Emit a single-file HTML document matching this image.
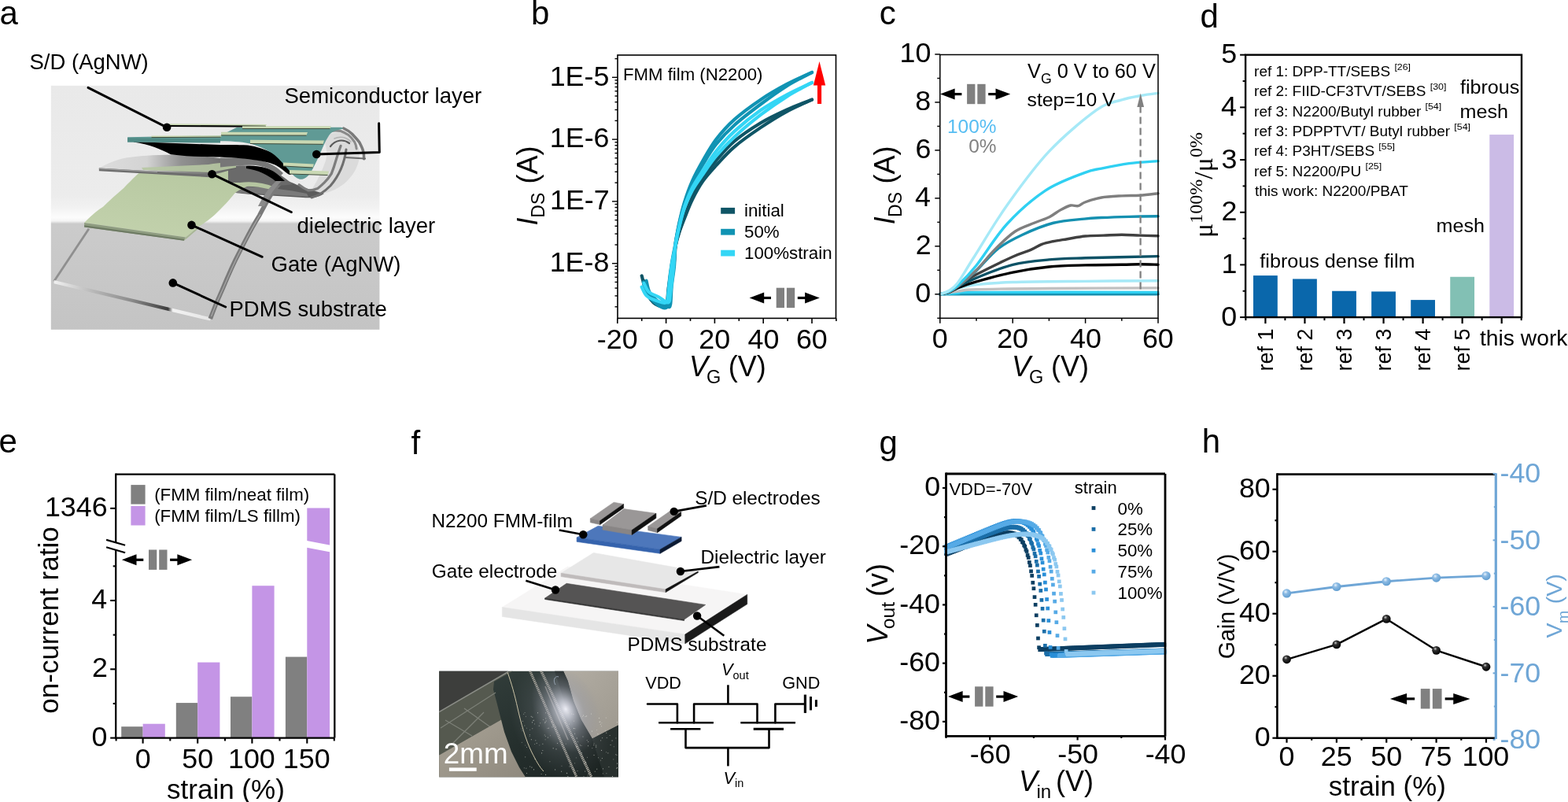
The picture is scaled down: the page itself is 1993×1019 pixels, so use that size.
<!DOCTYPE html>
<html><head><meta charset="utf-8"><title>Figure</title>
<style>html,body{margin:0;padding:0;background:#fff;}body{width:1993px;height:1019px;overflow:hidden;}svg{display:block;}</style>
</head><body>
<svg width="1993" height="1019" viewBox="0 0 1993 1019" font-family="'Liberation Sans', Arial, sans-serif">
<defs>
<linearGradient id="abg" x1="0" y1="0" x2="0" y2="1">
<stop offset="0" stop-color="#e9e9e9"/><stop offset="0.45" stop-color="#ececec"/><stop offset="0.5" stop-color="#f2f2f2"/>
<stop offset="0.54" stop-color="#fcfcfc"/><stop offset="0.555" stop-color="#f4f4f4"/><stop offset="0.566" stop-color="#cbcbcb"/><stop offset="1" stop-color="#c4c4c4"/></linearGradient>
<linearGradient id="agate" x1="0" y1="1" x2="0.3" y2="0"><stop offset="0" stop-color="#c3d2ad"/><stop offset="1" stop-color="#b8c9a2"/></linearGradient>
<linearGradient id="asubb" x1="0" y1="0" x2="1" y2="0">
<stop offset="0" stop-color="#f0f0f0"/><stop offset="0.25" stop-color="#b8b8b8"/><stop offset="0.5" stop-color="#8a8a8a"/><stop offset="0.73" stop-color="#3c3c3c"/><stop offset="0.76" stop-color="#f2f2f2"/><stop offset="1" stop-color="#e6e6e6"/></linearGradient>
<linearGradient id="adiel" x1="0" y1="0" x2="1" y2="0"><stop offset="0" stop-color="#dcdcdc"/><stop offset="0.35" stop-color="#d2d2d2"/><stop offset="0.6" stop-color="#8c8c8c"/><stop offset="1" stop-color="#5e5e5e"/></linearGradient>
<linearGradient id="agray" x1="0" y1="0" x2="1" y2="0"><stop offset="0" stop-color="#9a9a9a"/><stop offset="0.5" stop-color="#5a5a5a"/><stop offset="1" stop-color="#8a8a8a"/></linearGradient>
</defs>
<rect x="64.8" y="108.8" width="417.6" height="310" fill="url(#abg)"/>
<path d="M410,175 C420,168 432,166 444,171 C452,176 457,186 457,198 C456,212 448,224 438,233 C428,241 415,246 404,247 C398,246 396,243 398,238 C404,228 410,216 414,204 C417,194 414,182 410,175 Z" fill="#d6d6d6" opacity="0.75"/>
<path d="M293,224 C315,221 340,222 360,228 C372,232 384,238 395,241 C402,243 408,245 412,246 C405,251 395,252 385,251 C365,250 340,248 320,247 C308,246 300,245 293,244 Z" fill="#5c5c5c"/>
<path d="M300,238 C330,236 360,240 390,246 L392,250 C360,248 330,246 300,245 Z" fill="#7a7a7a"/>
<g fill="none" stroke-linecap="round">
<path d="M436.7,163 C441,165 444,167 447.3,170 C451,174 454,177 456.7,180.6 C459,185 460.5,188 461.4,191.2 C462.5,195 462.8,199 462.6,201.8" stroke="#7a7a7a" stroke-width="3.5"/>
<path d="M415.5,170 C417,168 419,167 421.3,166.5 C425,165.5 429,165.8 433.1,166.5 C437,168 440,169.5 442.5,171.2 C446,174 448.5,177 450.8,180.6 C452,183 452.8,186 453.1,188.9" stroke="#8a8a8a" stroke-width="3"/>
<path d="M433.1,185.3 C431,191 429,197 427.2,203 C425.5,209 423.5,215 421.3,220.7 C418,226 415,229.5 411.9,232.4 C409,235 406.5,237.5 403.7,239.5 C400,241 396,242 391.9,241.9 C387,240 383.5,237.5 380.1,234.8" stroke="#7d7d7d" stroke-width="3.2"/>
<path d="M440,190 C438,205 432,222 420,236 C412,244 404,249 396,251" stroke="#6e6e6e" stroke-width="3"/>
<path d="M420,186 C426,178 436,176 444,182" stroke="#5a5a5a" stroke-width="2.2"/>
<path d="M438,200 L464,201.5" stroke="#6a6a6a" stroke-width="2.2"/>
<path d="M425,176 C432,173 440,174 446,180" stroke="#b4b4b4" stroke-width="1.6"/>
</g>
<path d="M68.6,357.6 L112.9,290.7" stroke="#8f8f8f" stroke-width="2.8" fill="none"/>
<polygon points="68.6,356 267.3,403.3 267.3,407.6 68.6,360.2" fill="url(#asubb)"/>
<path d="M267.3,405 C272,392 277,380 282.4,368.4 C290,350 296,336 304,320.9 C313,303 320,289 329.9,273.4 C336,262 341,252 347.2,243.2 C352,236 357,231 362.3,228.1" stroke="#7a7a7a" stroke-width="5.6" fill="none"/>
<path d="M268.5,402 C273,390 278,378 283.5,366.6 C291,349 297,335 305,319.5 C314,302 321,288 331,272.4" stroke="#a8a8a8" stroke-width="1.2" fill="none"/>
<path d="M107.1,283.1 C118,272 126,266 131.3,262.6 C142,252 150,245 157.2,238.9 C163,233 168,228 172.3,223.8 C176,220 179,218 182,216 L300,214 C320,214 335,220 345,226 L330,232 C315,236 305,240 298,246 C290,256 284,262 275.9,270 C266,280 258,284 250,290 L236,301.5 Z" fill="url(#agate)"/>
<polygon points="107.1,283.1 236,301.5 233.8,305.8 107.1,288.5" fill="#8e9c80"/>
<polygon points="107.1,286.2 234.8,304 233.8,305.8 107.1,288.5" fill="#6d7a63"/>
<polygon points="236,301.5 250,290 252,290.5 238,302.5 233.8,305.8" fill="#a7b694"/>
<path d="M290,212 C305,209 325,210 340,214 C352,218 362,226 372,234 C360,236 345,236 330,234 C315,232 300,232 290,232 Z" fill="#6a6a6a"/>
<path d="M305,232 C320,230 335,232 350,238 L345,241 C330,237 318,236 305,237 Z" fill="#b5c5a0"/>
<path d="M328,262 C335,248 342,238 352,229 L358,230 C348,240 342,250 336,262 Z" fill="#8a8a8a"/>
<path d="M125.9,213.8 C135,208 148,203 160,200.5 C180,197 210,196 240,197 C262,198 280,201 300,204 L300,214 C280,220 270,222 267.3,222.7 C220,221 170,217 125.9,214.5 Z" fill="url(#adiel)" opacity="0.95"/>
<polygon points="125.9,213.6 267.3,221.8 267.3,225.2 125.9,217.2" fill="#6e6e6e"/>
<polygon points="125.9,213.6 200,217.8 200,219.2 125.9,215" fill="#9a9a9a"/>
<path d="M180,213 L265,209 C275,207 290,206 300,207 L300,213 L267,219 L182,216 Z" fill="#b6c6a2" opacity="0.9"/>
<path d="M280,200.6 C300,200 320,201 335,205 C345,208 352,212 360,220 L356,224 C346,216 338,212 325,210 C310,209 295,211 280,212.4 Z" fill="#777"/>
<path d="M313,211 C325,210 338,212 348,218 C354,222 358,226 362,230 L350,230 C340,222 328,216 313,214 Z" fill="#000"/>
<path d="M169.9,180.5 C190,183 205,190 217,196.2 C240,199 262,199.5 280,199.5 C300,200.6 315,201.8 325,203.5 C338.9,205.4 345,207.5 350.7,210 C357,213.5 362.4,218.3 366,221 C369.5,223 371,222 372,216 C365,208 357,200 348,195 C338,190 326,186 315,184.5 C300,184 290,184 280,184 L170,180 Z" fill="#000"/>
<path d="M162.1,174.2 L280,172.2 L301.2,161.8 L433.1,161.8 C437,162.5 437,163.5 433,164.5 C425,166 420,168 417,174 C413,180 410,188 406,197 C402,206 399,212 395,219 C391,225 386,228.5 381,227.7 C376,226.5 372,222 367,216 C361,209 356,203 349,197 C341,191 332,187 320,183 C310,180.5 300,179.5 280,179.2 L162.1,180.4 Z" fill="#609a95"/>
<polygon points="162.1,175.2 280,176.5 280,181.6 162.1,180.6" fill="#4f8a85"/>
<polygon points="212,157.2 339,158 337.5,160.2 212,159.4" fill="#c9d8b3"/>
<line x1="212" y1="159.4" x2="337.5" y2="160.2" stroke="#3f4a3a" stroke-width="1"/>
<line x1="212" y1="160" x2="338" y2="160.8" stroke="#000" stroke-width="1.8"/>
<polygon points="192.5,172.6 282,172.2 280.5,174.2 192.5,174.6" fill="#c9d8b3"/>
<line x1="192.5" y1="174.6" x2="280.5" y2="174.2" stroke="#3f4a3a" stroke-width="1"/>
<polygon points="308,160.3 421,160.3 419.5,163.5 308,163.5" fill="#c9d8b3"/>
<line x1="308" y1="163.5" x2="419.5" y2="163.5" stroke="#3f4a3a" stroke-width="1"/>
<polygon points="281,167.7 391,167.9 389.5,172.1 281,171.9" fill="#c9d8b3"/>
<line x1="281" y1="171.9" x2="389.5" y2="172.1" stroke="#3f4a3a" stroke-width="1"/>
<polygon points="318,177.7 412,178.5 410.5,183.3 318,182.5" fill="#c9d8b3"/>
<line x1="318" y1="182.5" x2="410.5" y2="183.3" stroke="#3f4a3a" stroke-width="1"/>
<polygon points="360,206.5 399,208.5 397.5,213 360,211" fill="#c9d8b3"/>
<line x1="360" y1="211" x2="397.5" y2="213" stroke="#3f4a3a" stroke-width="1"/>
<polygon points="368,216 418,217.5 416.5,222.5 368,221" fill="#c9d8b3"/>
<line x1="368" y1="221" x2="416.5" y2="222.5" stroke="#3f4a3a" stroke-width="1"/>
<polyline points="112,111.4 212.1,161.8" fill="none" stroke="#000" stroke-width="3" stroke-linejoin="round" stroke-linecap="round" stroke-linecap="butt" stroke-linejoin="miter"/>
<circle cx="212.1" cy="161.8" r="5.3" fill="#000"/>
<polyline points="402.3,196 482.3,193.6 481.6,156.7" fill="none" stroke="#000" stroke-width="3" stroke-linejoin="round" stroke-linecap="round" stroke-linecap="butt" stroke-linejoin="miter"/>
<circle cx="402.3" cy="196" r="5.3" fill="#000"/>
<polyline points="269.5,221.2 370.3,269.5" fill="none" stroke="#000" stroke-width="3" stroke-linejoin="round" stroke-linecap="round" stroke-linecap="butt" stroke-linejoin="miter"/>
<circle cx="269.5" cy="221.2" r="5.3" fill="#000"/>
<polyline points="243.5,285.9 333.2,326.3" fill="none" stroke="#000" stroke-width="3" stroke-linejoin="round" stroke-linecap="round" stroke-linecap="butt" stroke-linejoin="miter"/>
<circle cx="243.5" cy="285.9" r="5.3" fill="#000"/>
<polyline points="219.8,359.4 286.7,390" fill="none" stroke="#000" stroke-width="3" stroke-linejoin="round" stroke-linecap="round" stroke-linecap="butt" stroke-linejoin="miter"/>
<circle cx="219.8" cy="359.4" r="5.3" fill="#000"/>
<text x="37.5" y="88" font-size="27.5" text-anchor="start" fill="#000">S/D (AgNW)</text>
<text x="361.5" y="131" font-size="27.5" text-anchor="start" fill="#000">Semiconductor layer</text>
<text x="377.5" y="296" font-size="27.5" text-anchor="start" fill="#000">dielectric layer</text>
<text x="344.5" y="345.3" font-size="27.5" text-anchor="start" fill="#000">Gate (AgNW)</text>
<text x="291.5" y="402.3" font-size="27.5" text-anchor="start" fill="#000">PDMS substrate</text>
<text x="-0.59" y="30.8" font-size="42" text-anchor="start" fill="#000">a</text>
<text x="674.97" y="30.8" font-size="42" text-anchor="start" fill="#000">b</text>
<text x="1117.71" y="31" font-size="42" text-anchor="start" fill="#000">c</text>
<text x="1525.62" y="34.5" font-size="42" text-anchor="start" fill="#000">d</text>
<text x="-1.49" y="575" font-size="42" text-anchor="start" fill="#000">e</text>
<text x="522.57" y="576.8" font-size="42" text-anchor="start" fill="#000">f</text>
<text x="1117.42" y="576.5" font-size="42" text-anchor="start" fill="#000">g</text>
<text x="1527.66" y="574.8" font-size="42" text-anchor="start" fill="#000">h</text>
<path d="M818.17,356.76 C819.2,360.05 821.26,371.21 824.35,376.46 C827.44,381.72 832.59,386.84 836.71,388.28 C840.83,389.73 846.5,388.81 849.07,385.13 C851.65,381.45 850.87,374.65 852.16,366.22 C853.45,357.79 855.66,343.84 856.8,334.57 C857.93,325.31 857.88,317.35 858.96,310.63 C860.04,303.92 861.43,300.18 863.29,294.28 C865.14,288.38 867.3,282.56 870.08,275.23 C872.87,267.9 876.06,258.67 879.97,250.32 C883.89,241.97 888.52,232.85 893.57,225.13 C898.62,217.41 903.61,211.61 910.25,204 C916.9,196.39 924,187.43 933.43,179.47 C942.85,171.52 955.68,162.94 966.8,156.27 C977.93,149.59 989.31,144.34 1000.17,139.41 C1011.04,134.47 1026.7,128.79 1032,126.67" fill="none" stroke="#0f5566" stroke-width="4.2" stroke-linejoin="round" stroke-linecap="round"/>
<path d="M815.7,350.46 C816.73,353.74 818.79,364.91 821.88,370.16 C824.97,375.41 830.12,379.48 834.24,381.98 C838.36,384.48 844.02,387.76 846.6,385.13 C849.18,382.51 848.4,374.63 849.69,366.22 C850.98,357.81 852.78,343.89 854.33,334.7 C855.87,325.51 857.47,317.63 858.96,311.06 C860.45,304.49 861.43,300.95 863.29,295.3 C865.14,289.65 867.3,284.14 870.08,277.18 C872.87,270.22 876.06,261.42 879.97,253.54 C883.89,245.66 888.52,237.12 893.57,229.9 C898.62,222.67 903.61,217.42 910.25,210.2 C916.9,202.97 924,194.57 933.43,186.56 C942.85,178.54 955.68,169.61 966.8,162.13 C977.93,154.64 989.31,147.55 1000.17,141.64 C1011.04,135.73 1026.7,129.16 1032,126.67" fill="none" stroke="#0f5566" stroke-width="4.2" stroke-linejoin="round" stroke-linecap="round"/>
<path d="M821.57,356.76 C822.34,359.39 823.27,367.8 826.21,372.52 C829.14,377.25 835.42,382.24 839.18,385.13 C842.94,388.02 846.6,389.6 848.76,389.86 C850.93,390.12 851.34,391.04 852.16,386.71 C852.99,382.37 852.88,372.1 853.71,363.86 C854.53,355.61 856.33,346.11 857.11,337.24 C857.88,328.36 857.31,319.4 858.34,310.61 C859.37,301.83 861.33,293.17 863.29,284.5 C865.24,275.84 867.3,267.2 870.08,258.63 C872.87,250.07 876.06,241.44 879.97,233.12 C883.89,224.79 888.52,216.96 893.57,208.66 C898.62,200.36 903.61,191.58 910.25,183.3 C916.9,175.02 924,167.43 933.43,158.97 C942.85,150.5 955.68,140.82 966.8,132.53 C977.93,124.23 989.31,115.96 1000.17,109.2 C1011.04,102.44 1026.7,94.86 1032,92" fill="none" stroke="#1093b3" stroke-width="4.2" stroke-linejoin="round" stroke-linecap="round"/>
<path d="M817.86,358.34 C818.64,360.97 819.56,369.37 822.5,374.1 C825.43,378.83 831.72,383.82 835.48,386.71 C839.24,389.6 842.89,391.44 845.06,391.44 C847.22,391.44 847.63,391.3 848.45,386.71 C849.28,382.11 849.18,372.13 850,363.86 C850.82,355.58 852.01,345.99 853.4,337.06 C854.79,328.13 856.69,319.2 858.34,310.27 C859.99,301.34 861.33,292.41 863.29,283.48 C865.24,274.55 867.3,265.62 870.08,256.69 C872.87,247.76 876.06,238.7 879.97,229.9 C883.89,221.1 888.52,212.69 893.57,203.89 C898.62,195.09 903.61,185.77 910.25,177.1 C916.9,168.43 924,160.29 933.43,151.88 C942.85,143.48 955.68,134.15 966.8,126.67 C977.93,119.18 989.31,112.75 1000.17,106.97 C1011.04,101.19 1026.7,94.49 1032,92" fill="none" stroke="#1093b3" stroke-width="4.2" stroke-linejoin="round" stroke-linecap="round"/>
<path d="M818.48,359.92 C819.51,361.75 821.57,368.06 824.66,370.95 C827.75,373.84 832.9,375.02 837.02,377.25 C841.14,379.48 846.81,385.53 849.38,384.34 C851.96,383.16 851.34,377.77 852.47,370.16 C853.6,362.55 855.2,348.21 856.18,338.68 C857.16,329.15 857.16,321.35 858.34,312.98 C859.53,304.61 861.33,296.58 863.29,288.44 C865.24,280.31 867.3,271.93 870.08,264.15 C872.87,256.37 876.06,248.93 879.97,241.78 C883.89,234.64 888.52,228.52 893.57,221.27 C898.62,214.01 903.61,206.16 910.25,198.27 C916.9,190.38 924,182.66 933.43,173.94 C942.85,165.21 955.68,154.48 966.8,145.92 C977.93,137.37 989.31,129.42 1000.17,122.6 C1011.04,115.78 1026.7,107.93 1032,105" fill="none" stroke="#33d6f5" stroke-width="4.2" stroke-linejoin="round" stroke-linecap="round"/>
<path d="M815.7,364.64 C816.73,366.48 818.79,372.79 821.88,375.68 C824.97,378.57 830.12,380.54 834.24,381.98 C838.36,383.42 844.02,386.31 846.6,384.34 C849.18,382.37 848.56,377.78 849.69,370.16 C850.82,362.54 851.96,348.23 853.4,338.64 C854.84,329.05 856.69,321.17 858.34,312.64 C859.99,304.1 861.33,295.83 863.29,287.42 C865.24,279.01 867.3,270.35 870.08,262.2 C872.87,254.06 876.06,246.18 879.97,238.56 C883.89,230.95 888.52,224.25 893.57,216.5 C898.62,208.75 903.61,200.35 910.25,192.07 C916.9,183.8 924,175.52 933.43,166.86 C942.85,158.19 955.68,147.81 966.8,140.06 C977.93,132.32 989.31,126.21 1000.17,120.36 C1011.04,114.52 1026.7,107.56 1032,105" fill="none" stroke="#33d6f5" stroke-width="4.2" stroke-linejoin="round" stroke-linecap="round"/>
<rect x="785" y="70" width="277.5" height="334.4" fill="none" stroke="#000" stroke-width="1.6"/>
<line x1="785" y1="389.78" x2="781.5" y2="389.78" stroke="#000" stroke-width="1.4"/>
<line x1="785" y1="375.9" x2="781.5" y2="375.9" stroke="#000" stroke-width="1.4"/>
<line x1="785" y1="366.06" x2="781.5" y2="366.06" stroke="#000" stroke-width="1.4"/>
<line x1="785" y1="358.42" x2="781.5" y2="358.42" stroke="#000" stroke-width="1.4"/>
<line x1="785" y1="352.18" x2="781.5" y2="352.18" stroke="#000" stroke-width="1.4"/>
<line x1="785" y1="346.91" x2="781.5" y2="346.91" stroke="#000" stroke-width="1.4"/>
<line x1="785" y1="342.34" x2="781.5" y2="342.34" stroke="#000" stroke-width="1.4"/>
<line x1="785" y1="338.31" x2="781.5" y2="338.31" stroke="#000" stroke-width="1.4"/>
<line x1="785" y1="334.7" x2="778" y2="334.7" stroke="#000" stroke-width="1.4"/>
<line x1="785" y1="310.98" x2="781.5" y2="310.98" stroke="#000" stroke-width="1.4"/>
<line x1="785" y1="297.1" x2="781.5" y2="297.1" stroke="#000" stroke-width="1.4"/>
<line x1="785" y1="287.26" x2="781.5" y2="287.26" stroke="#000" stroke-width="1.4"/>
<line x1="785" y1="279.62" x2="781.5" y2="279.62" stroke="#000" stroke-width="1.4"/>
<line x1="785" y1="273.38" x2="781.5" y2="273.38" stroke="#000" stroke-width="1.4"/>
<line x1="785" y1="268.11" x2="781.5" y2="268.11" stroke="#000" stroke-width="1.4"/>
<line x1="785" y1="263.54" x2="781.5" y2="263.54" stroke="#000" stroke-width="1.4"/>
<line x1="785" y1="259.51" x2="781.5" y2="259.51" stroke="#000" stroke-width="1.4"/>
<line x1="785" y1="255.9" x2="778" y2="255.9" stroke="#000" stroke-width="1.4"/>
<line x1="785" y1="232.18" x2="781.5" y2="232.18" stroke="#000" stroke-width="1.4"/>
<line x1="785" y1="218.3" x2="781.5" y2="218.3" stroke="#000" stroke-width="1.4"/>
<line x1="785" y1="208.46" x2="781.5" y2="208.46" stroke="#000" stroke-width="1.4"/>
<line x1="785" y1="200.82" x2="781.5" y2="200.82" stroke="#000" stroke-width="1.4"/>
<line x1="785" y1="194.58" x2="781.5" y2="194.58" stroke="#000" stroke-width="1.4"/>
<line x1="785" y1="189.31" x2="781.5" y2="189.31" stroke="#000" stroke-width="1.4"/>
<line x1="785" y1="184.74" x2="781.5" y2="184.74" stroke="#000" stroke-width="1.4"/>
<line x1="785" y1="180.71" x2="781.5" y2="180.71" stroke="#000" stroke-width="1.4"/>
<line x1="785" y1="177.1" x2="778" y2="177.1" stroke="#000" stroke-width="1.4"/>
<line x1="785" y1="153.38" x2="781.5" y2="153.38" stroke="#000" stroke-width="1.4"/>
<line x1="785" y1="139.5" x2="781.5" y2="139.5" stroke="#000" stroke-width="1.4"/>
<line x1="785" y1="129.66" x2="781.5" y2="129.66" stroke="#000" stroke-width="1.4"/>
<line x1="785" y1="122.02" x2="781.5" y2="122.02" stroke="#000" stroke-width="1.4"/>
<line x1="785" y1="115.78" x2="781.5" y2="115.78" stroke="#000" stroke-width="1.4"/>
<line x1="785" y1="110.51" x2="781.5" y2="110.51" stroke="#000" stroke-width="1.4"/>
<line x1="785" y1="105.94" x2="781.5" y2="105.94" stroke="#000" stroke-width="1.4"/>
<line x1="785" y1="101.91" x2="781.5" y2="101.91" stroke="#000" stroke-width="1.4"/>
<line x1="785" y1="98.3" x2="778" y2="98.3" stroke="#000" stroke-width="1.4"/>
<line x1="785" y1="74.58" x2="781.5" y2="74.58" stroke="#000" stroke-width="1.4"/>
<line x1="784.8" y1="404.4" x2="784.8" y2="410.9" stroke="#000" stroke-width="1.6"/>
<line x1="815.7" y1="404.4" x2="815.7" y2="407.9" stroke="#000" stroke-width="1.6"/>
<line x1="846.6" y1="404.4" x2="846.6" y2="410.9" stroke="#000" stroke-width="1.6"/>
<line x1="877.5" y1="404.4" x2="877.5" y2="407.9" stroke="#000" stroke-width="1.6"/>
<line x1="908.4" y1="404.4" x2="908.4" y2="410.9" stroke="#000" stroke-width="1.6"/>
<line x1="939.3" y1="404.4" x2="939.3" y2="407.9" stroke="#000" stroke-width="1.6"/>
<line x1="970.2" y1="404.4" x2="970.2" y2="410.9" stroke="#000" stroke-width="1.6"/>
<line x1="1001.1" y1="404.4" x2="1001.1" y2="407.9" stroke="#000" stroke-width="1.6"/>
<line x1="1032" y1="404.4" x2="1032" y2="410.9" stroke="#000" stroke-width="1.6"/>
<line x1="1062.9" y1="404.4" x2="1062.9" y2="407.9" stroke="#000" stroke-width="1.6"/>
<text x="774.31" y="108.5" font-size="35.8" text-anchor="end" fill="#000">1E-5</text>
<text x="774.49" y="187.3" font-size="35.8" text-anchor="end" fill="#000">1E-6</text>
<text x="774.67" y="266.1" font-size="35.8" text-anchor="end" fill="#000">1E-7</text>
<text x="774.31" y="344.9" font-size="35.8" text-anchor="end" fill="#000">1E-8</text>
<text x="758.85" y="443.2" font-size="35.8" text-anchor="start" fill="#000">-20</text>
<text x="836.67" y="443.2" font-size="35.8" text-anchor="start" fill="#000">0</text>
<text x="888.35" y="443.2" font-size="35.8" text-anchor="start" fill="#000">20</text>
<text x="950.6" y="443.2" font-size="35.8" text-anchor="start" fill="#000">40</text>
<text x="1011.95" y="443.2" font-size="35.8" text-anchor="start" fill="#000">60</text>
<g transform="translate(879.1 477.8)">
<text x="-3.06" y="0" font-size="36" text-anchor="start" fill="#000" font-style="italic">V</text>
<text x="19.03" y="9.6" font-size="23.5" text-anchor="start" fill="#000">G</text>
<text x="46.74" y="0" font-size="36" text-anchor="start" fill="#000">(V)</text>
</g>
<g transform="translate(682.9 285.1) rotate(-90)">
<text x="-1.44" y="0" font-size="36" text-anchor="start" fill="#000" font-style="italic">I</text>
<text x="8.46" y="8.9" font-size="23" text-anchor="start" fill="#000">DS</text>
<text x="51.54" y="0" font-size="36" text-anchor="start" fill="#000">(A)</text>
</g>
<text x="792" y="102.1" font-size="22.2" text-anchor="start" fill="#000">FMM film (N2200)</text>
<rect x="916.2" y="263.9" width="17.9" height="7.8" fill="#0f5566"/>
<text x="946" y="274.5" font-size="22.3" text-anchor="start" fill="#000">initial</text>
<rect x="916.2" y="290.8" width="17.9" height="7.8" fill="#1093b3"/>
<text x="946" y="301.6" font-size="22.3" text-anchor="start" fill="#000">50%</text>
<rect x="916.2" y="317.7" width="17.9" height="7.8" fill="#33d6f5"/>
<text x="946" y="328.7" font-size="22.3" text-anchor="start" fill="#000">100%strain</text>
<polygon points="952.6,378.5 971.2,371.5 971.2,385.5" fill="#000"/>
<rect x="969.6" y="376.9" width="10.4" height="3.2" fill="#000"/>
<rect x="986.7" y="365.7" width="10.3" height="25.4" fill="#808080"/>
<rect x="999.9" y="365.7" width="10.3" height="25.4" fill="#808080"/>
<rect x="1013.8" y="376.9" width="10.4" height="3.2" fill="#000"/>
<polygon points="1041.8,378.5 1023.1,371.5 1023.1,385.5" fill="#000"/>
<polygon points="1041.5,78.1 1033.9,108.4 1049.2,108.4" fill="#ff0000"/>
<rect x="1039" y="107" width="5.1" height="25" fill="#ff0000"/>
<polyline points="1194.8,373.8 1472,373.8" fill="none" stroke="#1590b0" stroke-width="3.6" stroke-linejoin="round" stroke-linecap="round"/>
<path d="M1194.8,373.8 C1198.65,373.55 1210.2,372.68 1217.9,372.28 C1225.6,371.87 1198.65,371.51 1241,371.36 C1283.35,371.21 1433.5,371.36 1472,371.36" fill="none" stroke="#2fd0f2" stroke-width="3.4" stroke-linejoin="round" stroke-linecap="round"/>
<path d="M1194.8,373.8 C1198.65,373.19 1210.2,371.16 1217.9,370.14 C1225.6,369.13 1221.75,368.31 1241,367.7 C1260.25,367.09 1294.9,366.79 1333.4,366.48 C1371.9,366.18 1448.9,365.98 1472,365.88" fill="none" stroke="#c0c0c0" stroke-width="3.4" stroke-linejoin="round" stroke-linecap="round"/>
<path d="M1194.8,373.8 C1196.72,373.19 1202.5,371.41 1206.35,370.14 C1210.2,368.87 1212.12,367.6 1217.9,366.18 C1223.67,364.76 1229.45,362.88 1241,361.61 C1252.55,360.34 1264.1,359.27 1287.2,358.56 C1310.3,357.85 1348.8,357.65 1379.6,357.34 C1410.4,357.04 1456.6,356.83 1472,356.73" fill="none" stroke="#a6e9f7" stroke-width="3.4" stroke-linejoin="round" stroke-linecap="round"/>
<path d="M1194.8,373.8 C1196.72,373.39 1202.5,372.73 1206.35,371.36 C1210.2,369.99 1212.12,367.81 1217.9,365.57 C1223.67,363.34 1229.45,361.2 1241,357.95 C1252.55,354.7 1271.8,349.21 1287.2,346.06 C1302.6,342.91 1318,340.58 1333.4,339.05 C1348.8,337.53 1364.2,337.38 1379.6,336.92 C1395,336.46 1414.25,336.51 1425.8,336.31 C1437.35,336.11 1441.2,335.7 1448.9,335.7 C1456.6,335.7 1468.15,336.21 1472,336.31" fill="none" stroke="#000000" stroke-width="3.4" stroke-linejoin="round" stroke-linecap="round"/>
<path d="M1194.8,373.8 C1196.72,373.29 1202.5,372.43 1206.35,370.75 C1210.2,369.08 1212.12,366.69 1217.9,363.74 C1223.67,360.8 1229.45,357.65 1241,353.07 C1252.55,348.5 1271.8,340.17 1287.2,336.31 C1302.6,332.45 1318,331.33 1333.4,329.91 C1348.8,328.49 1356.5,328.49 1379.6,327.78 C1402.7,327.06 1456.6,326 1472,325.64" fill="none" stroke="#0d5266" stroke-width="3.4" stroke-linejoin="round" stroke-linecap="round"/>
<path d="M1194.8,373.8 C1196.72,373.34 1202.5,372.89 1206.35,371.06 C1210.2,369.23 1212.12,366.54 1217.9,362.83 C1223.67,359.12 1229.45,354.9 1241,348.81 C1252.55,342.71 1275.65,331.48 1287.2,326.25 C1298.75,321.02 1304.14,320.05 1310.3,317.41 C1316.46,314.77 1319.54,312.18 1324.16,310.4 C1328.78,308.62 1332.63,307.86 1338.02,306.74 C1343.41,305.63 1349.57,304.81 1356.5,303.7 C1363.43,302.58 1371.9,300.8 1379.6,300.04 C1387.3,299.28 1395,299.43 1402.7,299.12 C1410.4,298.82 1418.1,298.21 1425.8,298.21 C1433.5,298.21 1441.2,298.87 1448.9,299.12 C1456.6,299.38 1468.15,299.63 1472,299.73" fill="none" stroke="#404040" stroke-width="3.4" stroke-linejoin="round" stroke-linecap="round"/>
<path d="M1194.8,373.8 C1196.72,373.29 1202.5,372.43 1206.35,370.75 C1210.2,369.08 1212.12,368.21 1217.9,363.74 C1223.67,359.27 1232.53,351.91 1241,343.93 C1249.47,335.95 1258.94,323.51 1268.72,315.89 C1278.5,308.27 1287.97,303.65 1299.67,298.21 C1311.38,292.77 1325.85,286.63 1338.94,283.27 C1352.03,279.92 1368.05,279.21 1378.21,278.09 C1388.38,276.98 1390.46,277.03 1399.93,276.57 C1409.4,276.11 1423.03,275.65 1435.04,275.35 C1447.05,275.04 1465.84,274.84 1472,274.74" fill="none" stroke="#1590b0" stroke-width="3.4" stroke-linejoin="round" stroke-linecap="round"/>
<path d="M1194.8,373.8 C1196.72,373.29 1202.5,372.43 1206.35,370.75 C1210.2,369.08 1212.12,368.31 1217.9,363.74 C1223.67,359.17 1233.3,351.04 1241,343.32 C1248.7,335.6 1255.94,325.59 1264.1,317.41 C1272.26,309.23 1281.58,299.94 1289.97,294.25 C1298.37,288.56 1307.14,286.37 1314.46,283.27 C1321.77,280.18 1328.39,278.35 1333.86,275.65 C1339.33,272.96 1342.79,269.56 1347.26,267.12 C1351.73,264.68 1356.81,261.94 1360.66,261.02 C1364.51,260.11 1367.2,262.34 1370.36,261.63 C1373.52,260.92 1374.67,258.53 1379.6,256.76 C1384.53,254.98 1392.23,252.29 1399.93,250.97 C1407.63,249.64 1417.64,249.29 1425.8,248.83 C1433.96,248.37 1441.2,248.73 1448.9,248.22 C1456.6,247.71 1468.15,246.19 1472,245.78" fill="none" stroke="#7f7f7f" stroke-width="3.4" stroke-linejoin="round" stroke-linecap="round"/>
<path d="M1194.8,373.8 C1196.72,373.19 1202.5,372.07 1206.35,370.14 C1210.2,368.21 1212.12,367.7 1217.9,362.22 C1223.67,356.73 1230.64,350.18 1241,337.22 C1251.36,324.27 1265.41,300.34 1280.04,284.49 C1294.67,268.64 1312.42,252.95 1328.78,242.13 C1345.14,231.31 1366.36,224.24 1378.21,219.57 C1390.07,214.9 1390.46,216.07 1399.93,214.08 C1409.4,212.1 1423.03,209.26 1435.04,207.68 C1447.05,206.11 1465.84,205.14 1472,204.64" fill="none" stroke="#2fd0f2" stroke-width="3.4" stroke-linejoin="round" stroke-linecap="round"/>
<path d="M1194.8,373.8 C1196.72,373.04 1202.58,371.67 1206.35,369.23 C1210.12,366.79 1212.28,366.08 1217.44,359.17 C1222.6,352.26 1226.87,344.18 1237.3,327.78 C1247.74,311.37 1264.02,283.27 1280.04,260.72 C1296.06,238.16 1314.42,212.61 1333.4,192.44 C1352.38,172.28 1378.52,150.64 1393.92,139.71 C1409.32,128.79 1416.33,129.96 1425.8,126.91 C1435.27,123.86 1443.05,122.85 1450.75,121.43 C1458.45,120 1468.46,118.89 1472,118.38" fill="none" stroke="#a6e9f7" stroke-width="3.4" stroke-linejoin="round" stroke-linecap="round"/>
<line x1="1449.6" y1="367.5" x2="1449.6" y2="134" stroke="#808080" stroke-width="2.3" stroke-dasharray="9,5"/>
<polygon points="1449.7,118.6 1445.3,136 1454.1,136" fill="#808080"/>
<rect x="1194.8" y="69.5" width="277.2" height="334.8" fill="none" stroke="#000" stroke-width="1.5"/>
<line x1="1194.8" y1="404.28" x2="1191.3" y2="404.28" stroke="#000" stroke-width="1.5"/>
<line x1="1194.8" y1="373.8" x2="1188.3" y2="373.8" stroke="#000" stroke-width="1.5"/>
<line x1="1194.8" y1="343.32" x2="1191.3" y2="343.32" stroke="#000" stroke-width="1.5"/>
<line x1="1194.8" y1="312.84" x2="1188.3" y2="312.84" stroke="#000" stroke-width="1.5"/>
<line x1="1194.8" y1="282.36" x2="1191.3" y2="282.36" stroke="#000" stroke-width="1.5"/>
<line x1="1194.8" y1="251.88" x2="1188.3" y2="251.88" stroke="#000" stroke-width="1.5"/>
<line x1="1194.8" y1="221.4" x2="1191.3" y2="221.4" stroke="#000" stroke-width="1.5"/>
<line x1="1194.8" y1="190.92" x2="1188.3" y2="190.92" stroke="#000" stroke-width="1.5"/>
<line x1="1194.8" y1="160.44" x2="1191.3" y2="160.44" stroke="#000" stroke-width="1.5"/>
<line x1="1194.8" y1="129.96" x2="1188.3" y2="129.96" stroke="#000" stroke-width="1.5"/>
<line x1="1194.8" y1="99.48" x2="1191.3" y2="99.48" stroke="#000" stroke-width="1.5"/>
<line x1="1194.8" y1="69" x2="1188.3" y2="69" stroke="#000" stroke-width="1.5"/>
<line x1="1194.8" y1="404.3" x2="1194.8" y2="410.8" stroke="#000" stroke-width="1.5"/>
<line x1="1241" y1="404.3" x2="1241" y2="407.8" stroke="#000" stroke-width="1.5"/>
<line x1="1287.2" y1="404.3" x2="1287.2" y2="410.8" stroke="#000" stroke-width="1.5"/>
<line x1="1333.4" y1="404.3" x2="1333.4" y2="407.8" stroke="#000" stroke-width="1.5"/>
<line x1="1379.6" y1="404.3" x2="1379.6" y2="410.8" stroke="#000" stroke-width="1.5"/>
<line x1="1425.8" y1="404.3" x2="1425.8" y2="407.8" stroke="#000" stroke-width="1.5"/>
<line x1="1472" y1="404.3" x2="1472" y2="410.8" stroke="#000" stroke-width="1.5"/>
<text x="1183.27" y="384.1" font-size="35.8" text-anchor="end" fill="#000">0</text>
<text x="1183.63" y="323.14" font-size="35.8" text-anchor="end" fill="#000">2</text>
<text x="1182.92" y="262.18" font-size="35.8" text-anchor="end" fill="#000">4</text>
<text x="1183.45" y="201.22" font-size="35.8" text-anchor="end" fill="#000">6</text>
<text x="1183.27" y="140.26" font-size="35.8" text-anchor="end" fill="#000">8</text>
<text x="1183.31" y="79.3" font-size="35.8" text-anchor="end" fill="#000">10</text>
<text x="1184.87" y="442.2" font-size="35.8" text-anchor="start" fill="#000">0</text>
<text x="1267.15" y="442.2" font-size="35.8" text-anchor="start" fill="#000">20</text>
<text x="1359.99" y="442.2" font-size="35.8" text-anchor="start" fill="#000">40</text>
<text x="1451.95" y="442.2" font-size="35.8" text-anchor="start" fill="#000">60</text>
<g transform="translate(1289 477.8)">
<text x="-3.06" y="0" font-size="36" text-anchor="start" fill="#000" font-style="italic">V</text>
<text x="19.03" y="8.8" font-size="23.5" text-anchor="start" fill="#000">G</text>
<text x="46.94" y="0" font-size="36" text-anchor="start" fill="#000">(V)</text>
</g>
<g transform="translate(1136.8 283.7) rotate(-90)">
<text x="-1.44" y="0" font-size="36" text-anchor="start" fill="#000" font-style="italic">I</text>
<text x="7.76" y="9.2" font-size="23" text-anchor="start" fill="#000">DS</text>
<text x="50.14" y="0" font-size="36" text-anchor="start" fill="#000">(A)</text>
</g>
<text x="1306" y="98.6" font-size="25.3" text-anchor="start" fill="#000">V<tspan font-size="17.7" dy="7.2">G</tspan><tspan dy="-7.2"> 0 V to 60 V</tspan></text>
<text x="1305.6" y="134.8" font-size="24.7" text-anchor="start" fill="#000">step=10 V</text>
<text x="1204" y="169.2" font-size="24.4" text-anchor="start" fill="#56bdf2">100%</text>
<text x="1231.3" y="193.9" font-size="24.4" text-anchor="start" fill="#808080">0%</text>
<polygon points="1195,119.6 1213.6,112.6 1213.6,126.6" fill="#000"/>
<rect x="1212" y="118" width="10.4" height="3.2" fill="#000"/>
<rect x="1229.1" y="106.8" width="10.3" height="25.4" fill="#808080"/>
<rect x="1242.3" y="106.8" width="10.3" height="25.4" fill="#808080"/>
<rect x="1256.2" y="118" width="10.4" height="3.2" fill="#000"/>
<polygon points="1284.2,119.6 1265.5,112.6 1265.5,126.6" fill="#000"/>
<rect x="1593" y="350.09" width="30.8" height="53.01" fill="#0a67ab"/>
<rect x="1643.05" y="354.42" width="30.8" height="48.68" fill="#0a67ab"/>
<rect x="1693.1" y="369.76" width="30.8" height="33.34" fill="#0a67ab"/>
<rect x="1743.15" y="370.43" width="30.8" height="32.67" fill="#0a67ab"/>
<rect x="1793.2" y="381.1" width="30.8" height="22" fill="#0a67ab"/>
<rect x="1843.25" y="351.76" width="30.8" height="51.34" fill="#82c0b4"/>
<rect x="1893.3" y="171.05" width="30.8" height="232.05" fill="#cbbbe6"/>
<rect x="1583.1" y="69.7" width="350.9" height="333.4" fill="none" stroke="#000" stroke-width="2.4"/>
<line x1="1583.1" y1="403.1" x2="1576.1" y2="403.1" stroke="#000" stroke-width="2"/>
<line x1="1583.1" y1="369.76" x2="1579.6" y2="369.76" stroke="#000" stroke-width="2"/>
<line x1="1583.1" y1="336.42" x2="1576.1" y2="336.42" stroke="#000" stroke-width="2"/>
<line x1="1583.1" y1="303.08" x2="1579.6" y2="303.08" stroke="#000" stroke-width="2"/>
<line x1="1583.1" y1="269.74" x2="1576.1" y2="269.74" stroke="#000" stroke-width="2"/>
<line x1="1583.1" y1="236.4" x2="1579.6" y2="236.4" stroke="#000" stroke-width="2"/>
<line x1="1583.1" y1="203.06" x2="1576.1" y2="203.06" stroke="#000" stroke-width="2"/>
<line x1="1583.1" y1="169.72" x2="1579.6" y2="169.72" stroke="#000" stroke-width="2"/>
<line x1="1583.1" y1="136.38" x2="1576.1" y2="136.38" stroke="#000" stroke-width="2"/>
<line x1="1583.1" y1="103.04" x2="1579.6" y2="103.04" stroke="#000" stroke-width="2"/>
<line x1="1583.1" y1="69.7" x2="1576.1" y2="69.7" stroke="#000" stroke-width="2"/>
<line x1="1608.4" y1="403.1" x2="1608.4" y2="411.1" stroke="#000" stroke-width="2.2"/>
<line x1="1633.4" y1="403.1" x2="1633.4" y2="407.1" stroke="#000" stroke-width="2"/>
<line x1="1658.45" y1="403.1" x2="1658.45" y2="411.1" stroke="#000" stroke-width="2.2"/>
<line x1="1683.45" y1="403.1" x2="1683.45" y2="407.1" stroke="#000" stroke-width="2"/>
<line x1="1708.5" y1="403.1" x2="1708.5" y2="411.1" stroke="#000" stroke-width="2.2"/>
<line x1="1733.5" y1="403.1" x2="1733.5" y2="407.1" stroke="#000" stroke-width="2"/>
<line x1="1758.55" y1="403.1" x2="1758.55" y2="411.1" stroke="#000" stroke-width="2.2"/>
<line x1="1783.55" y1="403.1" x2="1783.55" y2="407.1" stroke="#000" stroke-width="2"/>
<line x1="1808.6" y1="403.1" x2="1808.6" y2="411.1" stroke="#000" stroke-width="2.2"/>
<line x1="1833.6" y1="403.1" x2="1833.6" y2="407.1" stroke="#000" stroke-width="2"/>
<line x1="1858.65" y1="403.1" x2="1858.65" y2="411.1" stroke="#000" stroke-width="2.2"/>
<line x1="1883.65" y1="403.1" x2="1883.65" y2="407.1" stroke="#000" stroke-width="2"/>
<line x1="1908.7" y1="403.1" x2="1908.7" y2="411.1" stroke="#000" stroke-width="2.2"/>
<line x1="1933.7" y1="403.1" x2="1933.7" y2="407.1" stroke="#000" stroke-width="2"/>
<line x1="1583.4" y1="403.1" x2="1583.4" y2="407.1" stroke="#000" stroke-width="2"/>
<text x="1572.17" y="413.7" font-size="35.8" text-anchor="end" fill="#000">0</text>
<text x="1572.53" y="347.02" font-size="35.8" text-anchor="end" fill="#000">1</text>
<text x="1572.53" y="280.34" font-size="35.8" text-anchor="end" fill="#000">2</text>
<text x="1572.35" y="213.66" font-size="35.8" text-anchor="end" fill="#000">3</text>
<text x="1571.82" y="146.98" font-size="35.8" text-anchor="end" fill="#000">4</text>
<text x="1572.17" y="80.3" font-size="35.8" text-anchor="end" fill="#000">5</text>
<text x="0" y="0" font-size="27" text-anchor="start" fill="#000" transform="translate(1618.1 471.56) scale(1.04 1) rotate(-90)">ref 1</text>
<text x="0" y="0" font-size="27" text-anchor="start" fill="#000" transform="translate(1668.15 471.56) scale(1.04 1) rotate(-90)">ref 2</text>
<text x="0" y="0" font-size="27" text-anchor="start" fill="#000" transform="translate(1718.2 471.56) scale(1.04 1) rotate(-90)">ref 3</text>
<text x="0" y="0" font-size="27" text-anchor="start" fill="#000" transform="translate(1768.25 471.56) scale(1.04 1) rotate(-90)">ref 3</text>
<text x="0" y="0" font-size="27" text-anchor="start" fill="#000" transform="translate(1818.3 471.56) scale(1.04 1) rotate(-90)">ref 4</text>
<text x="0" y="0" font-size="27" text-anchor="start" fill="#000" transform="translate(1868.35 471.56) scale(1.04 1) rotate(-90)">ref 5</text>
<text x="0" y="0" font-size="26.9" text-anchor="start" fill="#000" transform="translate(1880.98 438.6) scale(1.05 1)">this work</text>
<text x="0" y="0" font-size="17.6" text-anchor="start" fill="#000" transform="translate(1594.07 97) scale(1.08 1)">ref 1: DPP-TT/SEBS <tspan font-size="11.5" dy="-8.4">[26]</tspan></text>
<text x="0" y="0" font-size="17.6" text-anchor="start" fill="#000" transform="translate(1594.07 122.33) scale(1.08 1)">ref 2: FIID-CF3TVT/SEBS <tspan font-size="11.5" dy="-8.4">[30]</tspan></text>
<text x="0" y="0" font-size="17.6" text-anchor="start" fill="#000" transform="translate(1594.07 147.66) scale(1.08 1)">ref 3: N2200/Butyl rubber <tspan font-size="11.5" dy="-8.4">[54]</tspan></text>
<text x="0" y="0" font-size="17.6" text-anchor="start" fill="#000" transform="translate(1594.07 172.99) scale(1.08 1)">ref 3: PDPPTVT/ Butyl rubber <tspan font-size="11.5" dy="-8.4">[54]</tspan></text>
<text x="0" y="0" font-size="17.6" text-anchor="start" fill="#000" transform="translate(1594.07 198.32) scale(1.08 1)">ref 4: P3HT/SEBS <tspan font-size="11.5" dy="-8.4">[55]</tspan></text>
<text x="0" y="0" font-size="17.6" text-anchor="start" fill="#000" transform="translate(1594.07 223.65) scale(1.08 1)">ref 5: N2200/PU <tspan font-size="11.5" dy="-8.4">[25]</tspan></text>
<text x="0" y="0" font-size="17.6" text-anchor="start" fill="#000" transform="translate(1595.02 248.98) scale(1.08 1)">this work: N2200/PBAT</text>
<text x="0" y="0" font-size="24.2" text-anchor="start" fill="#000" transform="translate(1601.32 340) scale(1.04 1)">fibrous dense film</text>
<text x="0" y="0" font-size="24.2" text-anchor="start" fill="#000" transform="translate(1825.56 294.9) scale(1.04 1)">mesh</text>
<text x="0" y="0" font-size="24.2" text-anchor="start" fill="#000" transform="translate(1855.92 119.4) scale(1.04 1)">fibrous</text>
<text x="0" y="0" font-size="24.2" text-anchor="start" fill="#000" transform="translate(1855.56 150.2) scale(1.04 1)">mesh</text>
<text x="1540.9" y="235" font-size="34" text-anchor="middle" fill="#000" transform="rotate(-90 1540.9 235)" font-family="'Liberation Serif', serif">&#956;<tspan font-size="24" dy="-12.6">100%</tspan><tspan dy="12.6">/&#956;</tspan><tspan font-size="24" dy="-12.6">0%</tspan></text>
<rect x="154.2" y="923.2" width="27.4" height="14.4" fill="#808080"/>
<rect x="181.6" y="919.7" width="28.2" height="17.9" fill="#c495e6"/>
<rect x="223.8" y="893.08" width="27.4" height="44.52" fill="#808080"/>
<rect x="251.2" y="841.57" width="28.2" height="96.03" fill="#c495e6"/>
<rect x="293" y="885.22" width="27.4" height="52.38" fill="#808080"/>
<rect x="320.4" y="744.23" width="28.2" height="193.37" fill="#c495e6"/>
<rect x="362.9" y="834.59" width="27.4" height="103.01" fill="#808080"/>
<rect x="390.3" y="645.5" width="28.8" height="292.1" fill="#c495e6"/>
<polygon points="386,686.2 424,693.6 424,702.3 386,695" fill="#fff"/>
<line x1="147.2" y1="602.6" x2="425.3" y2="602.6" stroke="#000" stroke-width="2.3"/>
<line x1="425.3" y1="602.6" x2="425.3" y2="937.6" stroke="#000" stroke-width="2.3"/>
<line x1="147.2" y1="937.6" x2="425.3" y2="937.6" stroke="#000" stroke-width="2.3"/>
<line x1="147.2" y1="601.5" x2="147.2" y2="689.4" stroke="#000" stroke-width="2.3"/>
<line x1="147.2" y1="698.2" x2="147.2" y2="938.7" stroke="#000" stroke-width="2.3"/>
<line x1="135.1" y1="685.9" x2="159.1" y2="692.8" stroke="#000" stroke-width="2.2"/>
<line x1="135.1" y1="695.2" x2="159.1" y2="702.3" stroke="#000" stroke-width="2.2"/>
<line x1="147.2" y1="937.6" x2="140.2" y2="937.6" stroke="#000" stroke-width="2.1"/>
<line x1="147.2" y1="850.3" x2="140.2" y2="850.3" stroke="#000" stroke-width="2.1"/>
<line x1="147.2" y1="763" x2="140.2" y2="763" stroke="#000" stroke-width="2.1"/>
<line x1="147.2" y1="893.95" x2="143.7" y2="893.95" stroke="#000" stroke-width="2.1"/>
<line x1="147.2" y1="806.65" x2="143.7" y2="806.65" stroke="#000" stroke-width="2.1"/>
<line x1="147.2" y1="719.35" x2="143.7" y2="719.35" stroke="#000" stroke-width="2.1"/>
<line x1="147.2" y1="645.9" x2="140.2" y2="645.9" stroke="#000" stroke-width="2.1"/>
<line x1="181.6" y1="937.6" x2="181.6" y2="944.6" stroke="#000" stroke-width="2.1"/>
<line x1="251.2" y1="937.6" x2="251.2" y2="944.6" stroke="#000" stroke-width="2.1"/>
<line x1="320.4" y1="937.6" x2="320.4" y2="944.6" stroke="#000" stroke-width="2.1"/>
<line x1="390.3" y1="937.6" x2="390.3" y2="944.6" stroke="#000" stroke-width="2.1"/>
<line x1="147.6" y1="937.6" x2="147.6" y2="941.4" stroke="#000" stroke-width="2.1"/>
<line x1="216.3" y1="937.6" x2="216.3" y2="941.4" stroke="#000" stroke-width="2.1"/>
<line x1="286" y1="937.6" x2="286" y2="941.4" stroke="#000" stroke-width="2.1"/>
<line x1="355.5" y1="937.6" x2="355.5" y2="941.4" stroke="#000" stroke-width="2.1"/>
<line x1="424.8" y1="937.6" x2="424.8" y2="941.4" stroke="#000" stroke-width="2.1"/>
<text x="136.47" y="947.5" font-size="35.8" text-anchor="end" fill="#000">0</text>
<text x="136.83" y="860.2" font-size="35.8" text-anchor="end" fill="#000">2</text>
<text x="136.12" y="772.9" font-size="35.8" text-anchor="end" fill="#000">4</text>
<text x="136.6" y="656" font-size="35.8" text-anchor="end" fill="#000">1346</text>
<text x="171.66" y="975.6" font-size="35.8" text-anchor="start" fill="#000">0</text>
<text x="231.33" y="975.6" font-size="35.8" text-anchor="start" fill="#000">50</text>
<text x="289.97" y="975.6" font-size="35.8" text-anchor="start" fill="#000">100</text>
<text x="359.87" y="975.6" font-size="35.8" text-anchor="start" fill="#000">150</text>
<text x="212.05" y="1014.7" font-size="35" text-anchor="start" fill="#000">strain (%)</text>
<g transform="translate(73.6 905.3) rotate(-90)">
<text x="-1.4" y="0" font-size="35" text-anchor="start" fill="#000">on-current ratio</text>
</g>
<rect x="166.4" y="616.1" width="18.2" height="24.5" fill="#808080"/>
<rect x="166.4" y="643" width="18.2" height="24.5" fill="#c495e6"/>
<text x="196.2" y="636.3" font-size="22.3" text-anchor="start" fill="#000">(FMM film/neat film)</text>
<text x="196.2" y="663" font-size="22.3" text-anchor="start" fill="#000">(FMM film/LS fillm)</text>
<polygon points="154.9,711.3 173.5,704.3 173.5,718.3" fill="#000"/>
<rect x="171.9" y="709.7" width="10.4" height="3.2" fill="#000"/>
<rect x="189" y="698.5" width="10.3" height="25.4" fill="#808080"/>
<rect x="202.2" y="698.5" width="10.3" height="25.4" fill="#808080"/>
<rect x="216.1" y="709.7" width="10.4" height="3.2" fill="#000"/>
<polygon points="244.1,711.3 225.4,704.3 225.4,718.3" fill="#000"/>
<polygon points="638.4,771.6 721.3,720.1 949.7,755.4 870.8,806" fill="#f6f5f5" stroke="#f6f5f5" stroke-width="0.6" stroke-linejoin="round"/>
<polygon points="638.4,771.6 870.8,806 870.8,817.8 638.4,783.4" fill="#e5e5e5" stroke="#e5e5e5" stroke-width="0.6" stroke-linejoin="round"/>
<polygon points="870.8,806 949.7,755.4 949.7,767.6 870.8,817.8" fill="#1a1a1a" stroke="#1a1a1a" stroke-width="0.6" stroke-linejoin="round"/>
<polygon points="692.6,760.1 720.1,741.3 896.7,768.4 869.6,787.2" fill="#555454" stroke="#555454" stroke-width="0.6" stroke-linejoin="round"/>
<polygon points="692.6,760.1 869.6,787.2 869.6,788.6 692.6,761.5" fill="#333" stroke="#333" stroke-width="0.6" stroke-linejoin="round"/>
<polygon points="713.1,728.3 754.3,702.4 887.3,726 846.1,748.8" fill="#e7e7e7" stroke="#e7e7e7" stroke-width="0.6" stroke-linejoin="round"/>
<polygon points="713.1,728.3 846.1,748.8 846.1,752.6 713.1,732.6" fill="#bfbbbb" stroke="#bfbbbb" stroke-width="0.6" stroke-linejoin="round"/>
<polygon points="846.1,748.8 887.3,726 887.3,727.6 846.1,752.6" fill="#111" stroke="#111" stroke-width="0.6" stroke-linejoin="round"/>
<polygon points="733.1,683 760.2,668.3 866.1,682.4 839,698.2" fill="#4d77bb" stroke="#4d77bb" stroke-width="0.6" stroke-linejoin="round"/>
<polygon points="733.1,683 839,698.2 839,703.3 733.1,688.3" fill="#3563ad" stroke="#3563ad" stroke-width="0.6" stroke-linejoin="round"/>
<polygon points="839,698.2 866.1,682.4 866.1,687.5 839,703.3" fill="#0b1a33" stroke="#0b1a33" stroke-width="0.6" stroke-linejoin="round"/>
<polygon points="750.3,658.9 780.2,638.2 792.6,640.5 762.6,661.7" fill="#9a9797" stroke="#9a9797" stroke-width="0.6"/>
<polygon points="750.3,658.9 762.6,661.7 762.6,666.6 750.3,663.8" fill="#888585" stroke="#888585" stroke-width="0.6"/>
<polygon points="762.6,661.7 792.6,640.5 792.6,645.4 762.6,666.6" fill="#111" stroke="#111" stroke-width="0.6"/>
<polygon points="766,667.1 793.1,646.6 833.9,652.3 803.2,673.5" fill="#9a9797" stroke="#9a9797" stroke-width="0.6"/>
<polygon points="766,667.1 803.2,673.5 803.2,679.5 766,673.1" fill="#888585" stroke="#888585" stroke-width="0.6"/>
<polygon points="803.2,673.5 833.9,652.3 833.9,658.3 803.2,679.5" fill="#111" stroke="#111" stroke-width="0.6"/>
<polygon points="823.7,668.8 853.2,648.3 865.7,650.6 835.5,671.8" fill="#9a9797" stroke="#9a9797" stroke-width="0.6"/>
<polygon points="823.7,668.8 835.5,671.8 835.5,676.7 823.7,673.7" fill="#888585" stroke="#888585" stroke-width="0.6"/>
<polygon points="835.5,671.8 865.7,650.6 865.7,655.5 835.5,676.7" fill="#111" stroke="#111" stroke-width="0.6"/>
<text x="548.5" y="669.5" font-size="24.3" text-anchor="start" fill="#000">N2200 FMM-film</text>
<line x1="710.7" y1="673.5" x2="741.3" y2="679.3" stroke="#000" stroke-width="2.6"/>
<circle cx="741.3" cy="679.3" r="5.2" fill="#000"/>
<text x="883.2" y="640.5" font-size="24.3" text-anchor="start" fill="#000">S/D electrodes</text>
<line x1="897.9" y1="642.4" x2="856.7" y2="649.9" stroke="#000" stroke-width="2.6"/>
<circle cx="856.7" cy="649.9" r="5.2" fill="#000"/>
<text x="890.5" y="715.8" font-size="24.3" text-anchor="start" fill="#000">Dielectric layer</text>
<line x1="914.4" y1="720.1" x2="864.9" y2="726" stroke="#000" stroke-width="2.6"/>
<circle cx="864.9" cy="726" r="5.2" fill="#000"/>
<text x="548.8" y="734.2" font-size="24.3" text-anchor="start" fill="#000">Gate electrode</text>
<line x1="668.3" y1="737.7" x2="706" y2="749.5" stroke="#000" stroke-width="2.6"/>
<circle cx="706" cy="749.5" r="5.2" fill="#000"/>
<text x="797.5" y="827.2" font-size="24.3" text-anchor="start" fill="#000">PDMS substrate</text>
<line x1="920.3" y1="807.7" x2="886.1" y2="782.5" stroke="#000" stroke-width="2.6"/>
<circle cx="886.1" cy="782.5" r="5.2" fill="#000"/>
<defs>
<radialGradient id="phglow" cx="0.5" cy="0.5" r="0.5"><stop offset="0" stop-color="#f4f4fc" stop-opacity="0.95"/><stop offset="0.2" stop-color="#d8dae6" stop-opacity="0.75"/><stop offset="0.55" stop-color="#9a9eaa" stop-opacity="0.35"/><stop offset="1" stop-color="#8a8c98" stop-opacity="0"/></radialGradient>
<linearGradient id="phbeige" x1="0" y1="0" x2="1" y2="1"><stop offset="0" stop-color="#a9a396"/><stop offset="1" stop-color="#8f897e"/></linearGradient>
<linearGradient id="phright" x1="0" y1="0" x2="1" y2="1"><stop offset="0" stop-color="#b2ada3"/><stop offset="1" stop-color="#9e998f"/></linearGradient>
<linearGradient id="phgreen" x1="0" y1="0" x2="1" y2="1"><stop offset="0" stop-color="#36423f"/><stop offset="0.6" stop-color="#242e2c"/><stop offset="1" stop-color="#1b2322"/></linearGradient>
<clipPath id="phclip"><rect x="558.1" y="852.5" width="227.9" height="135.1"/></clipPath>
</defs>
<g clip-path="url(#phclip)">
<rect x="558.1" y="852.5" width="227.9" height="135.1" fill="url(#phgreen)"/>
<polygon points="558.1,852.5 646,852.5 558.1,904.5" fill="#3d3e3c"/>
<polygon points="558.1,904.5 646,853.5 652,852.5 628,866 627,876 631,891 637,914.4 558.1,959.6" fill="#55594f"/>
<line x1="560" y1="925" x2="630" y2="880" stroke="#7d8078" stroke-width="1.2"/>
<line x1="575" y1="945" x2="615" y2="905" stroke="#7d8078" stroke-width="1.2"/>
<line x1="566" y1="915" x2="600" y2="935" stroke="#7d8078" stroke-width="1.2"/>
<line x1="590" y1="900" x2="625" y2="925" stroke="#7d8078" stroke-width="1.2"/>
<line x1="558.1" y1="904.5" x2="646" y2="853.5" stroke="#8a8c86" stroke-width="1.5"/>
<polygon points="558.1,959.6 637,914.4 641,930 650,955 660,975 668,987.6 558.1,987.6" fill="url(#phbeige)"/>
<polygon points="716,852.5 786,852.5 786,921.5 752.8,938.4 738.7,914.4 728.8,890.4 721.7,865" fill="url(#phright)"/>
<polygon points="705,852.5 716,852.5 721.7,865 728.8,890.4 738.7,914.4 752.8,938.4 768,987.6 752,987.6 735,940 722,905 712,875" fill="#1c2422"/>
<polygon points="752.8,938.4 786,921.5 786,987.6 768,987.6" fill="#28302e"/>
<g stroke-linecap="butt" fill="none">
<path d="M673.7,852.5 L733,987.6" stroke="#bcb6aa" stroke-width="3.2" stroke-dasharray="1.5,0.8" opacity="0.85"/>
<path d="M687.8,852.5 L752,987.6" stroke="#c0baae" stroke-width="3.4" stroke-dasharray="1.5,0.8" opacity="0.85"/>
<path d="M693,872 L722,940" stroke="#a8a298" stroke-width="1.6" opacity="0.7"/>
<path d="M645.4,855 C650,868 654,882 658,900 C662,918 668,940 676,956 C681,966 686,975 691,980" stroke="#cfc6a8" stroke-width="1"/>
<path d="M706,870 C702,864 706,858 710,860" stroke="#9ab" stroke-width="1"/>
</g>
<ellipse cx="712" cy="915" rx="60" ry="80" transform="rotate(-25 712 915)" fill="url(#phglow)" opacity="0.45"/><ellipse cx="719" cy="901" rx="40" ry="58" transform="rotate(-25 719 901)" fill="url(#phglow)"/>
<rect x="700.8" y="917.37" width="0.9" height="0.9" fill="#e8e8e0" opacity="0.73"/>
<rect x="669.13" y="948.94" width="0.9" height="0.9" fill="#e8e8e0" opacity="0.58"/>
<rect x="667.31" y="946.61" width="0.9" height="0.9" fill="#e8e8e0" opacity="0.42"/>
<rect x="714.64" y="910.73" width="0.9" height="0.9" fill="#e8e8e0" opacity="0.45"/>
<rect x="713.49" y="972.8" width="0.9" height="0.9" fill="#e8e8e0" opacity="0.46"/>
<rect x="688.13" y="956.45" width="0.9" height="0.9" fill="#e8e8e0" opacity="0.87"/>
<rect x="732.71" y="937.53" width="0.9" height="0.9" fill="#e8e8e0" opacity="0.89"/>
<rect x="665.87" y="975.39" width="0.9" height="0.9" fill="#e8e8e0" opacity="0.54"/>
<rect x="678.18" y="914.66" width="0.9" height="0.9" fill="#e8e8e0" opacity="0.55"/>
<rect x="762.83" y="919.82" width="0.9" height="0.9" fill="#e8e8e0" opacity="0.69"/>
<rect x="740.5" y="935.54" width="0.9" height="0.9" fill="#e8e8e0" opacity="0.67"/>
<rect x="667.91" y="909.89" width="0.9" height="0.9" fill="#e8e8e0" opacity="0.5"/>
<rect x="745.73" y="940.06" width="0.9" height="0.9" fill="#e8e8e0" opacity="0.56"/>
<rect x="733.78" y="942.16" width="0.9" height="0.9" fill="#e8e8e0" opacity="0.55"/>
<rect x="760.09" y="962.32" width="0.9" height="0.9" fill="#e8e8e0" opacity="0.52"/>
<rect x="732.38" y="948.07" width="0.9" height="0.9" fill="#e8e8e0" opacity="0.84"/>
<rect x="751.91" y="928.61" width="0.9" height="0.9" fill="#e8e8e0" opacity="0.89"/>
<rect x="674.88" y="939.29" width="0.9" height="0.9" fill="#e8e8e0" opacity="0.78"/>
<rect x="679.15" y="945.09" width="0.9" height="0.9" fill="#e8e8e0" opacity="0.42"/>
<rect x="744.2" y="967.69" width="0.9" height="0.9" fill="#e8e8e0" opacity="0.69"/>
<rect x="770.31" y="930.73" width="0.9" height="0.9" fill="#e8e8e0" opacity="0.75"/>
<rect x="734.89" y="952.55" width="0.9" height="0.9" fill="#e8e8e0" opacity="0.63"/>
<rect x="765.84" y="982.46" width="0.9" height="0.9" fill="#e8e8e0" opacity="0.64"/>
<rect x="743.68" y="909.97" width="0.9" height="0.9" fill="#e8e8e0" opacity="0.75"/>
<rect x="741.54" y="986.43" width="0.9" height="0.9" fill="#e8e8e0" opacity="0.81"/>
<rect x="695.86" y="936.63" width="0.9" height="0.9" fill="#e8e8e0" opacity="0.73"/>
<rect x="662.84" y="942.86" width="0.9" height="0.9" fill="#e8e8e0" opacity="0.48"/>
<rect x="674.75" y="909.83" width="0.9" height="0.9" fill="#e8e8e0" opacity="0.78"/>
<rect x="676.3" y="925.3" width="0.9" height="0.9" fill="#e8e8e0" opacity="0.6"/>
<rect x="769.8" y="911.61" width="0.9" height="0.9" fill="#e8e8e0" opacity="0.62"/>
<rect x="729.23" y="977.44" width="0.9" height="0.9" fill="#e8e8e0" opacity="0.81"/>
<rect x="768.86" y="927.83" width="0.9" height="0.9" fill="#e8e8e0" opacity="0.61"/>
<rect x="705.21" y="977.5" width="0.9" height="0.9" fill="#e8e8e0" opacity="0.88"/>
<rect x="679.02" y="919.45" width="0.9" height="0.9" fill="#e8e8e0" opacity="0.52"/>
<rect x="689.4" y="944.77" width="0.9" height="0.9" fill="#e8e8e0" opacity="0.69"/>
<rect x="693.11" y="905.34" width="0.9" height="0.9" fill="#e8e8e0" opacity="0.61"/>
<rect x="706.53" y="951.44" width="0.9" height="0.9" fill="#e8e8e0" opacity="0.88"/>
<rect x="747" y="947.27" width="0.9" height="0.9" fill="#e8e8e0" opacity="0.71"/>
<rect x="745.2" y="909.43" width="0.9" height="0.9" fill="#e8e8e0" opacity="0.85"/>
<rect x="758.28" y="976.71" width="0.9" height="0.9" fill="#e8e8e0" opacity="0.8"/>
<rect x="709.44" y="937.72" width="0.9" height="0.9" fill="#e8e8e0" opacity="0.45"/>
<rect x="739.92" y="910.1" width="0.9" height="0.9" fill="#e8e8e0" opacity="0.43"/>
<rect x="686.3" y="918.31" width="0.9" height="0.9" fill="#e8e8e0" opacity="0.57"/>
<rect x="666.62" y="905.02" width="0.9" height="0.9" fill="#e8e8e0" opacity="0.48"/>
<rect x="672.78" y="934.82" width="0.9" height="0.9" fill="#e8e8e0" opacity="0.41"/>
<rect x="770.17" y="955.35" width="0.9" height="0.9" fill="#e8e8e0" opacity="0.47"/>
<rect x="691.78" y="933.49" width="0.9" height="0.9" fill="#e8e8e0" opacity="0.58"/>
<rect x="675.48" y="974.61" width="0.9" height="0.9" fill="#e8e8e0" opacity="0.9"/>
<rect x="718.71" y="944.67" width="0.9" height="0.9" fill="#e8e8e0" opacity="0.44"/>
<rect x="672.88" y="933.1" width="0.9" height="0.9" fill="#e8e8e0" opacity="0.53"/>
<rect x="764.44" y="918.24" width="0.9" height="0.9" fill="#e8e8e0" opacity="0.41"/>
<rect x="779.82" y="948.32" width="0.9" height="0.9" fill="#e8e8e0" opacity="0.47"/>
<rect x="728.44" y="907.22" width="0.9" height="0.9" fill="#e8e8e0" opacity="0.66"/>
<rect x="783.29" y="975.79" width="0.9" height="0.9" fill="#e8e8e0" opacity="0.75"/>
<rect x="692.9" y="935.07" width="0.9" height="0.9" fill="#e8e8e0" opacity="0.48"/>
<rect x="757.26" y="948.67" width="0.9" height="0.9" fill="#e8e8e0" opacity="0.79"/>
<rect x="701.54" y="923.29" width="0.9" height="0.9" fill="#e8e8e0" opacity="0.81"/>
<rect x="784.1" y="974.92" width="0.9" height="0.9" fill="#e8e8e0" opacity="0.8"/>
<rect x="763.11" y="965.67" width="0.9" height="0.9" fill="#e8e8e0" opacity="0.51"/>
<rect x="725.22" y="934.16" width="0.9" height="0.9" fill="#e8e8e0" opacity="0.41"/>
<rect x="663.52" y="927.91" width="0.9" height="0.9" fill="#e8e8e0" opacity="0.53"/>
<rect x="747.26" y="983.43" width="0.9" height="0.9" fill="#e8e8e0" opacity="0.62"/>
<rect x="778.06" y="986.02" width="0.9" height="0.9" fill="#e8e8e0" opacity="0.88"/>
<rect x="705.94" y="923.08" width="0.9" height="0.9" fill="#e8e8e0" opacity="0.51"/>
<rect x="684.78" y="921.76" width="0.9" height="0.9" fill="#e8e8e0" opacity="0.71"/>
<rect x="773.44" y="973.92" width="0.9" height="0.9" fill="#e8e8e0" opacity="0.64"/>
<rect x="742.28" y="970.57" width="0.9" height="0.9" fill="#e8e8e0" opacity="0.44"/>
<rect x="743.23" y="979.6" width="0.9" height="0.9" fill="#e8e8e0" opacity="0.79"/>
<rect x="754.52" y="944.2" width="0.9" height="0.9" fill="#e8e8e0" opacity="0.49"/>
<rect x="759.43" y="932.27" width="0.9" height="0.9" fill="#e8e8e0" opacity="0.8"/>
<rect x="782.43" y="937.46" width="0.9" height="0.9" fill="#e8e8e0" opacity="0.6"/>
<rect x="779.3" y="964.43" width="0.9" height="0.9" fill="#e8e8e0" opacity="0.49"/>
<rect x="676.01" y="917.39" width="0.9" height="0.9" fill="#e8e8e0" opacity="0.85"/>
<rect x="761.62" y="916.99" width="0.9" height="0.9" fill="#e8e8e0" opacity="0.81"/>
<rect x="783.52" y="958.9" width="0.9" height="0.9" fill="#e8e8e0" opacity="0.58"/>
<rect x="729.13" y="915.74" width="0.9" height="0.9" fill="#e8e8e0" opacity="0.41"/>
<rect x="782.33" y="958.27" width="0.9" height="0.9" fill="#e8e8e0" opacity="0.66"/>
<rect x="777.64" y="940.57" width="0.9" height="0.9" fill="#e8e8e0" opacity="0.84"/>
<rect x="764.1" y="922.31" width="0.9" height="0.9" fill="#e8e8e0" opacity="0.53"/>
<rect x="696.91" y="924.72" width="0.9" height="0.9" fill="#e8e8e0" opacity="0.69"/>
<rect x="692.68" y="939.36" width="0.9" height="0.9" fill="#e8e8e0" opacity="0.47"/>
<rect x="774.66" y="934.01" width="0.9" height="0.9" fill="#e8e8e0" opacity="0.63"/>
<rect x="733.5" y="979.15" width="0.9" height="0.9" fill="#e8e8e0" opacity="0.61"/>
<rect x="775.63" y="946.14" width="0.9" height="0.9" fill="#e8e8e0" opacity="0.67"/>
<rect x="725.96" y="906.53" width="0.9" height="0.9" fill="#e8e8e0" opacity="0.62"/>
<rect x="683.07" y="905.32" width="0.9" height="0.9" fill="#e8e8e0" opacity="0.8"/>
<rect x="681.72" y="943.83" width="0.9" height="0.9" fill="#e8e8e0" opacity="0.76"/>
<rect x="730.12" y="931.73" width="0.9" height="0.9" fill="#e8e8e0" opacity="0.66"/>
<rect x="729.99" y="969.31" width="0.9" height="0.9" fill="#e8e8e0" opacity="0.45"/>
<rect x="730.6" y="925.38" width="0.9" height="0.9" fill="#e8e8e0" opacity="0.54"/>
<rect x="757.3" y="946.63" width="0.9" height="0.9" fill="#e8e8e0" opacity="0.68"/>
<rect x="755.76" y="979.82" width="0.9" height="0.9" fill="#e8e8e0" opacity="0.62"/>
<rect x="737.18" y="946.46" width="0.9" height="0.9" fill="#e8e8e0" opacity="0.66"/>
<rect x="747.28" y="942.09" width="0.9" height="0.9" fill="#e8e8e0" opacity="0.67"/>
<rect x="720.23" y="982.2" width="0.9" height="0.9" fill="#e8e8e0" opacity="0.75"/>
<rect x="770.44" y="982.26" width="0.9" height="0.9" fill="#e8e8e0" opacity="0.53"/>
<rect x="730.5" y="982.35" width="0.9" height="0.9" fill="#e8e8e0" opacity="0.82"/>
<rect x="677.28" y="914.97" width="0.9" height="0.9" fill="#e8e8e0" opacity="0.62"/>
<rect x="669.14" y="924.73" width="0.9" height="0.9" fill="#e8e8e0" opacity="0.44"/>
<rect x="744.35" y="969.28" width="0.9" height="0.9" fill="#e8e8e0" opacity="0.85"/>
<rect x="679.46" y="963.72" width="0.9" height="0.9" fill="#e8e8e0" opacity="0.73"/>
<rect x="678.02" y="977.39" width="0.9" height="0.9" fill="#e8e8e0" opacity="0.88"/>
<rect x="687.67" y="983.11" width="0.9" height="0.9" fill="#e8e8e0" opacity="0.6"/>
<rect x="721.39" y="986.17" width="0.9" height="0.9" fill="#e8e8e0" opacity="0.82"/>
<rect x="680.34" y="940.38" width="0.9" height="0.9" fill="#e8e8e0" opacity="0.66"/>
<rect x="702.73" y="921.05" width="0.9" height="0.9" fill="#e8e8e0" opacity="0.56"/>
<rect x="750.99" y="906.6" width="0.9" height="0.9" fill="#e8e8e0" opacity="0.68"/>
<rect x="715.5" y="906.48" width="0.9" height="0.9" fill="#e8e8e0" opacity="0.57"/>
<rect x="738.61" y="947.01" width="0.9" height="0.9" fill="#e8e8e0" opacity="0.43"/>
<rect x="784.12" y="969.65" width="0.9" height="0.9" fill="#e8e8e0" opacity="0.89"/>
<rect x="673.2" y="926.78" width="0.9" height="0.9" fill="#e8e8e0" opacity="0.42"/>
<rect x="758.15" y="927.18" width="0.9" height="0.9" fill="#e8e8e0" opacity="0.46"/>
<rect x="713.2" y="979.74" width="0.9" height="0.9" fill="#e8e8e0" opacity="0.81"/>
<rect x="692.58" y="917.25" width="0.9" height="0.9" fill="#e8e8e0" opacity="0.86"/>
<rect x="731.89" y="962.43" width="0.9" height="0.9" fill="#e8e8e0" opacity="0.44"/>
<rect x="667.25" y="961.43" width="0.9" height="0.9" fill="#e8e8e0" opacity="0.61"/>
<rect x="669.12" y="981.94" width="0.9" height="0.9" fill="#e8e8e0" opacity="0.72"/>
<rect x="761.01" y="911.87" width="0.9" height="0.9" fill="#e8e8e0" opacity="0.83"/>
<rect x="668.39" y="975.75" width="0.9" height="0.9" fill="#e8e8e0" opacity="0.63"/>
<rect x="702.73" y="950.35" width="0.9" height="0.9" fill="#e8e8e0" opacity="0.86"/>
<rect x="693.75" y="915.6" width="0.9" height="0.9" fill="#e8e8e0" opacity="0.66"/>
<rect x="690.04" y="913.98" width="0.9" height="0.9" fill="#e8e8e0" opacity="0.48"/>
<rect x="666.35" y="921.54" width="0.9" height="0.9" fill="#e8e8e0" opacity="0.56"/>
<rect x="698.43" y="967.28" width="0.9" height="0.9" fill="#e8e8e0" opacity="0.54"/>
<rect x="723.01" y="919.59" width="0.9" height="0.9" fill="#e8e8e0" opacity="0.57"/>
<rect x="662.29" y="925.54" width="0.9" height="0.9" fill="#e8e8e0" opacity="0.41"/>
<rect x="752.37" y="950.19" width="0.9" height="0.9" fill="#e8e8e0" opacity="0.49"/>
<rect x="719.82" y="981.64" width="0.9" height="0.9" fill="#e8e8e0" opacity="0.45"/>
<rect x="763.18" y="940.44" width="0.9" height="0.9" fill="#e8e8e0" opacity="0.65"/>
<rect x="765.16" y="937.23" width="0.9" height="0.9" fill="#e8e8e0" opacity="0.65"/>
<rect x="746.66" y="985.56" width="0.9" height="0.9" fill="#e8e8e0" opacity="0.57"/>
<rect x="764.87" y="962.95" width="0.9" height="0.9" fill="#e8e8e0" opacity="0.72"/>
<rect x="710.99" y="933.5" width="0.9" height="0.9" fill="#e8e8e0" opacity="0.43"/>
<rect x="676.36" y="910.8" width="0.9" height="0.9" fill="#e8e8e0" opacity="0.77"/>
<rect x="692.2" y="918.39" width="0.9" height="0.9" fill="#e8e8e0" opacity="0.44"/>
<rect x="766" y="976.38" width="0.9" height="0.9" fill="#e8e8e0" opacity="0.74"/>
<rect x="695.52" y="924.86" width="0.9" height="0.9" fill="#e8e8e0" opacity="0.55"/>
<rect x="717.89" y="917.92" width="0.9" height="0.9" fill="#e8e8e0" opacity="0.62"/>
<rect x="693.17" y="983.87" width="0.9" height="0.9" fill="#e8e8e0" opacity="0.89"/>
<rect x="728.93" y="925.04" width="0.9" height="0.9" fill="#e8e8e0" opacity="0.88"/>
<rect x="699" y="934.24" width="0.9" height="0.9" fill="#e8e8e0" opacity="0.4"/>
<rect x="708.08" y="943.92" width="0.9" height="0.9" fill="#e8e8e0" opacity="0.65"/>
<rect x="685.32" y="946.39" width="0.9" height="0.9" fill="#e8e8e0" opacity="0.4"/>
<rect x="693.29" y="912.36" width="0.9" height="0.9" fill="#e8e8e0" opacity="0.6"/>
<rect x="665.25" y="906.84" width="0.9" height="0.9" fill="#e8e8e0" opacity="0.55"/>
<rect x="689.33" y="953.02" width="0.9" height="0.9" fill="#e8e8e0" opacity="0.66"/>
<rect x="754.57" y="958.92" width="0.9" height="0.9" fill="#e8e8e0" opacity="0.76"/>
<rect x="770.77" y="936.94" width="0.9" height="0.9" fill="#e8e8e0" opacity="0.56"/>
<rect x="784.08" y="917.26" width="0.9" height="0.9" fill="#e8e8e0" opacity="0.76"/>
<rect x="741.05" y="908.59" width="0.9" height="0.9" fill="#e8e8e0" opacity="0.82"/>
<rect x="772.38" y="956.44" width="0.9" height="0.9" fill="#e8e8e0" opacity="0.77"/>
<rect x="762.34" y="916.42" width="0.9" height="0.9" fill="#e8e8e0" opacity="0.66"/>
<rect x="723.55" y="973.46" width="0.9" height="0.9" fill="#e8e8e0" opacity="0.8"/>
<rect x="764.13" y="952.89" width="0.9" height="0.9" fill="#e8e8e0" opacity="0.85"/>
<rect x="746.04" y="961.85" width="0.9" height="0.9" fill="#e8e8e0" opacity="0.51"/>
<rect x="663.93" y="915.91" width="0.9" height="0.9" fill="#e8e8e0" opacity="0.58"/>
<rect x="673.22" y="973.54" width="0.9" height="0.9" fill="#e8e8e0" opacity="0.68"/>
<rect x="739.1" y="956.35" width="0.9" height="0.9" fill="#e8e8e0" opacity="0.74"/>
<rect x="721.65" y="905.27" width="0.9" height="0.9" fill="#e8e8e0" opacity="0.8"/>
<rect x="754.28" y="946.24" width="0.9" height="0.9" fill="#e8e8e0" opacity="0.67"/>
</g>
<text x="563.8" y="969.6" font-size="36.8" text-anchor="start" fill="#fff">2mm</text>
<rect x="570.9" y="975.4" width="34.8" height="4.4" fill="#fff"/>
<polyline points="823,894.5 860.9,894.5 860.9,918.3" fill="none" stroke="#000" stroke-width="2.6" stroke-linejoin="round" stroke-linecap="round" stroke-linecap="butt" stroke-linejoin="miter"/>
<line x1="837.1" y1="918.3" x2="906.9" y2="918.3" stroke="#000" stroke-width="2.6"/>
<line x1="852.1" y1="926.3" x2="890.4" y2="926.3" stroke="#000" stroke-width="2.6"/>
<polyline points="882.1,918.3 882.1,894.5 962.5,894.5 962.5,918.3" fill="none" stroke="#000" stroke-width="2.6" stroke-linejoin="round" stroke-linecap="round" stroke-linecap="butt" stroke-linejoin="miter"/>
<line x1="925.4" y1="870.3" x2="925.4" y2="894.5" stroke="#000" stroke-width="2.6"/>
<line x1="941.3" y1="918.3" x2="1011" y2="918.3" stroke="#000" stroke-width="2.6"/>
<line x1="957.7" y1="926.3" x2="996" y2="926.3" stroke="#000" stroke-width="3"/>
<polyline points="985.4,918.3 985.4,894.5 1023.4,894.5" fill="none" stroke="#000" stroke-width="2.6" stroke-linejoin="round" stroke-linecap="round" stroke-linecap="butt" stroke-linejoin="miter"/>
<line x1="1023.4" y1="882.6" x2="1023.4" y2="905.9" stroke="#000" stroke-width="3.2"/>
<line x1="1030.5" y1="885.1" x2="1030.5" y2="902.4" stroke="#000" stroke-width="3"/>
<line x1="1037.4" y1="889.2" x2="1037.4" y2="898" stroke="#000" stroke-width="3"/>
<polyline points="871.5,926.3 871.5,950.1 977.5,950.1 977.5,926.3" fill="none" stroke="#000" stroke-width="2.6" stroke-linejoin="round" stroke-linecap="round" stroke-linecap="butt" stroke-linejoin="miter"/>
<line x1="925.4" y1="950.1" x2="925.4" y2="973.4" stroke="#000" stroke-width="2.6"/>
<text x="820.2" y="875" font-size="21.7" text-anchor="start" fill="#000">VDD</text>
<text x="994.2" y="875" font-size="21.7" text-anchor="start" fill="#000">GND</text>
<text x="917" y="858.3" font-size="21.8" text-anchor="start" fill="#000"><tspan font-style="italic">V</tspan><tspan font-size="14.5" dy="5">out</tspan></text>
<text x="919.5" y="996" font-size="21.8" text-anchor="start" fill="#000"><tspan font-style="italic">V</tspan><tspan font-size="14.5" dy="3.5">in</tspan></text>
<rect x="1200.15" y="701.15" width="4.7" height="4.7" fill="#0d3f62"/>
<rect x="1202.38" y="700.29" width="4.7" height="4.7" fill="#0d3f62"/>
<rect x="1204.61" y="699.44" width="4.7" height="4.7" fill="#0d3f62"/>
<rect x="1206.83" y="698.59" width="4.7" height="4.7" fill="#0d3f62"/>
<rect x="1209.06" y="697.74" width="4.7" height="4.7" fill="#0d3f62"/>
<rect x="1211.29" y="696.88" width="4.7" height="4.7" fill="#0d3f62"/>
<rect x="1213.52" y="696.03" width="4.7" height="4.7" fill="#0d3f62"/>
<rect x="1215.75" y="695.18" width="4.7" height="4.7" fill="#0d3f62"/>
<rect x="1217.97" y="694.32" width="4.7" height="4.7" fill="#0d3f62"/>
<rect x="1220.2" y="693.47" width="4.7" height="4.7" fill="#0d3f62"/>
<rect x="1222.43" y="692.62" width="4.7" height="4.7" fill="#0d3f62"/>
<rect x="1224.66" y="691.77" width="4.7" height="4.7" fill="#0d3f62"/>
<rect x="1226.89" y="690.92" width="4.7" height="4.7" fill="#0d3f62"/>
<rect x="1229.11" y="690.07" width="4.7" height="4.7" fill="#0d3f62"/>
<rect x="1231.34" y="689.22" width="4.7" height="4.7" fill="#0d3f62"/>
<rect x="1233.57" y="688.37" width="4.7" height="4.7" fill="#0d3f62"/>
<rect x="1235.8" y="687.52" width="4.7" height="4.7" fill="#0d3f62"/>
<rect x="1238.03" y="686.68" width="4.7" height="4.7" fill="#0d3f62"/>
<rect x="1240.25" y="685.83" width="4.7" height="4.7" fill="#0d3f62"/>
<rect x="1242.48" y="684.99" width="4.7" height="4.7" fill="#0d3f62"/>
<rect x="1244.71" y="684.15" width="4.7" height="4.7" fill="#0d3f62"/>
<rect x="1246.94" y="683.32" width="4.7" height="4.7" fill="#0d3f62"/>
<rect x="1249.17" y="682.5" width="4.7" height="4.7" fill="#0d3f62"/>
<rect x="1251.39" y="681.68" width="4.7" height="4.7" fill="#0d3f62"/>
<rect x="1253.62" y="680.87" width="4.7" height="4.7" fill="#0d3f62"/>
<rect x="1255.85" y="680.07" width="4.7" height="4.7" fill="#0d3f62"/>
<rect x="1258.08" y="679.29" width="4.7" height="4.7" fill="#0d3f62"/>
<rect x="1260.31" y="678.53" width="4.7" height="4.7" fill="#0d3f62"/>
<rect x="1262.53" y="677.79" width="4.7" height="4.7" fill="#0d3f62"/>
<rect x="1264.76" y="677.09" width="4.7" height="4.7" fill="#0d3f62"/>
<rect x="1266.99" y="676.43" width="4.7" height="4.7" fill="#0d3f62"/>
<rect x="1269.22" y="675.82" width="4.7" height="4.7" fill="#0d3f62"/>
<rect x="1271.45" y="675.28" width="4.7" height="4.7" fill="#0d3f62"/>
<rect x="1273.67" y="674.83" width="4.7" height="4.7" fill="#0d3f62"/>
<rect x="1275.9" y="674.48" width="4.7" height="4.7" fill="#0d3f62"/>
<rect x="1278.13" y="674.26" width="4.7" height="4.7" fill="#0d3f62"/>
<rect x="1280.36" y="674.22" width="4.7" height="4.7" fill="#0d3f62"/>
<rect x="1282.59" y="674.38" width="4.7" height="4.7" fill="#0d3f62"/>
<rect x="1284.81" y="674.8" width="4.7" height="4.7" fill="#0d3f62"/>
<rect x="1287.04" y="675.54" width="4.7" height="4.7" fill="#0d3f62"/>
<rect x="1289.27" y="676.66" width="4.7" height="4.7" fill="#0d3f62"/>
<rect x="1291.5" y="678.25" width="4.7" height="4.7" fill="#0d3f62"/>
<rect x="1293.73" y="680.42" width="4.7" height="4.7" fill="#0d3f62"/>
<rect x="1295.95" y="683.31" width="4.7" height="4.7" fill="#0d3f62"/>
<rect x="1298.18" y="687.08" width="4.7" height="4.7" fill="#0d3f62"/>
<rect x="1300.41" y="691.94" width="4.7" height="4.7" fill="#0d3f62"/>
<rect x="1302.64" y="698.18" width="4.7" height="4.7" fill="#0d3f62"/>
<rect x="1304.87" y="706.13" width="4.7" height="4.7" fill="#0d3f62"/>
<rect x="1307.09" y="716.25" width="4.7" height="4.7" fill="#0d3f62"/>
<rect x="1309.32" y="729.08" width="4.7" height="4.7" fill="#0d3f62"/>
<rect x="1311.55" y="745.36" width="4.7" height="4.7" fill="#0d3f62"/>
<rect x="1313.78" y="765.97" width="4.7" height="4.7" fill="#0d3f62"/>
<rect x="1316.01" y="792.06" width="4.7" height="4.7" fill="#0d3f62"/>
<rect x="1318.23" y="820.35" width="4.7" height="4.7" fill="#0d3f62"/>
<rect x="1320.46" y="822.14" width="4.7" height="4.7" fill="#0d3f62"/>
<rect x="1322.69" y="822.05" width="4.7" height="4.7" fill="#0d3f62"/>
<rect x="1324.92" y="821.96" width="4.7" height="4.7" fill="#0d3f62"/>
<rect x="1327.15" y="821.87" width="4.7" height="4.7" fill="#0d3f62"/>
<rect x="1329.37" y="821.78" width="4.7" height="4.7" fill="#0d3f62"/>
<rect x="1331.6" y="821.7" width="4.7" height="4.7" fill="#0d3f62"/>
<rect x="1333.83" y="821.61" width="4.7" height="4.7" fill="#0d3f62"/>
<rect x="1336.06" y="821.52" width="4.7" height="4.7" fill="#0d3f62"/>
<rect x="1338.29" y="821.43" width="4.7" height="4.7" fill="#0d3f62"/>
<rect x="1340.51" y="821.34" width="4.7" height="4.7" fill="#0d3f62"/>
<rect x="1342.74" y="821.25" width="4.7" height="4.7" fill="#0d3f62"/>
<rect x="1344.97" y="821.16" width="4.7" height="4.7" fill="#0d3f62"/>
<rect x="1347.2" y="821.07" width="4.7" height="4.7" fill="#0d3f62"/>
<rect x="1349.43" y="820.98" width="4.7" height="4.7" fill="#0d3f62"/>
<rect x="1351.65" y="820.89" width="4.7" height="4.7" fill="#0d3f62"/>
<rect x="1353.88" y="820.8" width="4.7" height="4.7" fill="#0d3f62"/>
<rect x="1356.11" y="820.72" width="4.7" height="4.7" fill="#0d3f62"/>
<rect x="1358.34" y="820.63" width="4.7" height="4.7" fill="#0d3f62"/>
<rect x="1360.57" y="820.54" width="4.7" height="4.7" fill="#0d3f62"/>
<rect x="1362.79" y="820.45" width="4.7" height="4.7" fill="#0d3f62"/>
<rect x="1365.02" y="820.36" width="4.7" height="4.7" fill="#0d3f62"/>
<rect x="1367.25" y="820.27" width="4.7" height="4.7" fill="#0d3f62"/>
<rect x="1369.48" y="820.18" width="4.7" height="4.7" fill="#0d3f62"/>
<rect x="1371.71" y="820.09" width="4.7" height="4.7" fill="#0d3f62"/>
<rect x="1373.93" y="820" width="4.7" height="4.7" fill="#0d3f62"/>
<rect x="1376.16" y="819.91" width="4.7" height="4.7" fill="#0d3f62"/>
<rect x="1378.39" y="819.83" width="4.7" height="4.7" fill="#0d3f62"/>
<rect x="1380.62" y="819.74" width="4.7" height="4.7" fill="#0d3f62"/>
<rect x="1382.85" y="819.65" width="4.7" height="4.7" fill="#0d3f62"/>
<rect x="1385.07" y="819.56" width="4.7" height="4.7" fill="#0d3f62"/>
<rect x="1387.3" y="819.47" width="4.7" height="4.7" fill="#0d3f62"/>
<rect x="1389.53" y="819.38" width="4.7" height="4.7" fill="#0d3f62"/>
<rect x="1391.76" y="819.29" width="4.7" height="4.7" fill="#0d3f62"/>
<rect x="1393.99" y="819.2" width="4.7" height="4.7" fill="#0d3f62"/>
<rect x="1396.21" y="819.11" width="4.7" height="4.7" fill="#0d3f62"/>
<rect x="1398.44" y="819.02" width="4.7" height="4.7" fill="#0d3f62"/>
<rect x="1400.67" y="818.93" width="4.7" height="4.7" fill="#0d3f62"/>
<rect x="1402.9" y="818.85" width="4.7" height="4.7" fill="#0d3f62"/>
<rect x="1405.13" y="818.76" width="4.7" height="4.7" fill="#0d3f62"/>
<rect x="1407.35" y="818.67" width="4.7" height="4.7" fill="#0d3f62"/>
<rect x="1409.58" y="818.58" width="4.7" height="4.7" fill="#0d3f62"/>
<rect x="1411.81" y="818.49" width="4.7" height="4.7" fill="#0d3f62"/>
<rect x="1414.04" y="818.4" width="4.7" height="4.7" fill="#0d3f62"/>
<rect x="1416.27" y="818.31" width="4.7" height="4.7" fill="#0d3f62"/>
<rect x="1418.49" y="818.22" width="4.7" height="4.7" fill="#0d3f62"/>
<rect x="1420.72" y="818.13" width="4.7" height="4.7" fill="#0d3f62"/>
<rect x="1422.95" y="818.04" width="4.7" height="4.7" fill="#0d3f62"/>
<rect x="1425.18" y="817.95" width="4.7" height="4.7" fill="#0d3f62"/>
<rect x="1427.41" y="817.87" width="4.7" height="4.7" fill="#0d3f62"/>
<rect x="1429.63" y="817.78" width="4.7" height="4.7" fill="#0d3f62"/>
<rect x="1431.86" y="817.69" width="4.7" height="4.7" fill="#0d3f62"/>
<rect x="1434.09" y="817.6" width="4.7" height="4.7" fill="#0d3f62"/>
<rect x="1436.32" y="817.51" width="4.7" height="4.7" fill="#0d3f62"/>
<rect x="1438.55" y="817.42" width="4.7" height="4.7" fill="#0d3f62"/>
<rect x="1440.77" y="817.33" width="4.7" height="4.7" fill="#0d3f62"/>
<rect x="1443" y="817.24" width="4.7" height="4.7" fill="#0d3f62"/>
<rect x="1445.23" y="817.15" width="4.7" height="4.7" fill="#0d3f62"/>
<rect x="1447.46" y="817.06" width="4.7" height="4.7" fill="#0d3f62"/>
<rect x="1449.69" y="816.98" width="4.7" height="4.7" fill="#0d3f62"/>
<rect x="1451.91" y="816.89" width="4.7" height="4.7" fill="#0d3f62"/>
<rect x="1454.14" y="816.8" width="4.7" height="4.7" fill="#0d3f62"/>
<rect x="1456.37" y="816.71" width="4.7" height="4.7" fill="#0d3f62"/>
<rect x="1458.6" y="816.62" width="4.7" height="4.7" fill="#0d3f62"/>
<rect x="1460.83" y="816.53" width="4.7" height="4.7" fill="#0d3f62"/>
<rect x="1463.05" y="816.44" width="4.7" height="4.7" fill="#0d3f62"/>
<rect x="1465.28" y="816.35" width="4.7" height="4.7" fill="#0d3f62"/>
<rect x="1467.51" y="816.26" width="4.7" height="4.7" fill="#0d3f62"/>
<rect x="1469.74" y="816.17" width="4.7" height="4.7" fill="#0d3f62"/>
<rect x="1471.97" y="816.08" width="4.7" height="4.7" fill="#0d3f62"/>
<rect x="1474.19" y="816" width="4.7" height="4.7" fill="#0d3f62"/>
<rect x="1476.42" y="815.91" width="4.7" height="4.7" fill="#0d3f62"/>
<rect x="1201.26" y="701.92" width="4.7" height="4.7" fill="#0d3f62"/>
<rect x="1203.49" y="701.07" width="4.7" height="4.7" fill="#0d3f62"/>
<rect x="1205.72" y="700.21" width="4.7" height="4.7" fill="#0d3f62"/>
<rect x="1207.95" y="699.36" width="4.7" height="4.7" fill="#0d3f62"/>
<rect x="1210.18" y="698.51" width="4.7" height="4.7" fill="#0d3f62"/>
<rect x="1212.4" y="697.66" width="4.7" height="4.7" fill="#0d3f62"/>
<rect x="1214.63" y="696.8" width="4.7" height="4.7" fill="#0d3f62"/>
<rect x="1216.86" y="695.95" width="4.7" height="4.7" fill="#0d3f62"/>
<rect x="1219.09" y="695.1" width="4.7" height="4.7" fill="#0d3f62"/>
<rect x="1221.32" y="694.25" width="4.7" height="4.7" fill="#0d3f62"/>
<rect x="1223.54" y="693.39" width="4.7" height="4.7" fill="#0d3f62"/>
<rect x="1225.77" y="692.54" width="4.7" height="4.7" fill="#0d3f62"/>
<rect x="1228" y="691.69" width="4.7" height="4.7" fill="#0d3f62"/>
<rect x="1230.23" y="690.84" width="4.7" height="4.7" fill="#0d3f62"/>
<rect x="1232.46" y="689.99" width="4.7" height="4.7" fill="#0d3f62"/>
<rect x="1234.68" y="689.14" width="4.7" height="4.7" fill="#0d3f62"/>
<rect x="1236.91" y="688.3" width="4.7" height="4.7" fill="#0d3f62"/>
<rect x="1239.14" y="687.45" width="4.7" height="4.7" fill="#0d3f62"/>
<rect x="1241.37" y="686.61" width="4.7" height="4.7" fill="#0d3f62"/>
<rect x="1243.6" y="685.77" width="4.7" height="4.7" fill="#0d3f62"/>
<rect x="1245.82" y="684.94" width="4.7" height="4.7" fill="#0d3f62"/>
<rect x="1248.05" y="684.11" width="4.7" height="4.7" fill="#0d3f62"/>
<rect x="1250.28" y="683.29" width="4.7" height="4.7" fill="#0d3f62"/>
<rect x="1252.51" y="682.47" width="4.7" height="4.7" fill="#0d3f62"/>
<rect x="1254.74" y="681.67" width="4.7" height="4.7" fill="#0d3f62"/>
<rect x="1256.96" y="680.88" width="4.7" height="4.7" fill="#0d3f62"/>
<rect x="1259.19" y="680.11" width="4.7" height="4.7" fill="#0d3f62"/>
<rect x="1261.42" y="679.36" width="4.7" height="4.7" fill="#0d3f62"/>
<rect x="1263.65" y="678.64" width="4.7" height="4.7" fill="#0d3f62"/>
<rect x="1265.88" y="677.95" width="4.7" height="4.7" fill="#0d3f62"/>
<rect x="1268.1" y="677.32" width="4.7" height="4.7" fill="#0d3f62"/>
<rect x="1270.33" y="676.74" width="4.7" height="4.7" fill="#0d3f62"/>
<rect x="1272.56" y="676.24" width="4.7" height="4.7" fill="#0d3f62"/>
<rect x="1274.79" y="675.84" width="4.7" height="4.7" fill="#0d3f62"/>
<rect x="1277.02" y="675.55" width="4.7" height="4.7" fill="#0d3f62"/>
<rect x="1279.24" y="675.42" width="4.7" height="4.7" fill="#0d3f62"/>
<rect x="1281.47" y="675.47" width="4.7" height="4.7" fill="#0d3f62"/>
<rect x="1283.7" y="675.76" width="4.7" height="4.7" fill="#0d3f62"/>
<rect x="1285.93" y="676.32" width="4.7" height="4.7" fill="#0d3f62"/>
<rect x="1288.16" y="677.24" width="4.7" height="4.7" fill="#0d3f62"/>
<rect x="1290.38" y="678.59" width="4.7" height="4.7" fill="#0d3f62"/>
<rect x="1292.61" y="680.46" width="4.7" height="4.7" fill="#0d3f62"/>
<rect x="1294.84" y="682.97" width="4.7" height="4.7" fill="#0d3f62"/>
<rect x="1297.07" y="686.27" width="4.7" height="4.7" fill="#0d3f62"/>
<rect x="1299.3" y="690.56" width="4.7" height="4.7" fill="#0d3f62"/>
<rect x="1301.52" y="696.07" width="4.7" height="4.7" fill="#0d3f62"/>
<rect x="1303.75" y="703.12" width="4.7" height="4.7" fill="#0d3f62"/>
<rect x="1305.98" y="712.09" width="4.7" height="4.7" fill="#0d3f62"/>
<rect x="1308.21" y="723.48" width="4.7" height="4.7" fill="#0d3f62"/>
<rect x="1310.44" y="737.94" width="4.7" height="4.7" fill="#0d3f62"/>
<rect x="1312.66" y="756.25" width="4.7" height="4.7" fill="#0d3f62"/>
<rect x="1314.89" y="779.45" width="4.7" height="4.7" fill="#0d3f62"/>
<rect x="1317.12" y="808.65" width="4.7" height="4.7" fill="#0d3f62"/>
<rect x="1319.35" y="823.36" width="4.7" height="4.7" fill="#0d3f62"/>
<rect x="1321.58" y="823.3" width="4.7" height="4.7" fill="#0d3f62"/>
<rect x="1323.8" y="823.21" width="4.7" height="4.7" fill="#0d3f62"/>
<rect x="1326.03" y="823.12" width="4.7" height="4.7" fill="#0d3f62"/>
<rect x="1328.26" y="823.03" width="4.7" height="4.7" fill="#0d3f62"/>
<rect x="1330.49" y="822.94" width="4.7" height="4.7" fill="#0d3f62"/>
<rect x="1332.72" y="822.85" width="4.7" height="4.7" fill="#0d3f62"/>
<rect x="1334.94" y="822.76" width="4.7" height="4.7" fill="#0d3f62"/>
<rect x="1337.17" y="822.67" width="4.7" height="4.7" fill="#0d3f62"/>
<rect x="1339.4" y="822.58" width="4.7" height="4.7" fill="#0d3f62"/>
<rect x="1341.63" y="822.49" width="4.7" height="4.7" fill="#0d3f62"/>
<rect x="1343.86" y="822.41" width="4.7" height="4.7" fill="#0d3f62"/>
<rect x="1346.08" y="822.32" width="4.7" height="4.7" fill="#0d3f62"/>
<rect x="1348.31" y="822.23" width="4.7" height="4.7" fill="#0d3f62"/>
<rect x="1350.54" y="822.14" width="4.7" height="4.7" fill="#0d3f62"/>
<rect x="1352.77" y="822.05" width="4.7" height="4.7" fill="#0d3f62"/>
<rect x="1355" y="821.96" width="4.7" height="4.7" fill="#0d3f62"/>
<rect x="1357.22" y="821.87" width="4.7" height="4.7" fill="#0d3f62"/>
<rect x="1359.45" y="821.78" width="4.7" height="4.7" fill="#0d3f62"/>
<rect x="1361.68" y="821.69" width="4.7" height="4.7" fill="#0d3f62"/>
<rect x="1363.91" y="821.6" width="4.7" height="4.7" fill="#0d3f62"/>
<rect x="1366.14" y="821.52" width="4.7" height="4.7" fill="#0d3f62"/>
<rect x="1368.36" y="821.43" width="4.7" height="4.7" fill="#0d3f62"/>
<rect x="1370.59" y="821.34" width="4.7" height="4.7" fill="#0d3f62"/>
<rect x="1372.82" y="821.25" width="4.7" height="4.7" fill="#0d3f62"/>
<rect x="1375.05" y="821.16" width="4.7" height="4.7" fill="#0d3f62"/>
<rect x="1377.28" y="821.07" width="4.7" height="4.7" fill="#0d3f62"/>
<rect x="1379.5" y="820.98" width="4.7" height="4.7" fill="#0d3f62"/>
<rect x="1381.73" y="820.89" width="4.7" height="4.7" fill="#0d3f62"/>
<rect x="1383.96" y="820.8" width="4.7" height="4.7" fill="#0d3f62"/>
<rect x="1386.19" y="820.71" width="4.7" height="4.7" fill="#0d3f62"/>
<rect x="1388.42" y="820.62" width="4.7" height="4.7" fill="#0d3f62"/>
<rect x="1390.64" y="820.54" width="4.7" height="4.7" fill="#0d3f62"/>
<rect x="1392.87" y="820.45" width="4.7" height="4.7" fill="#0d3f62"/>
<rect x="1395.1" y="820.36" width="4.7" height="4.7" fill="#0d3f62"/>
<rect x="1397.33" y="820.27" width="4.7" height="4.7" fill="#0d3f62"/>
<rect x="1399.56" y="820.18" width="4.7" height="4.7" fill="#0d3f62"/>
<rect x="1401.78" y="820.09" width="4.7" height="4.7" fill="#0d3f62"/>
<rect x="1404.01" y="820" width="4.7" height="4.7" fill="#0d3f62"/>
<rect x="1406.24" y="819.91" width="4.7" height="4.7" fill="#0d3f62"/>
<rect x="1408.47" y="819.82" width="4.7" height="4.7" fill="#0d3f62"/>
<rect x="1410.7" y="819.73" width="4.7" height="4.7" fill="#0d3f62"/>
<rect x="1412.92" y="819.64" width="4.7" height="4.7" fill="#0d3f62"/>
<rect x="1415.15" y="819.56" width="4.7" height="4.7" fill="#0d3f62"/>
<rect x="1417.38" y="819.47" width="4.7" height="4.7" fill="#0d3f62"/>
<rect x="1419.61" y="819.38" width="4.7" height="4.7" fill="#0d3f62"/>
<rect x="1421.84" y="819.29" width="4.7" height="4.7" fill="#0d3f62"/>
<rect x="1424.06" y="819.2" width="4.7" height="4.7" fill="#0d3f62"/>
<rect x="1426.29" y="819.11" width="4.7" height="4.7" fill="#0d3f62"/>
<rect x="1428.52" y="819.02" width="4.7" height="4.7" fill="#0d3f62"/>
<rect x="1430.75" y="818.93" width="4.7" height="4.7" fill="#0d3f62"/>
<rect x="1432.98" y="818.84" width="4.7" height="4.7" fill="#0d3f62"/>
<rect x="1435.2" y="818.75" width="4.7" height="4.7" fill="#0d3f62"/>
<rect x="1437.43" y="818.67" width="4.7" height="4.7" fill="#0d3f62"/>
<rect x="1439.66" y="818.58" width="4.7" height="4.7" fill="#0d3f62"/>
<rect x="1441.89" y="818.49" width="4.7" height="4.7" fill="#0d3f62"/>
<rect x="1444.12" y="818.4" width="4.7" height="4.7" fill="#0d3f62"/>
<rect x="1446.34" y="818.31" width="4.7" height="4.7" fill="#0d3f62"/>
<rect x="1448.57" y="818.22" width="4.7" height="4.7" fill="#0d3f62"/>
<rect x="1450.8" y="818.13" width="4.7" height="4.7" fill="#0d3f62"/>
<rect x="1453.03" y="818.04" width="4.7" height="4.7" fill="#0d3f62"/>
<rect x="1455.26" y="817.95" width="4.7" height="4.7" fill="#0d3f62"/>
<rect x="1457.48" y="817.86" width="4.7" height="4.7" fill="#0d3f62"/>
<rect x="1459.71" y="817.77" width="4.7" height="4.7" fill="#0d3f62"/>
<rect x="1461.94" y="817.69" width="4.7" height="4.7" fill="#0d3f62"/>
<rect x="1464.17" y="817.6" width="4.7" height="4.7" fill="#0d3f62"/>
<rect x="1466.4" y="817.51" width="4.7" height="4.7" fill="#0d3f62"/>
<rect x="1468.62" y="817.42" width="4.7" height="4.7" fill="#0d3f62"/>
<rect x="1470.85" y="817.33" width="4.7" height="4.7" fill="#0d3f62"/>
<rect x="1473.08" y="817.24" width="4.7" height="4.7" fill="#0d3f62"/>
<rect x="1475.31" y="817.15" width="4.7" height="4.7" fill="#0d3f62"/>
<rect x="1477.54" y="817.06" width="4.7" height="4.7" fill="#0d3f62"/>
<rect x="1200.15" y="696.69" width="4.7" height="4.7" fill="#1b6ea8"/>
<rect x="1202.38" y="695.82" width="4.7" height="4.7" fill="#1b6ea8"/>
<rect x="1204.61" y="694.94" width="4.7" height="4.7" fill="#1b6ea8"/>
<rect x="1206.83" y="694.07" width="4.7" height="4.7" fill="#1b6ea8"/>
<rect x="1209.06" y="693.19" width="4.7" height="4.7" fill="#1b6ea8"/>
<rect x="1211.29" y="692.32" width="4.7" height="4.7" fill="#1b6ea8"/>
<rect x="1213.52" y="691.44" width="4.7" height="4.7" fill="#1b6ea8"/>
<rect x="1215.75" y="690.57" width="4.7" height="4.7" fill="#1b6ea8"/>
<rect x="1217.97" y="689.69" width="4.7" height="4.7" fill="#1b6ea8"/>
<rect x="1220.2" y="688.81" width="4.7" height="4.7" fill="#1b6ea8"/>
<rect x="1222.43" y="687.94" width="4.7" height="4.7" fill="#1b6ea8"/>
<rect x="1224.66" y="687.06" width="4.7" height="4.7" fill="#1b6ea8"/>
<rect x="1226.89" y="686.19" width="4.7" height="4.7" fill="#1b6ea8"/>
<rect x="1229.11" y="685.32" width="4.7" height="4.7" fill="#1b6ea8"/>
<rect x="1231.34" y="684.44" width="4.7" height="4.7" fill="#1b6ea8"/>
<rect x="1233.57" y="683.57" width="4.7" height="4.7" fill="#1b6ea8"/>
<rect x="1235.8" y="682.7" width="4.7" height="4.7" fill="#1b6ea8"/>
<rect x="1238.03" y="681.82" width="4.7" height="4.7" fill="#1b6ea8"/>
<rect x="1240.25" y="680.95" width="4.7" height="4.7" fill="#1b6ea8"/>
<rect x="1242.48" y="680.08" width="4.7" height="4.7" fill="#1b6ea8"/>
<rect x="1244.71" y="679.22" width="4.7" height="4.7" fill="#1b6ea8"/>
<rect x="1246.94" y="678.35" width="4.7" height="4.7" fill="#1b6ea8"/>
<rect x="1249.17" y="677.49" width="4.7" height="4.7" fill="#1b6ea8"/>
<rect x="1251.39" y="676.63" width="4.7" height="4.7" fill="#1b6ea8"/>
<rect x="1253.62" y="675.78" width="4.7" height="4.7" fill="#1b6ea8"/>
<rect x="1255.85" y="674.93" width="4.7" height="4.7" fill="#1b6ea8"/>
<rect x="1258.08" y="674.09" width="4.7" height="4.7" fill="#1b6ea8"/>
<rect x="1260.31" y="673.26" width="4.7" height="4.7" fill="#1b6ea8"/>
<rect x="1262.53" y="672.45" width="4.7" height="4.7" fill="#1b6ea8"/>
<rect x="1264.76" y="671.66" width="4.7" height="4.7" fill="#1b6ea8"/>
<rect x="1266.99" y="670.88" width="4.7" height="4.7" fill="#1b6ea8"/>
<rect x="1269.22" y="670.14" width="4.7" height="4.7" fill="#1b6ea8"/>
<rect x="1271.45" y="669.44" width="4.7" height="4.7" fill="#1b6ea8"/>
<rect x="1273.67" y="668.78" width="4.7" height="4.7" fill="#1b6ea8"/>
<rect x="1275.9" y="668.19" width="4.7" height="4.7" fill="#1b6ea8"/>
<rect x="1278.13" y="667.67" width="4.7" height="4.7" fill="#1b6ea8"/>
<rect x="1280.36" y="667.25" width="4.7" height="4.7" fill="#1b6ea8"/>
<rect x="1282.59" y="666.94" width="4.7" height="4.7" fill="#1b6ea8"/>
<rect x="1284.81" y="666.78" width="4.7" height="4.7" fill="#1b6ea8"/>
<rect x="1287.04" y="666.78" width="4.7" height="4.7" fill="#1b6ea8"/>
<rect x="1289.27" y="666.99" width="4.7" height="4.7" fill="#1b6ea8"/>
<rect x="1291.5" y="667.45" width="4.7" height="4.7" fill="#1b6ea8"/>
<rect x="1293.73" y="668.19" width="4.7" height="4.7" fill="#1b6ea8"/>
<rect x="1295.95" y="669.27" width="4.7" height="4.7" fill="#1b6ea8"/>
<rect x="1298.18" y="670.77" width="4.7" height="4.7" fill="#1b6ea8"/>
<rect x="1300.41" y="672.77" width="4.7" height="4.7" fill="#1b6ea8"/>
<rect x="1302.64" y="675.38" width="4.7" height="4.7" fill="#1b6ea8"/>
<rect x="1304.87" y="678.76" width="4.7" height="4.7" fill="#1b6ea8"/>
<rect x="1307.09" y="683.08" width="4.7" height="4.7" fill="#1b6ea8"/>
<rect x="1309.32" y="688.6" width="4.7" height="4.7" fill="#1b6ea8"/>
<rect x="1311.55" y="695.6" width="4.7" height="4.7" fill="#1b6ea8"/>
<rect x="1313.78" y="704.49" width="4.7" height="4.7" fill="#1b6ea8"/>
<rect x="1316.01" y="715.76" width="4.7" height="4.7" fill="#1b6ea8"/>
<rect x="1318.23" y="730.03" width="4.7" height="4.7" fill="#1b6ea8"/>
<rect x="1320.46" y="748.09" width="4.7" height="4.7" fill="#1b6ea8"/>
<rect x="1322.69" y="770.96" width="4.7" height="4.7" fill="#1b6ea8"/>
<rect x="1324.92" y="799.89" width="4.7" height="4.7" fill="#1b6ea8"/>
<rect x="1327.15" y="827.52" width="4.7" height="4.7" fill="#1b6ea8"/>
<rect x="1329.37" y="828.09" width="4.7" height="4.7" fill="#1b6ea8"/>
<rect x="1331.6" y="828.02" width="4.7" height="4.7" fill="#1b6ea8"/>
<rect x="1333.83" y="827.95" width="4.7" height="4.7" fill="#1b6ea8"/>
<rect x="1336.06" y="827.89" width="4.7" height="4.7" fill="#1b6ea8"/>
<rect x="1338.29" y="827.82" width="4.7" height="4.7" fill="#1b6ea8"/>
<rect x="1340.51" y="827.75" width="4.7" height="4.7" fill="#1b6ea8"/>
<rect x="1342.74" y="827.69" width="4.7" height="4.7" fill="#1b6ea8"/>
<rect x="1344.97" y="827.62" width="4.7" height="4.7" fill="#1b6ea8"/>
<rect x="1347.2" y="827.55" width="4.7" height="4.7" fill="#1b6ea8"/>
<rect x="1349.43" y="827.48" width="4.7" height="4.7" fill="#1b6ea8"/>
<rect x="1351.65" y="827.42" width="4.7" height="4.7" fill="#1b6ea8"/>
<rect x="1353.88" y="827.35" width="4.7" height="4.7" fill="#1b6ea8"/>
<rect x="1356.11" y="827.28" width="4.7" height="4.7" fill="#1b6ea8"/>
<rect x="1358.34" y="827.22" width="4.7" height="4.7" fill="#1b6ea8"/>
<rect x="1360.57" y="827.15" width="4.7" height="4.7" fill="#1b6ea8"/>
<rect x="1362.79" y="827.08" width="4.7" height="4.7" fill="#1b6ea8"/>
<rect x="1365.02" y="827.02" width="4.7" height="4.7" fill="#1b6ea8"/>
<rect x="1367.25" y="826.95" width="4.7" height="4.7" fill="#1b6ea8"/>
<rect x="1369.48" y="826.88" width="4.7" height="4.7" fill="#1b6ea8"/>
<rect x="1371.71" y="826.82" width="4.7" height="4.7" fill="#1b6ea8"/>
<rect x="1373.93" y="826.75" width="4.7" height="4.7" fill="#1b6ea8"/>
<rect x="1376.16" y="826.68" width="4.7" height="4.7" fill="#1b6ea8"/>
<rect x="1378.39" y="826.62" width="4.7" height="4.7" fill="#1b6ea8"/>
<rect x="1380.62" y="826.55" width="4.7" height="4.7" fill="#1b6ea8"/>
<rect x="1382.85" y="826.48" width="4.7" height="4.7" fill="#1b6ea8"/>
<rect x="1385.07" y="826.42" width="4.7" height="4.7" fill="#1b6ea8"/>
<rect x="1387.3" y="826.35" width="4.7" height="4.7" fill="#1b6ea8"/>
<rect x="1389.53" y="826.28" width="4.7" height="4.7" fill="#1b6ea8"/>
<rect x="1391.76" y="826.22" width="4.7" height="4.7" fill="#1b6ea8"/>
<rect x="1393.99" y="826.15" width="4.7" height="4.7" fill="#1b6ea8"/>
<rect x="1396.21" y="826.08" width="4.7" height="4.7" fill="#1b6ea8"/>
<rect x="1398.44" y="826.02" width="4.7" height="4.7" fill="#1b6ea8"/>
<rect x="1400.67" y="825.95" width="4.7" height="4.7" fill="#1b6ea8"/>
<rect x="1402.9" y="825.88" width="4.7" height="4.7" fill="#1b6ea8"/>
<rect x="1405.13" y="825.81" width="4.7" height="4.7" fill="#1b6ea8"/>
<rect x="1407.35" y="825.75" width="4.7" height="4.7" fill="#1b6ea8"/>
<rect x="1409.58" y="825.68" width="4.7" height="4.7" fill="#1b6ea8"/>
<rect x="1411.81" y="825.61" width="4.7" height="4.7" fill="#1b6ea8"/>
<rect x="1414.04" y="825.55" width="4.7" height="4.7" fill="#1b6ea8"/>
<rect x="1416.27" y="825.48" width="4.7" height="4.7" fill="#1b6ea8"/>
<rect x="1418.49" y="825.41" width="4.7" height="4.7" fill="#1b6ea8"/>
<rect x="1420.72" y="825.35" width="4.7" height="4.7" fill="#1b6ea8"/>
<rect x="1422.95" y="825.28" width="4.7" height="4.7" fill="#1b6ea8"/>
<rect x="1425.18" y="825.21" width="4.7" height="4.7" fill="#1b6ea8"/>
<rect x="1427.41" y="825.15" width="4.7" height="4.7" fill="#1b6ea8"/>
<rect x="1429.63" y="825.08" width="4.7" height="4.7" fill="#1b6ea8"/>
<rect x="1431.86" y="825.01" width="4.7" height="4.7" fill="#1b6ea8"/>
<rect x="1434.09" y="824.95" width="4.7" height="4.7" fill="#1b6ea8"/>
<rect x="1436.32" y="824.88" width="4.7" height="4.7" fill="#1b6ea8"/>
<rect x="1438.55" y="824.81" width="4.7" height="4.7" fill="#1b6ea8"/>
<rect x="1440.77" y="824.75" width="4.7" height="4.7" fill="#1b6ea8"/>
<rect x="1443" y="824.68" width="4.7" height="4.7" fill="#1b6ea8"/>
<rect x="1445.23" y="824.61" width="4.7" height="4.7" fill="#1b6ea8"/>
<rect x="1447.46" y="824.55" width="4.7" height="4.7" fill="#1b6ea8"/>
<rect x="1449.69" y="824.48" width="4.7" height="4.7" fill="#1b6ea8"/>
<rect x="1451.91" y="824.41" width="4.7" height="4.7" fill="#1b6ea8"/>
<rect x="1454.14" y="824.35" width="4.7" height="4.7" fill="#1b6ea8"/>
<rect x="1456.37" y="824.28" width="4.7" height="4.7" fill="#1b6ea8"/>
<rect x="1458.6" y="824.21" width="4.7" height="4.7" fill="#1b6ea8"/>
<rect x="1460.83" y="824.14" width="4.7" height="4.7" fill="#1b6ea8"/>
<rect x="1463.05" y="824.08" width="4.7" height="4.7" fill="#1b6ea8"/>
<rect x="1465.28" y="824.01" width="4.7" height="4.7" fill="#1b6ea8"/>
<rect x="1467.51" y="823.94" width="4.7" height="4.7" fill="#1b6ea8"/>
<rect x="1469.74" y="823.88" width="4.7" height="4.7" fill="#1b6ea8"/>
<rect x="1471.97" y="823.81" width="4.7" height="4.7" fill="#1b6ea8"/>
<rect x="1474.19" y="823.74" width="4.7" height="4.7" fill="#1b6ea8"/>
<rect x="1476.42" y="823.68" width="4.7" height="4.7" fill="#1b6ea8"/>
<rect x="1201.26" y="697.46" width="4.7" height="4.7" fill="#1b6ea8"/>
<rect x="1203.49" y="696.58" width="4.7" height="4.7" fill="#1b6ea8"/>
<rect x="1205.72" y="695.71" width="4.7" height="4.7" fill="#1b6ea8"/>
<rect x="1207.95" y="694.83" width="4.7" height="4.7" fill="#1b6ea8"/>
<rect x="1210.18" y="693.95" width="4.7" height="4.7" fill="#1b6ea8"/>
<rect x="1212.4" y="693.08" width="4.7" height="4.7" fill="#1b6ea8"/>
<rect x="1214.63" y="692.2" width="4.7" height="4.7" fill="#1b6ea8"/>
<rect x="1216.86" y="691.33" width="4.7" height="4.7" fill="#1b6ea8"/>
<rect x="1219.09" y="690.45" width="4.7" height="4.7" fill="#1b6ea8"/>
<rect x="1221.32" y="689.58" width="4.7" height="4.7" fill="#1b6ea8"/>
<rect x="1223.54" y="688.7" width="4.7" height="4.7" fill="#1b6ea8"/>
<rect x="1225.77" y="687.83" width="4.7" height="4.7" fill="#1b6ea8"/>
<rect x="1228" y="686.95" width="4.7" height="4.7" fill="#1b6ea8"/>
<rect x="1230.23" y="686.08" width="4.7" height="4.7" fill="#1b6ea8"/>
<rect x="1232.46" y="685.2" width="4.7" height="4.7" fill="#1b6ea8"/>
<rect x="1234.68" y="684.33" width="4.7" height="4.7" fill="#1b6ea8"/>
<rect x="1236.91" y="683.46" width="4.7" height="4.7" fill="#1b6ea8"/>
<rect x="1239.14" y="682.59" width="4.7" height="4.7" fill="#1b6ea8"/>
<rect x="1241.37" y="681.72" width="4.7" height="4.7" fill="#1b6ea8"/>
<rect x="1243.6" y="680.85" width="4.7" height="4.7" fill="#1b6ea8"/>
<rect x="1245.82" y="679.98" width="4.7" height="4.7" fill="#1b6ea8"/>
<rect x="1248.05" y="679.12" width="4.7" height="4.7" fill="#1b6ea8"/>
<rect x="1250.28" y="678.26" width="4.7" height="4.7" fill="#1b6ea8"/>
<rect x="1252.51" y="677.4" width="4.7" height="4.7" fill="#1b6ea8"/>
<rect x="1254.74" y="676.55" width="4.7" height="4.7" fill="#1b6ea8"/>
<rect x="1256.96" y="675.71" width="4.7" height="4.7" fill="#1b6ea8"/>
<rect x="1259.19" y="674.88" width="4.7" height="4.7" fill="#1b6ea8"/>
<rect x="1261.42" y="674.06" width="4.7" height="4.7" fill="#1b6ea8"/>
<rect x="1263.65" y="673.25" width="4.7" height="4.7" fill="#1b6ea8"/>
<rect x="1265.88" y="672.47" width="4.7" height="4.7" fill="#1b6ea8"/>
<rect x="1268.1" y="671.71" width="4.7" height="4.7" fill="#1b6ea8"/>
<rect x="1270.33" y="670.98" width="4.7" height="4.7" fill="#1b6ea8"/>
<rect x="1272.56" y="670.3" width="4.7" height="4.7" fill="#1b6ea8"/>
<rect x="1274.79" y="669.67" width="4.7" height="4.7" fill="#1b6ea8"/>
<rect x="1277.02" y="669.12" width="4.7" height="4.7" fill="#1b6ea8"/>
<rect x="1279.24" y="668.64" width="4.7" height="4.7" fill="#1b6ea8"/>
<rect x="1281.47" y="668.28" width="4.7" height="4.7" fill="#1b6ea8"/>
<rect x="1283.7" y="668.04" width="4.7" height="4.7" fill="#1b6ea8"/>
<rect x="1285.93" y="667.96" width="4.7" height="4.7" fill="#1b6ea8"/>
<rect x="1288.16" y="668.06" width="4.7" height="4.7" fill="#1b6ea8"/>
<rect x="1290.38" y="668.39" width="4.7" height="4.7" fill="#1b6ea8"/>
<rect x="1292.61" y="668.98" width="4.7" height="4.7" fill="#1b6ea8"/>
<rect x="1294.84" y="669.89" width="4.7" height="4.7" fill="#1b6ea8"/>
<rect x="1297.07" y="671.17" width="4.7" height="4.7" fill="#1b6ea8"/>
<rect x="1299.3" y="672.9" width="4.7" height="4.7" fill="#1b6ea8"/>
<rect x="1301.52" y="675.19" width="4.7" height="4.7" fill="#1b6ea8"/>
<rect x="1303.75" y="678.17" width="4.7" height="4.7" fill="#1b6ea8"/>
<rect x="1305.98" y="681.99" width="4.7" height="4.7" fill="#1b6ea8"/>
<rect x="1308.21" y="686.87" width="4.7" height="4.7" fill="#1b6ea8"/>
<rect x="1310.44" y="693.09" width="4.7" height="4.7" fill="#1b6ea8"/>
<rect x="1312.66" y="700.98" width="4.7" height="4.7" fill="#1b6ea8"/>
<rect x="1314.89" y="710.99" width="4.7" height="4.7" fill="#1b6ea8"/>
<rect x="1317.12" y="723.67" width="4.7" height="4.7" fill="#1b6ea8"/>
<rect x="1319.35" y="739.73" width="4.7" height="4.7" fill="#1b6ea8"/>
<rect x="1321.58" y="760.05" width="4.7" height="4.7" fill="#1b6ea8"/>
<rect x="1323.8" y="785.78" width="4.7" height="4.7" fill="#1b6ea8"/>
<rect x="1326.03" y="817.97" width="4.7" height="4.7" fill="#1b6ea8"/>
<rect x="1328.26" y="829.31" width="4.7" height="4.7" fill="#1b6ea8"/>
<rect x="1330.49" y="829.25" width="4.7" height="4.7" fill="#1b6ea8"/>
<rect x="1332.72" y="829.19" width="4.7" height="4.7" fill="#1b6ea8"/>
<rect x="1334.94" y="829.12" width="4.7" height="4.7" fill="#1b6ea8"/>
<rect x="1337.17" y="829.05" width="4.7" height="4.7" fill="#1b6ea8"/>
<rect x="1339.4" y="828.99" width="4.7" height="4.7" fill="#1b6ea8"/>
<rect x="1341.63" y="828.92" width="4.7" height="4.7" fill="#1b6ea8"/>
<rect x="1343.86" y="828.85" width="4.7" height="4.7" fill="#1b6ea8"/>
<rect x="1346.08" y="828.78" width="4.7" height="4.7" fill="#1b6ea8"/>
<rect x="1348.31" y="828.72" width="4.7" height="4.7" fill="#1b6ea8"/>
<rect x="1350.54" y="828.65" width="4.7" height="4.7" fill="#1b6ea8"/>
<rect x="1352.77" y="828.58" width="4.7" height="4.7" fill="#1b6ea8"/>
<rect x="1355" y="828.52" width="4.7" height="4.7" fill="#1b6ea8"/>
<rect x="1357.22" y="828.45" width="4.7" height="4.7" fill="#1b6ea8"/>
<rect x="1359.45" y="828.38" width="4.7" height="4.7" fill="#1b6ea8"/>
<rect x="1361.68" y="828.32" width="4.7" height="4.7" fill="#1b6ea8"/>
<rect x="1363.91" y="828.25" width="4.7" height="4.7" fill="#1b6ea8"/>
<rect x="1366.14" y="828.18" width="4.7" height="4.7" fill="#1b6ea8"/>
<rect x="1368.36" y="828.12" width="4.7" height="4.7" fill="#1b6ea8"/>
<rect x="1370.59" y="828.05" width="4.7" height="4.7" fill="#1b6ea8"/>
<rect x="1372.82" y="827.98" width="4.7" height="4.7" fill="#1b6ea8"/>
<rect x="1375.05" y="827.92" width="4.7" height="4.7" fill="#1b6ea8"/>
<rect x="1377.28" y="827.85" width="4.7" height="4.7" fill="#1b6ea8"/>
<rect x="1379.5" y="827.78" width="4.7" height="4.7" fill="#1b6ea8"/>
<rect x="1381.73" y="827.72" width="4.7" height="4.7" fill="#1b6ea8"/>
<rect x="1383.96" y="827.65" width="4.7" height="4.7" fill="#1b6ea8"/>
<rect x="1386.19" y="827.58" width="4.7" height="4.7" fill="#1b6ea8"/>
<rect x="1388.42" y="827.52" width="4.7" height="4.7" fill="#1b6ea8"/>
<rect x="1390.64" y="827.45" width="4.7" height="4.7" fill="#1b6ea8"/>
<rect x="1392.87" y="827.38" width="4.7" height="4.7" fill="#1b6ea8"/>
<rect x="1395.1" y="827.32" width="4.7" height="4.7" fill="#1b6ea8"/>
<rect x="1397.33" y="827.25" width="4.7" height="4.7" fill="#1b6ea8"/>
<rect x="1399.56" y="827.18" width="4.7" height="4.7" fill="#1b6ea8"/>
<rect x="1401.78" y="827.12" width="4.7" height="4.7" fill="#1b6ea8"/>
<rect x="1404.01" y="827.05" width="4.7" height="4.7" fill="#1b6ea8"/>
<rect x="1406.24" y="826.98" width="4.7" height="4.7" fill="#1b6ea8"/>
<rect x="1408.47" y="826.91" width="4.7" height="4.7" fill="#1b6ea8"/>
<rect x="1410.7" y="826.85" width="4.7" height="4.7" fill="#1b6ea8"/>
<rect x="1412.92" y="826.78" width="4.7" height="4.7" fill="#1b6ea8"/>
<rect x="1415.15" y="826.71" width="4.7" height="4.7" fill="#1b6ea8"/>
<rect x="1417.38" y="826.65" width="4.7" height="4.7" fill="#1b6ea8"/>
<rect x="1419.61" y="826.58" width="4.7" height="4.7" fill="#1b6ea8"/>
<rect x="1421.84" y="826.51" width="4.7" height="4.7" fill="#1b6ea8"/>
<rect x="1424.06" y="826.45" width="4.7" height="4.7" fill="#1b6ea8"/>
<rect x="1426.29" y="826.38" width="4.7" height="4.7" fill="#1b6ea8"/>
<rect x="1428.52" y="826.31" width="4.7" height="4.7" fill="#1b6ea8"/>
<rect x="1430.75" y="826.25" width="4.7" height="4.7" fill="#1b6ea8"/>
<rect x="1432.98" y="826.18" width="4.7" height="4.7" fill="#1b6ea8"/>
<rect x="1435.2" y="826.11" width="4.7" height="4.7" fill="#1b6ea8"/>
<rect x="1437.43" y="826.05" width="4.7" height="4.7" fill="#1b6ea8"/>
<rect x="1439.66" y="825.98" width="4.7" height="4.7" fill="#1b6ea8"/>
<rect x="1441.89" y="825.91" width="4.7" height="4.7" fill="#1b6ea8"/>
<rect x="1444.12" y="825.85" width="4.7" height="4.7" fill="#1b6ea8"/>
<rect x="1446.34" y="825.78" width="4.7" height="4.7" fill="#1b6ea8"/>
<rect x="1448.57" y="825.71" width="4.7" height="4.7" fill="#1b6ea8"/>
<rect x="1450.8" y="825.65" width="4.7" height="4.7" fill="#1b6ea8"/>
<rect x="1453.03" y="825.58" width="4.7" height="4.7" fill="#1b6ea8"/>
<rect x="1455.26" y="825.51" width="4.7" height="4.7" fill="#1b6ea8"/>
<rect x="1457.48" y="825.45" width="4.7" height="4.7" fill="#1b6ea8"/>
<rect x="1459.71" y="825.38" width="4.7" height="4.7" fill="#1b6ea8"/>
<rect x="1461.94" y="825.31" width="4.7" height="4.7" fill="#1b6ea8"/>
<rect x="1464.17" y="825.24" width="4.7" height="4.7" fill="#1b6ea8"/>
<rect x="1466.4" y="825.18" width="4.7" height="4.7" fill="#1b6ea8"/>
<rect x="1468.62" y="825.11" width="4.7" height="4.7" fill="#1b6ea8"/>
<rect x="1470.85" y="825.04" width="4.7" height="4.7" fill="#1b6ea8"/>
<rect x="1473.08" y="824.98" width="4.7" height="4.7" fill="#1b6ea8"/>
<rect x="1475.31" y="824.91" width="4.7" height="4.7" fill="#1b6ea8"/>
<rect x="1477.54" y="824.84" width="4.7" height="4.7" fill="#1b6ea8"/>
<rect x="1200.15" y="691.87" width="4.7" height="4.7" fill="#2a8fd8"/>
<rect x="1202.38" y="690.94" width="4.7" height="4.7" fill="#2a8fd8"/>
<rect x="1204.61" y="690.01" width="4.7" height="4.7" fill="#2a8fd8"/>
<rect x="1206.83" y="689.09" width="4.7" height="4.7" fill="#2a8fd8"/>
<rect x="1209.06" y="688.16" width="4.7" height="4.7" fill="#2a8fd8"/>
<rect x="1211.29" y="687.23" width="4.7" height="4.7" fill="#2a8fd8"/>
<rect x="1213.52" y="686.3" width="4.7" height="4.7" fill="#2a8fd8"/>
<rect x="1215.75" y="685.38" width="4.7" height="4.7" fill="#2a8fd8"/>
<rect x="1217.97" y="684.45" width="4.7" height="4.7" fill="#2a8fd8"/>
<rect x="1220.2" y="683.52" width="4.7" height="4.7" fill="#2a8fd8"/>
<rect x="1222.43" y="682.59" width="4.7" height="4.7" fill="#2a8fd8"/>
<rect x="1224.66" y="681.67" width="4.7" height="4.7" fill="#2a8fd8"/>
<rect x="1226.89" y="680.74" width="4.7" height="4.7" fill="#2a8fd8"/>
<rect x="1229.11" y="679.81" width="4.7" height="4.7" fill="#2a8fd8"/>
<rect x="1231.34" y="678.89" width="4.7" height="4.7" fill="#2a8fd8"/>
<rect x="1233.57" y="677.96" width="4.7" height="4.7" fill="#2a8fd8"/>
<rect x="1235.8" y="677.03" width="4.7" height="4.7" fill="#2a8fd8"/>
<rect x="1238.03" y="676.11" width="4.7" height="4.7" fill="#2a8fd8"/>
<rect x="1240.25" y="675.18" width="4.7" height="4.7" fill="#2a8fd8"/>
<rect x="1242.48" y="674.26" width="4.7" height="4.7" fill="#2a8fd8"/>
<rect x="1244.71" y="673.34" width="4.7" height="4.7" fill="#2a8fd8"/>
<rect x="1246.94" y="672.42" width="4.7" height="4.7" fill="#2a8fd8"/>
<rect x="1249.17" y="671.5" width="4.7" height="4.7" fill="#2a8fd8"/>
<rect x="1251.39" y="670.58" width="4.7" height="4.7" fill="#2a8fd8"/>
<rect x="1253.62" y="669.67" width="4.7" height="4.7" fill="#2a8fd8"/>
<rect x="1255.85" y="668.76" width="4.7" height="4.7" fill="#2a8fd8"/>
<rect x="1258.08" y="667.86" width="4.7" height="4.7" fill="#2a8fd8"/>
<rect x="1260.31" y="666.97" width="4.7" height="4.7" fill="#2a8fd8"/>
<rect x="1262.53" y="666.09" width="4.7" height="4.7" fill="#2a8fd8"/>
<rect x="1264.76" y="665.23" width="4.7" height="4.7" fill="#2a8fd8"/>
<rect x="1266.99" y="664.38" width="4.7" height="4.7" fill="#2a8fd8"/>
<rect x="1269.22" y="663.56" width="4.7" height="4.7" fill="#2a8fd8"/>
<rect x="1271.45" y="662.77" width="4.7" height="4.7" fill="#2a8fd8"/>
<rect x="1273.67" y="662.02" width="4.7" height="4.7" fill="#2a8fd8"/>
<rect x="1275.9" y="661.33" width="4.7" height="4.7" fill="#2a8fd8"/>
<rect x="1278.13" y="660.7" width="4.7" height="4.7" fill="#2a8fd8"/>
<rect x="1280.36" y="660.15" width="4.7" height="4.7" fill="#2a8fd8"/>
<rect x="1282.59" y="659.7" width="4.7" height="4.7" fill="#2a8fd8"/>
<rect x="1284.81" y="659.36" width="4.7" height="4.7" fill="#2a8fd8"/>
<rect x="1287.04" y="659.15" width="4.7" height="4.7" fill="#2a8fd8"/>
<rect x="1289.27" y="659.09" width="4.7" height="4.7" fill="#2a8fd8"/>
<rect x="1291.5" y="659.19" width="4.7" height="4.7" fill="#2a8fd8"/>
<rect x="1293.73" y="659.46" width="4.7" height="4.7" fill="#2a8fd8"/>
<rect x="1295.95" y="659.95" width="4.7" height="4.7" fill="#2a8fd8"/>
<rect x="1298.18" y="660.67" width="4.7" height="4.7" fill="#2a8fd8"/>
<rect x="1300.41" y="661.66" width="4.7" height="4.7" fill="#2a8fd8"/>
<rect x="1302.64" y="662.99" width="4.7" height="4.7" fill="#2a8fd8"/>
<rect x="1304.87" y="664.72" width="4.7" height="4.7" fill="#2a8fd8"/>
<rect x="1307.09" y="666.95" width="4.7" height="4.7" fill="#2a8fd8"/>
<rect x="1309.32" y="669.8" width="4.7" height="4.7" fill="#2a8fd8"/>
<rect x="1311.55" y="673.44" width="4.7" height="4.7" fill="#2a8fd8"/>
<rect x="1313.78" y="678.05" width="4.7" height="4.7" fill="#2a8fd8"/>
<rect x="1316.01" y="683.9" width="4.7" height="4.7" fill="#2a8fd8"/>
<rect x="1318.23" y="691.31" width="4.7" height="4.7" fill="#2a8fd8"/>
<rect x="1320.46" y="700.69" width="4.7" height="4.7" fill="#2a8fd8"/>
<rect x="1322.69" y="712.56" width="4.7" height="4.7" fill="#2a8fd8"/>
<rect x="1324.92" y="727.59" width="4.7" height="4.7" fill="#2a8fd8"/>
<rect x="1327.15" y="746.61" width="4.7" height="4.7" fill="#2a8fd8"/>
<rect x="1329.37" y="770.67" width="4.7" height="4.7" fill="#2a8fd8"/>
<rect x="1331.6" y="801.11" width="4.7" height="4.7" fill="#2a8fd8"/>
<rect x="1333.83" y="829.44" width="4.7" height="4.7" fill="#2a8fd8"/>
<rect x="1336.06" y="829.84" width="4.7" height="4.7" fill="#2a8fd8"/>
<rect x="1338.29" y="829.77" width="4.7" height="4.7" fill="#2a8fd8"/>
<rect x="1340.51" y="829.7" width="4.7" height="4.7" fill="#2a8fd8"/>
<rect x="1342.74" y="829.62" width="4.7" height="4.7" fill="#2a8fd8"/>
<rect x="1344.97" y="829.55" width="4.7" height="4.7" fill="#2a8fd8"/>
<rect x="1347.2" y="829.47" width="4.7" height="4.7" fill="#2a8fd8"/>
<rect x="1349.43" y="829.4" width="4.7" height="4.7" fill="#2a8fd8"/>
<rect x="1351.65" y="829.33" width="4.7" height="4.7" fill="#2a8fd8"/>
<rect x="1353.88" y="829.25" width="4.7" height="4.7" fill="#2a8fd8"/>
<rect x="1356.11" y="829.18" width="4.7" height="4.7" fill="#2a8fd8"/>
<rect x="1358.34" y="829.1" width="4.7" height="4.7" fill="#2a8fd8"/>
<rect x="1360.57" y="829.03" width="4.7" height="4.7" fill="#2a8fd8"/>
<rect x="1362.79" y="828.95" width="4.7" height="4.7" fill="#2a8fd8"/>
<rect x="1365.02" y="828.88" width="4.7" height="4.7" fill="#2a8fd8"/>
<rect x="1367.25" y="828.81" width="4.7" height="4.7" fill="#2a8fd8"/>
<rect x="1369.48" y="828.73" width="4.7" height="4.7" fill="#2a8fd8"/>
<rect x="1371.71" y="828.66" width="4.7" height="4.7" fill="#2a8fd8"/>
<rect x="1373.93" y="828.58" width="4.7" height="4.7" fill="#2a8fd8"/>
<rect x="1376.16" y="828.51" width="4.7" height="4.7" fill="#2a8fd8"/>
<rect x="1378.39" y="828.43" width="4.7" height="4.7" fill="#2a8fd8"/>
<rect x="1380.62" y="828.36" width="4.7" height="4.7" fill="#2a8fd8"/>
<rect x="1382.85" y="828.29" width="4.7" height="4.7" fill="#2a8fd8"/>
<rect x="1385.07" y="828.21" width="4.7" height="4.7" fill="#2a8fd8"/>
<rect x="1387.3" y="828.14" width="4.7" height="4.7" fill="#2a8fd8"/>
<rect x="1389.53" y="828.06" width="4.7" height="4.7" fill="#2a8fd8"/>
<rect x="1391.76" y="827.99" width="4.7" height="4.7" fill="#2a8fd8"/>
<rect x="1393.99" y="827.92" width="4.7" height="4.7" fill="#2a8fd8"/>
<rect x="1396.21" y="827.84" width="4.7" height="4.7" fill="#2a8fd8"/>
<rect x="1398.44" y="827.77" width="4.7" height="4.7" fill="#2a8fd8"/>
<rect x="1400.67" y="827.69" width="4.7" height="4.7" fill="#2a8fd8"/>
<rect x="1402.9" y="827.62" width="4.7" height="4.7" fill="#2a8fd8"/>
<rect x="1405.13" y="827.54" width="4.7" height="4.7" fill="#2a8fd8"/>
<rect x="1407.35" y="827.47" width="4.7" height="4.7" fill="#2a8fd8"/>
<rect x="1409.58" y="827.4" width="4.7" height="4.7" fill="#2a8fd8"/>
<rect x="1411.81" y="827.32" width="4.7" height="4.7" fill="#2a8fd8"/>
<rect x="1414.04" y="827.25" width="4.7" height="4.7" fill="#2a8fd8"/>
<rect x="1416.27" y="827.17" width="4.7" height="4.7" fill="#2a8fd8"/>
<rect x="1418.49" y="827.1" width="4.7" height="4.7" fill="#2a8fd8"/>
<rect x="1420.72" y="827.02" width="4.7" height="4.7" fill="#2a8fd8"/>
<rect x="1422.95" y="826.95" width="4.7" height="4.7" fill="#2a8fd8"/>
<rect x="1425.18" y="826.88" width="4.7" height="4.7" fill="#2a8fd8"/>
<rect x="1427.41" y="826.8" width="4.7" height="4.7" fill="#2a8fd8"/>
<rect x="1429.63" y="826.73" width="4.7" height="4.7" fill="#2a8fd8"/>
<rect x="1431.86" y="826.65" width="4.7" height="4.7" fill="#2a8fd8"/>
<rect x="1434.09" y="826.58" width="4.7" height="4.7" fill="#2a8fd8"/>
<rect x="1436.32" y="826.51" width="4.7" height="4.7" fill="#2a8fd8"/>
<rect x="1438.55" y="826.43" width="4.7" height="4.7" fill="#2a8fd8"/>
<rect x="1440.77" y="826.36" width="4.7" height="4.7" fill="#2a8fd8"/>
<rect x="1443" y="826.28" width="4.7" height="4.7" fill="#2a8fd8"/>
<rect x="1445.23" y="826.21" width="4.7" height="4.7" fill="#2a8fd8"/>
<rect x="1447.46" y="826.13" width="4.7" height="4.7" fill="#2a8fd8"/>
<rect x="1449.69" y="826.06" width="4.7" height="4.7" fill="#2a8fd8"/>
<rect x="1451.91" y="825.99" width="4.7" height="4.7" fill="#2a8fd8"/>
<rect x="1454.14" y="825.91" width="4.7" height="4.7" fill="#2a8fd8"/>
<rect x="1456.37" y="825.84" width="4.7" height="4.7" fill="#2a8fd8"/>
<rect x="1458.6" y="825.76" width="4.7" height="4.7" fill="#2a8fd8"/>
<rect x="1460.83" y="825.69" width="4.7" height="4.7" fill="#2a8fd8"/>
<rect x="1463.05" y="825.61" width="4.7" height="4.7" fill="#2a8fd8"/>
<rect x="1465.28" y="825.54" width="4.7" height="4.7" fill="#2a8fd8"/>
<rect x="1467.51" y="825.47" width="4.7" height="4.7" fill="#2a8fd8"/>
<rect x="1469.74" y="825.39" width="4.7" height="4.7" fill="#2a8fd8"/>
<rect x="1471.97" y="825.32" width="4.7" height="4.7" fill="#2a8fd8"/>
<rect x="1474.19" y="825.24" width="4.7" height="4.7" fill="#2a8fd8"/>
<rect x="1476.42" y="825.17" width="4.7" height="4.7" fill="#2a8fd8"/>
<rect x="1201.26" y="692.61" width="4.7" height="4.7" fill="#2a8fd8"/>
<rect x="1203.49" y="691.68" width="4.7" height="4.7" fill="#2a8fd8"/>
<rect x="1205.72" y="690.75" width="4.7" height="4.7" fill="#2a8fd8"/>
<rect x="1207.95" y="689.82" width="4.7" height="4.7" fill="#2a8fd8"/>
<rect x="1210.18" y="688.9" width="4.7" height="4.7" fill="#2a8fd8"/>
<rect x="1212.4" y="687.97" width="4.7" height="4.7" fill="#2a8fd8"/>
<rect x="1214.63" y="687.04" width="4.7" height="4.7" fill="#2a8fd8"/>
<rect x="1216.86" y="686.11" width="4.7" height="4.7" fill="#2a8fd8"/>
<rect x="1219.09" y="685.19" width="4.7" height="4.7" fill="#2a8fd8"/>
<rect x="1221.32" y="684.26" width="4.7" height="4.7" fill="#2a8fd8"/>
<rect x="1223.54" y="683.33" width="4.7" height="4.7" fill="#2a8fd8"/>
<rect x="1225.77" y="682.4" width="4.7" height="4.7" fill="#2a8fd8"/>
<rect x="1228" y="681.48" width="4.7" height="4.7" fill="#2a8fd8"/>
<rect x="1230.23" y="680.55" width="4.7" height="4.7" fill="#2a8fd8"/>
<rect x="1232.46" y="679.62" width="4.7" height="4.7" fill="#2a8fd8"/>
<rect x="1234.68" y="678.7" width="4.7" height="4.7" fill="#2a8fd8"/>
<rect x="1236.91" y="677.77" width="4.7" height="4.7" fill="#2a8fd8"/>
<rect x="1239.14" y="676.85" width="4.7" height="4.7" fill="#2a8fd8"/>
<rect x="1241.37" y="675.92" width="4.7" height="4.7" fill="#2a8fd8"/>
<rect x="1243.6" y="675" width="4.7" height="4.7" fill="#2a8fd8"/>
<rect x="1245.82" y="674.08" width="4.7" height="4.7" fill="#2a8fd8"/>
<rect x="1248.05" y="673.16" width="4.7" height="4.7" fill="#2a8fd8"/>
<rect x="1250.28" y="672.24" width="4.7" height="4.7" fill="#2a8fd8"/>
<rect x="1252.51" y="671.33" width="4.7" height="4.7" fill="#2a8fd8"/>
<rect x="1254.74" y="670.42" width="4.7" height="4.7" fill="#2a8fd8"/>
<rect x="1256.96" y="669.51" width="4.7" height="4.7" fill="#2a8fd8"/>
<rect x="1259.19" y="668.62" width="4.7" height="4.7" fill="#2a8fd8"/>
<rect x="1261.42" y="667.73" width="4.7" height="4.7" fill="#2a8fd8"/>
<rect x="1263.65" y="666.86" width="4.7" height="4.7" fill="#2a8fd8"/>
<rect x="1265.88" y="666" width="4.7" height="4.7" fill="#2a8fd8"/>
<rect x="1268.1" y="665.17" width="4.7" height="4.7" fill="#2a8fd8"/>
<rect x="1270.33" y="664.36" width="4.7" height="4.7" fill="#2a8fd8"/>
<rect x="1272.56" y="663.59" width="4.7" height="4.7" fill="#2a8fd8"/>
<rect x="1274.79" y="662.87" width="4.7" height="4.7" fill="#2a8fd8"/>
<rect x="1277.02" y="662.21" width="4.7" height="4.7" fill="#2a8fd8"/>
<rect x="1279.24" y="661.62" width="4.7" height="4.7" fill="#2a8fd8"/>
<rect x="1281.47" y="661.12" width="4.7" height="4.7" fill="#2a8fd8"/>
<rect x="1283.7" y="660.72" width="4.7" height="4.7" fill="#2a8fd8"/>
<rect x="1285.93" y="660.44" width="4.7" height="4.7" fill="#2a8fd8"/>
<rect x="1288.16" y="660.3" width="4.7" height="4.7" fill="#2a8fd8"/>
<rect x="1290.38" y="660.32" width="4.7" height="4.7" fill="#2a8fd8"/>
<rect x="1292.61" y="660.5" width="4.7" height="4.7" fill="#2a8fd8"/>
<rect x="1294.84" y="660.88" width="4.7" height="4.7" fill="#2a8fd8"/>
<rect x="1297.07" y="661.47" width="4.7" height="4.7" fill="#2a8fd8"/>
<rect x="1299.3" y="662.33" width="4.7" height="4.7" fill="#2a8fd8"/>
<rect x="1301.52" y="663.48" width="4.7" height="4.7" fill="#2a8fd8"/>
<rect x="1303.75" y="665" width="4.7" height="4.7" fill="#2a8fd8"/>
<rect x="1305.98" y="666.97" width="4.7" height="4.7" fill="#2a8fd8"/>
<rect x="1308.21" y="669.49" width="4.7" height="4.7" fill="#2a8fd8"/>
<rect x="1310.44" y="672.71" width="4.7" height="4.7" fill="#2a8fd8"/>
<rect x="1312.66" y="676.81" width="4.7" height="4.7" fill="#2a8fd8"/>
<rect x="1314.89" y="682" width="4.7" height="4.7" fill="#2a8fd8"/>
<rect x="1317.12" y="688.58" width="4.7" height="4.7" fill="#2a8fd8"/>
<rect x="1319.35" y="696.92" width="4.7" height="4.7" fill="#2a8fd8"/>
<rect x="1321.58" y="707.47" width="4.7" height="4.7" fill="#2a8fd8"/>
<rect x="1323.8" y="720.83" width="4.7" height="4.7" fill="#2a8fd8"/>
<rect x="1326.03" y="737.74" width="4.7" height="4.7" fill="#2a8fd8"/>
<rect x="1328.26" y="759.13" width="4.7" height="4.7" fill="#2a8fd8"/>
<rect x="1330.49" y="786.2" width="4.7" height="4.7" fill="#2a8fd8"/>
<rect x="1332.72" y="820.07" width="4.7" height="4.7" fill="#2a8fd8"/>
<rect x="1334.94" y="831.08" width="4.7" height="4.7" fill="#2a8fd8"/>
<rect x="1337.17" y="831.01" width="4.7" height="4.7" fill="#2a8fd8"/>
<rect x="1339.4" y="830.93" width="4.7" height="4.7" fill="#2a8fd8"/>
<rect x="1341.63" y="830.86" width="4.7" height="4.7" fill="#2a8fd8"/>
<rect x="1343.86" y="830.79" width="4.7" height="4.7" fill="#2a8fd8"/>
<rect x="1346.08" y="830.71" width="4.7" height="4.7" fill="#2a8fd8"/>
<rect x="1348.31" y="830.64" width="4.7" height="4.7" fill="#2a8fd8"/>
<rect x="1350.54" y="830.56" width="4.7" height="4.7" fill="#2a8fd8"/>
<rect x="1352.77" y="830.49" width="4.7" height="4.7" fill="#2a8fd8"/>
<rect x="1355" y="830.41" width="4.7" height="4.7" fill="#2a8fd8"/>
<rect x="1357.22" y="830.34" width="4.7" height="4.7" fill="#2a8fd8"/>
<rect x="1359.45" y="830.27" width="4.7" height="4.7" fill="#2a8fd8"/>
<rect x="1361.68" y="830.19" width="4.7" height="4.7" fill="#2a8fd8"/>
<rect x="1363.91" y="830.12" width="4.7" height="4.7" fill="#2a8fd8"/>
<rect x="1366.14" y="830.04" width="4.7" height="4.7" fill="#2a8fd8"/>
<rect x="1368.36" y="829.97" width="4.7" height="4.7" fill="#2a8fd8"/>
<rect x="1370.59" y="829.89" width="4.7" height="4.7" fill="#2a8fd8"/>
<rect x="1372.82" y="829.82" width="4.7" height="4.7" fill="#2a8fd8"/>
<rect x="1375.05" y="829.75" width="4.7" height="4.7" fill="#2a8fd8"/>
<rect x="1377.28" y="829.67" width="4.7" height="4.7" fill="#2a8fd8"/>
<rect x="1379.5" y="829.6" width="4.7" height="4.7" fill="#2a8fd8"/>
<rect x="1381.73" y="829.52" width="4.7" height="4.7" fill="#2a8fd8"/>
<rect x="1383.96" y="829.45" width="4.7" height="4.7" fill="#2a8fd8"/>
<rect x="1386.19" y="829.38" width="4.7" height="4.7" fill="#2a8fd8"/>
<rect x="1388.42" y="829.3" width="4.7" height="4.7" fill="#2a8fd8"/>
<rect x="1390.64" y="829.23" width="4.7" height="4.7" fill="#2a8fd8"/>
<rect x="1392.87" y="829.15" width="4.7" height="4.7" fill="#2a8fd8"/>
<rect x="1395.1" y="829.08" width="4.7" height="4.7" fill="#2a8fd8"/>
<rect x="1397.33" y="829" width="4.7" height="4.7" fill="#2a8fd8"/>
<rect x="1399.56" y="828.93" width="4.7" height="4.7" fill="#2a8fd8"/>
<rect x="1401.78" y="828.86" width="4.7" height="4.7" fill="#2a8fd8"/>
<rect x="1404.01" y="828.78" width="4.7" height="4.7" fill="#2a8fd8"/>
<rect x="1406.24" y="828.71" width="4.7" height="4.7" fill="#2a8fd8"/>
<rect x="1408.47" y="828.63" width="4.7" height="4.7" fill="#2a8fd8"/>
<rect x="1410.7" y="828.56" width="4.7" height="4.7" fill="#2a8fd8"/>
<rect x="1412.92" y="828.48" width="4.7" height="4.7" fill="#2a8fd8"/>
<rect x="1415.15" y="828.41" width="4.7" height="4.7" fill="#2a8fd8"/>
<rect x="1417.38" y="828.34" width="4.7" height="4.7" fill="#2a8fd8"/>
<rect x="1419.61" y="828.26" width="4.7" height="4.7" fill="#2a8fd8"/>
<rect x="1421.84" y="828.19" width="4.7" height="4.7" fill="#2a8fd8"/>
<rect x="1424.06" y="828.11" width="4.7" height="4.7" fill="#2a8fd8"/>
<rect x="1426.29" y="828.04" width="4.7" height="4.7" fill="#2a8fd8"/>
<rect x="1428.52" y="827.96" width="4.7" height="4.7" fill="#2a8fd8"/>
<rect x="1430.75" y="827.89" width="4.7" height="4.7" fill="#2a8fd8"/>
<rect x="1432.98" y="827.82" width="4.7" height="4.7" fill="#2a8fd8"/>
<rect x="1435.2" y="827.74" width="4.7" height="4.7" fill="#2a8fd8"/>
<rect x="1437.43" y="827.67" width="4.7" height="4.7" fill="#2a8fd8"/>
<rect x="1439.66" y="827.59" width="4.7" height="4.7" fill="#2a8fd8"/>
<rect x="1441.89" y="827.52" width="4.7" height="4.7" fill="#2a8fd8"/>
<rect x="1444.12" y="827.45" width="4.7" height="4.7" fill="#2a8fd8"/>
<rect x="1446.34" y="827.37" width="4.7" height="4.7" fill="#2a8fd8"/>
<rect x="1448.57" y="827.3" width="4.7" height="4.7" fill="#2a8fd8"/>
<rect x="1450.8" y="827.22" width="4.7" height="4.7" fill="#2a8fd8"/>
<rect x="1453.03" y="827.15" width="4.7" height="4.7" fill="#2a8fd8"/>
<rect x="1455.26" y="827.07" width="4.7" height="4.7" fill="#2a8fd8"/>
<rect x="1457.48" y="827" width="4.7" height="4.7" fill="#2a8fd8"/>
<rect x="1459.71" y="826.93" width="4.7" height="4.7" fill="#2a8fd8"/>
<rect x="1461.94" y="826.85" width="4.7" height="4.7" fill="#2a8fd8"/>
<rect x="1464.17" y="826.78" width="4.7" height="4.7" fill="#2a8fd8"/>
<rect x="1466.4" y="826.7" width="4.7" height="4.7" fill="#2a8fd8"/>
<rect x="1468.62" y="826.63" width="4.7" height="4.7" fill="#2a8fd8"/>
<rect x="1470.85" y="826.55" width="4.7" height="4.7" fill="#2a8fd8"/>
<rect x="1473.08" y="826.48" width="4.7" height="4.7" fill="#2a8fd8"/>
<rect x="1475.31" y="826.41" width="4.7" height="4.7" fill="#2a8fd8"/>
<rect x="1477.54" y="826.33" width="4.7" height="4.7" fill="#2a8fd8"/>
<rect x="1200.15" y="692.98" width="4.7" height="4.7" fill="#56aae6"/>
<rect x="1202.38" y="692.06" width="4.7" height="4.7" fill="#56aae6"/>
<rect x="1204.61" y="691.13" width="4.7" height="4.7" fill="#56aae6"/>
<rect x="1206.83" y="690.2" width="4.7" height="4.7" fill="#56aae6"/>
<rect x="1209.06" y="689.27" width="4.7" height="4.7" fill="#56aae6"/>
<rect x="1211.29" y="688.34" width="4.7" height="4.7" fill="#56aae6"/>
<rect x="1213.52" y="687.42" width="4.7" height="4.7" fill="#56aae6"/>
<rect x="1215.75" y="686.49" width="4.7" height="4.7" fill="#56aae6"/>
<rect x="1217.97" y="685.56" width="4.7" height="4.7" fill="#56aae6"/>
<rect x="1220.2" y="684.63" width="4.7" height="4.7" fill="#56aae6"/>
<rect x="1222.43" y="683.71" width="4.7" height="4.7" fill="#56aae6"/>
<rect x="1224.66" y="682.78" width="4.7" height="4.7" fill="#56aae6"/>
<rect x="1226.89" y="681.85" width="4.7" height="4.7" fill="#56aae6"/>
<rect x="1229.11" y="680.93" width="4.7" height="4.7" fill="#56aae6"/>
<rect x="1231.34" y="680" width="4.7" height="4.7" fill="#56aae6"/>
<rect x="1233.57" y="679.07" width="4.7" height="4.7" fill="#56aae6"/>
<rect x="1235.8" y="678.15" width="4.7" height="4.7" fill="#56aae6"/>
<rect x="1238.03" y="677.22" width="4.7" height="4.7" fill="#56aae6"/>
<rect x="1240.25" y="676.29" width="4.7" height="4.7" fill="#56aae6"/>
<rect x="1242.48" y="675.37" width="4.7" height="4.7" fill="#56aae6"/>
<rect x="1244.71" y="674.45" width="4.7" height="4.7" fill="#56aae6"/>
<rect x="1246.94" y="673.52" width="4.7" height="4.7" fill="#56aae6"/>
<rect x="1249.17" y="672.6" width="4.7" height="4.7" fill="#56aae6"/>
<rect x="1251.39" y="671.69" width="4.7" height="4.7" fill="#56aae6"/>
<rect x="1253.62" y="670.77" width="4.7" height="4.7" fill="#56aae6"/>
<rect x="1255.85" y="669.86" width="4.7" height="4.7" fill="#56aae6"/>
<rect x="1258.08" y="668.96" width="4.7" height="4.7" fill="#56aae6"/>
<rect x="1260.31" y="668.06" width="4.7" height="4.7" fill="#56aae6"/>
<rect x="1262.53" y="667.18" width="4.7" height="4.7" fill="#56aae6"/>
<rect x="1264.76" y="666.31" width="4.7" height="4.7" fill="#56aae6"/>
<rect x="1266.99" y="665.46" width="4.7" height="4.7" fill="#56aae6"/>
<rect x="1269.22" y="664.63" width="4.7" height="4.7" fill="#56aae6"/>
<rect x="1271.45" y="663.83" width="4.7" height="4.7" fill="#56aae6"/>
<rect x="1273.67" y="663.08" width="4.7" height="4.7" fill="#56aae6"/>
<rect x="1275.9" y="662.37" width="4.7" height="4.7" fill="#56aae6"/>
<rect x="1278.13" y="661.72" width="4.7" height="4.7" fill="#56aae6"/>
<rect x="1280.36" y="661.14" width="4.7" height="4.7" fill="#56aae6"/>
<rect x="1282.59" y="660.64" width="4.7" height="4.7" fill="#56aae6"/>
<rect x="1284.81" y="660.23" width="4.7" height="4.7" fill="#56aae6"/>
<rect x="1287.04" y="659.92" width="4.7" height="4.7" fill="#56aae6"/>
<rect x="1289.27" y="659.7" width="4.7" height="4.7" fill="#56aae6"/>
<rect x="1291.5" y="659.59" width="4.7" height="4.7" fill="#56aae6"/>
<rect x="1293.73" y="659.58" width="4.7" height="4.7" fill="#56aae6"/>
<rect x="1295.95" y="659.68" width="4.7" height="4.7" fill="#56aae6"/>
<rect x="1298.18" y="659.89" width="4.7" height="4.7" fill="#56aae6"/>
<rect x="1300.41" y="660.23" width="4.7" height="4.7" fill="#56aae6"/>
<rect x="1302.64" y="660.7" width="4.7" height="4.7" fill="#56aae6"/>
<rect x="1304.87" y="661.34" width="4.7" height="4.7" fill="#56aae6"/>
<rect x="1307.09" y="662.18" width="4.7" height="4.7" fill="#56aae6"/>
<rect x="1309.32" y="663.24" width="4.7" height="4.7" fill="#56aae6"/>
<rect x="1311.55" y="664.6" width="4.7" height="4.7" fill="#56aae6"/>
<rect x="1313.78" y="666.32" width="4.7" height="4.7" fill="#56aae6"/>
<rect x="1316.01" y="668.49" width="4.7" height="4.7" fill="#56aae6"/>
<rect x="1318.23" y="671.21" width="4.7" height="4.7" fill="#56aae6"/>
<rect x="1320.46" y="674.64" width="4.7" height="4.7" fill="#56aae6"/>
<rect x="1322.69" y="678.94" width="4.7" height="4.7" fill="#56aae6"/>
<rect x="1324.92" y="684.35" width="4.7" height="4.7" fill="#56aae6"/>
<rect x="1327.15" y="691.14" width="4.7" height="4.7" fill="#56aae6"/>
<rect x="1329.37" y="699.66" width="4.7" height="4.7" fill="#56aae6"/>
<rect x="1331.6" y="710.35" width="4.7" height="4.7" fill="#56aae6"/>
<rect x="1333.83" y="723.78" width="4.7" height="4.7" fill="#56aae6"/>
<rect x="1336.06" y="740.63" width="4.7" height="4.7" fill="#56aae6"/>
<rect x="1338.29" y="761.78" width="4.7" height="4.7" fill="#56aae6"/>
<rect x="1340.51" y="788.33" width="4.7" height="4.7" fill="#56aae6"/>
<rect x="1342.74" y="821.02" width="4.7" height="4.7" fill="#56aae6"/>
<rect x="1344.97" y="829.92" width="4.7" height="4.7" fill="#56aae6"/>
<rect x="1347.2" y="829.84" width="4.7" height="4.7" fill="#56aae6"/>
<rect x="1349.43" y="829.77" width="4.7" height="4.7" fill="#56aae6"/>
<rect x="1351.65" y="829.7" width="4.7" height="4.7" fill="#56aae6"/>
<rect x="1353.88" y="829.62" width="4.7" height="4.7" fill="#56aae6"/>
<rect x="1356.11" y="829.55" width="4.7" height="4.7" fill="#56aae6"/>
<rect x="1358.34" y="829.47" width="4.7" height="4.7" fill="#56aae6"/>
<rect x="1360.57" y="829.4" width="4.7" height="4.7" fill="#56aae6"/>
<rect x="1362.79" y="829.33" width="4.7" height="4.7" fill="#56aae6"/>
<rect x="1365.02" y="829.25" width="4.7" height="4.7" fill="#56aae6"/>
<rect x="1367.25" y="829.18" width="4.7" height="4.7" fill="#56aae6"/>
<rect x="1369.48" y="829.1" width="4.7" height="4.7" fill="#56aae6"/>
<rect x="1371.71" y="829.03" width="4.7" height="4.7" fill="#56aae6"/>
<rect x="1373.93" y="828.95" width="4.7" height="4.7" fill="#56aae6"/>
<rect x="1376.16" y="828.88" width="4.7" height="4.7" fill="#56aae6"/>
<rect x="1378.39" y="828.81" width="4.7" height="4.7" fill="#56aae6"/>
<rect x="1380.62" y="828.73" width="4.7" height="4.7" fill="#56aae6"/>
<rect x="1382.85" y="828.66" width="4.7" height="4.7" fill="#56aae6"/>
<rect x="1385.07" y="828.58" width="4.7" height="4.7" fill="#56aae6"/>
<rect x="1387.3" y="828.51" width="4.7" height="4.7" fill="#56aae6"/>
<rect x="1389.53" y="828.43" width="4.7" height="4.7" fill="#56aae6"/>
<rect x="1391.76" y="828.36" width="4.7" height="4.7" fill="#56aae6"/>
<rect x="1393.99" y="828.29" width="4.7" height="4.7" fill="#56aae6"/>
<rect x="1396.21" y="828.21" width="4.7" height="4.7" fill="#56aae6"/>
<rect x="1398.44" y="828.14" width="4.7" height="4.7" fill="#56aae6"/>
<rect x="1400.67" y="828.06" width="4.7" height="4.7" fill="#56aae6"/>
<rect x="1402.9" y="827.99" width="4.7" height="4.7" fill="#56aae6"/>
<rect x="1405.13" y="827.92" width="4.7" height="4.7" fill="#56aae6"/>
<rect x="1407.35" y="827.84" width="4.7" height="4.7" fill="#56aae6"/>
<rect x="1409.58" y="827.77" width="4.7" height="4.7" fill="#56aae6"/>
<rect x="1411.81" y="827.69" width="4.7" height="4.7" fill="#56aae6"/>
<rect x="1414.04" y="827.62" width="4.7" height="4.7" fill="#56aae6"/>
<rect x="1416.27" y="827.54" width="4.7" height="4.7" fill="#56aae6"/>
<rect x="1418.49" y="827.47" width="4.7" height="4.7" fill="#56aae6"/>
<rect x="1420.72" y="827.4" width="4.7" height="4.7" fill="#56aae6"/>
<rect x="1422.95" y="827.32" width="4.7" height="4.7" fill="#56aae6"/>
<rect x="1425.18" y="827.25" width="4.7" height="4.7" fill="#56aae6"/>
<rect x="1427.41" y="827.17" width="4.7" height="4.7" fill="#56aae6"/>
<rect x="1429.63" y="827.1" width="4.7" height="4.7" fill="#56aae6"/>
<rect x="1431.86" y="827.02" width="4.7" height="4.7" fill="#56aae6"/>
<rect x="1434.09" y="826.95" width="4.7" height="4.7" fill="#56aae6"/>
<rect x="1436.32" y="826.88" width="4.7" height="4.7" fill="#56aae6"/>
<rect x="1438.55" y="826.8" width="4.7" height="4.7" fill="#56aae6"/>
<rect x="1440.77" y="826.73" width="4.7" height="4.7" fill="#56aae6"/>
<rect x="1443" y="826.65" width="4.7" height="4.7" fill="#56aae6"/>
<rect x="1445.23" y="826.58" width="4.7" height="4.7" fill="#56aae6"/>
<rect x="1447.46" y="826.51" width="4.7" height="4.7" fill="#56aae6"/>
<rect x="1449.69" y="826.43" width="4.7" height="4.7" fill="#56aae6"/>
<rect x="1451.91" y="826.36" width="4.7" height="4.7" fill="#56aae6"/>
<rect x="1454.14" y="826.28" width="4.7" height="4.7" fill="#56aae6"/>
<rect x="1456.37" y="826.21" width="4.7" height="4.7" fill="#56aae6"/>
<rect x="1458.6" y="826.13" width="4.7" height="4.7" fill="#56aae6"/>
<rect x="1460.83" y="826.06" width="4.7" height="4.7" fill="#56aae6"/>
<rect x="1463.05" y="825.99" width="4.7" height="4.7" fill="#56aae6"/>
<rect x="1465.28" y="825.91" width="4.7" height="4.7" fill="#56aae6"/>
<rect x="1467.51" y="825.84" width="4.7" height="4.7" fill="#56aae6"/>
<rect x="1469.74" y="825.76" width="4.7" height="4.7" fill="#56aae6"/>
<rect x="1471.97" y="825.69" width="4.7" height="4.7" fill="#56aae6"/>
<rect x="1474.19" y="825.61" width="4.7" height="4.7" fill="#56aae6"/>
<rect x="1476.42" y="825.54" width="4.7" height="4.7" fill="#56aae6"/>
<rect x="1201.26" y="693.72" width="4.7" height="4.7" fill="#56aae6"/>
<rect x="1203.49" y="692.79" width="4.7" height="4.7" fill="#56aae6"/>
<rect x="1205.72" y="691.86" width="4.7" height="4.7" fill="#56aae6"/>
<rect x="1207.95" y="690.94" width="4.7" height="4.7" fill="#56aae6"/>
<rect x="1210.18" y="690.01" width="4.7" height="4.7" fill="#56aae6"/>
<rect x="1212.4" y="689.08" width="4.7" height="4.7" fill="#56aae6"/>
<rect x="1214.63" y="688.15" width="4.7" height="4.7" fill="#56aae6"/>
<rect x="1216.86" y="687.23" width="4.7" height="4.7" fill="#56aae6"/>
<rect x="1219.09" y="686.3" width="4.7" height="4.7" fill="#56aae6"/>
<rect x="1221.32" y="685.37" width="4.7" height="4.7" fill="#56aae6"/>
<rect x="1223.54" y="684.44" width="4.7" height="4.7" fill="#56aae6"/>
<rect x="1225.77" y="683.52" width="4.7" height="4.7" fill="#56aae6"/>
<rect x="1228" y="682.59" width="4.7" height="4.7" fill="#56aae6"/>
<rect x="1230.23" y="681.66" width="4.7" height="4.7" fill="#56aae6"/>
<rect x="1232.46" y="680.73" width="4.7" height="4.7" fill="#56aae6"/>
<rect x="1234.68" y="679.81" width="4.7" height="4.7" fill="#56aae6"/>
<rect x="1236.91" y="678.88" width="4.7" height="4.7" fill="#56aae6"/>
<rect x="1239.14" y="677.96" width="4.7" height="4.7" fill="#56aae6"/>
<rect x="1241.37" y="677.03" width="4.7" height="4.7" fill="#56aae6"/>
<rect x="1243.6" y="676.11" width="4.7" height="4.7" fill="#56aae6"/>
<rect x="1245.82" y="675.19" width="4.7" height="4.7" fill="#56aae6"/>
<rect x="1248.05" y="674.26" width="4.7" height="4.7" fill="#56aae6"/>
<rect x="1250.28" y="673.35" width="4.7" height="4.7" fill="#56aae6"/>
<rect x="1252.51" y="672.43" width="4.7" height="4.7" fill="#56aae6"/>
<rect x="1254.74" y="671.52" width="4.7" height="4.7" fill="#56aae6"/>
<rect x="1256.96" y="670.61" width="4.7" height="4.7" fill="#56aae6"/>
<rect x="1259.19" y="669.71" width="4.7" height="4.7" fill="#56aae6"/>
<rect x="1261.42" y="668.82" width="4.7" height="4.7" fill="#56aae6"/>
<rect x="1263.65" y="667.94" width="4.7" height="4.7" fill="#56aae6"/>
<rect x="1265.88" y="667.08" width="4.7" height="4.7" fill="#56aae6"/>
<rect x="1268.1" y="666.24" width="4.7" height="4.7" fill="#56aae6"/>
<rect x="1270.33" y="665.43" width="4.7" height="4.7" fill="#56aae6"/>
<rect x="1272.56" y="664.65" width="4.7" height="4.7" fill="#56aae6"/>
<rect x="1274.79" y="663.91" width="4.7" height="4.7" fill="#56aae6"/>
<rect x="1277.02" y="663.23" width="4.7" height="4.7" fill="#56aae6"/>
<rect x="1279.24" y="662.62" width="4.7" height="4.7" fill="#56aae6"/>
<rect x="1281.47" y="662.08" width="4.7" height="4.7" fill="#56aae6"/>
<rect x="1283.7" y="661.62" width="4.7" height="4.7" fill="#56aae6"/>
<rect x="1285.93" y="661.26" width="4.7" height="4.7" fill="#56aae6"/>
<rect x="1288.16" y="661" width="4.7" height="4.7" fill="#56aae6"/>
<rect x="1290.38" y="660.83" width="4.7" height="4.7" fill="#56aae6"/>
<rect x="1292.61" y="660.77" width="4.7" height="4.7" fill="#56aae6"/>
<rect x="1294.84" y="660.82" width="4.7" height="4.7" fill="#56aae6"/>
<rect x="1297.07" y="660.97" width="4.7" height="4.7" fill="#56aae6"/>
<rect x="1299.3" y="661.24" width="4.7" height="4.7" fill="#56aae6"/>
<rect x="1301.52" y="661.65" width="4.7" height="4.7" fill="#56aae6"/>
<rect x="1303.75" y="662.2" width="4.7" height="4.7" fill="#56aae6"/>
<rect x="1305.98" y="662.93" width="4.7" height="4.7" fill="#56aae6"/>
<rect x="1308.21" y="663.88" width="4.7" height="4.7" fill="#56aae6"/>
<rect x="1310.44" y="665.08" width="4.7" height="4.7" fill="#56aae6"/>
<rect x="1312.66" y="666.61" width="4.7" height="4.7" fill="#56aae6"/>
<rect x="1314.89" y="668.54" width="4.7" height="4.7" fill="#56aae6"/>
<rect x="1317.12" y="670.97" width="4.7" height="4.7" fill="#56aae6"/>
<rect x="1319.35" y="674.03" width="4.7" height="4.7" fill="#56aae6"/>
<rect x="1321.58" y="677.87" width="4.7" height="4.7" fill="#56aae6"/>
<rect x="1323.8" y="682.69" width="4.7" height="4.7" fill="#56aae6"/>
<rect x="1326.03" y="688.75" width="4.7" height="4.7" fill="#56aae6"/>
<rect x="1328.26" y="696.35" width="4.7" height="4.7" fill="#56aae6"/>
<rect x="1330.49" y="705.9" width="4.7" height="4.7" fill="#56aae6"/>
<rect x="1332.72" y="717.88" width="4.7" height="4.7" fill="#56aae6"/>
<rect x="1334.94" y="732.93" width="4.7" height="4.7" fill="#56aae6"/>
<rect x="1337.17" y="751.81" width="4.7" height="4.7" fill="#56aae6"/>
<rect x="1339.4" y="775.5" width="4.7" height="4.7" fill="#56aae6"/>
<rect x="1341.63" y="805.24" width="4.7" height="4.7" fill="#56aae6"/>
<rect x="1343.86" y="830.83" width="4.7" height="4.7" fill="#56aae6"/>
<rect x="1346.08" y="831.08" width="4.7" height="4.7" fill="#56aae6"/>
<rect x="1348.31" y="831.01" width="4.7" height="4.7" fill="#56aae6"/>
<rect x="1350.54" y="830.93" width="4.7" height="4.7" fill="#56aae6"/>
<rect x="1352.77" y="830.86" width="4.7" height="4.7" fill="#56aae6"/>
<rect x="1355" y="830.79" width="4.7" height="4.7" fill="#56aae6"/>
<rect x="1357.22" y="830.71" width="4.7" height="4.7" fill="#56aae6"/>
<rect x="1359.45" y="830.64" width="4.7" height="4.7" fill="#56aae6"/>
<rect x="1361.68" y="830.56" width="4.7" height="4.7" fill="#56aae6"/>
<rect x="1363.91" y="830.49" width="4.7" height="4.7" fill="#56aae6"/>
<rect x="1366.14" y="830.41" width="4.7" height="4.7" fill="#56aae6"/>
<rect x="1368.36" y="830.34" width="4.7" height="4.7" fill="#56aae6"/>
<rect x="1370.59" y="830.27" width="4.7" height="4.7" fill="#56aae6"/>
<rect x="1372.82" y="830.19" width="4.7" height="4.7" fill="#56aae6"/>
<rect x="1375.05" y="830.12" width="4.7" height="4.7" fill="#56aae6"/>
<rect x="1377.28" y="830.04" width="4.7" height="4.7" fill="#56aae6"/>
<rect x="1379.5" y="829.97" width="4.7" height="4.7" fill="#56aae6"/>
<rect x="1381.73" y="829.89" width="4.7" height="4.7" fill="#56aae6"/>
<rect x="1383.96" y="829.82" width="4.7" height="4.7" fill="#56aae6"/>
<rect x="1386.19" y="829.75" width="4.7" height="4.7" fill="#56aae6"/>
<rect x="1388.42" y="829.67" width="4.7" height="4.7" fill="#56aae6"/>
<rect x="1390.64" y="829.6" width="4.7" height="4.7" fill="#56aae6"/>
<rect x="1392.87" y="829.52" width="4.7" height="4.7" fill="#56aae6"/>
<rect x="1395.1" y="829.45" width="4.7" height="4.7" fill="#56aae6"/>
<rect x="1397.33" y="829.38" width="4.7" height="4.7" fill="#56aae6"/>
<rect x="1399.56" y="829.3" width="4.7" height="4.7" fill="#56aae6"/>
<rect x="1401.78" y="829.23" width="4.7" height="4.7" fill="#56aae6"/>
<rect x="1404.01" y="829.15" width="4.7" height="4.7" fill="#56aae6"/>
<rect x="1406.24" y="829.08" width="4.7" height="4.7" fill="#56aae6"/>
<rect x="1408.47" y="829" width="4.7" height="4.7" fill="#56aae6"/>
<rect x="1410.7" y="828.93" width="4.7" height="4.7" fill="#56aae6"/>
<rect x="1412.92" y="828.86" width="4.7" height="4.7" fill="#56aae6"/>
<rect x="1415.15" y="828.78" width="4.7" height="4.7" fill="#56aae6"/>
<rect x="1417.38" y="828.71" width="4.7" height="4.7" fill="#56aae6"/>
<rect x="1419.61" y="828.63" width="4.7" height="4.7" fill="#56aae6"/>
<rect x="1421.84" y="828.56" width="4.7" height="4.7" fill="#56aae6"/>
<rect x="1424.06" y="828.48" width="4.7" height="4.7" fill="#56aae6"/>
<rect x="1426.29" y="828.41" width="4.7" height="4.7" fill="#56aae6"/>
<rect x="1428.52" y="828.34" width="4.7" height="4.7" fill="#56aae6"/>
<rect x="1430.75" y="828.26" width="4.7" height="4.7" fill="#56aae6"/>
<rect x="1432.98" y="828.19" width="4.7" height="4.7" fill="#56aae6"/>
<rect x="1435.2" y="828.11" width="4.7" height="4.7" fill="#56aae6"/>
<rect x="1437.43" y="828.04" width="4.7" height="4.7" fill="#56aae6"/>
<rect x="1439.66" y="827.96" width="4.7" height="4.7" fill="#56aae6"/>
<rect x="1441.89" y="827.89" width="4.7" height="4.7" fill="#56aae6"/>
<rect x="1444.12" y="827.82" width="4.7" height="4.7" fill="#56aae6"/>
<rect x="1446.34" y="827.74" width="4.7" height="4.7" fill="#56aae6"/>
<rect x="1448.57" y="827.67" width="4.7" height="4.7" fill="#56aae6"/>
<rect x="1450.8" y="827.59" width="4.7" height="4.7" fill="#56aae6"/>
<rect x="1453.03" y="827.52" width="4.7" height="4.7" fill="#56aae6"/>
<rect x="1455.26" y="827.45" width="4.7" height="4.7" fill="#56aae6"/>
<rect x="1457.48" y="827.37" width="4.7" height="4.7" fill="#56aae6"/>
<rect x="1459.71" y="827.3" width="4.7" height="4.7" fill="#56aae6"/>
<rect x="1461.94" y="827.22" width="4.7" height="4.7" fill="#56aae6"/>
<rect x="1464.17" y="827.15" width="4.7" height="4.7" fill="#56aae6"/>
<rect x="1466.4" y="827.07" width="4.7" height="4.7" fill="#56aae6"/>
<rect x="1468.62" y="827" width="4.7" height="4.7" fill="#56aae6"/>
<rect x="1470.85" y="826.93" width="4.7" height="4.7" fill="#56aae6"/>
<rect x="1473.08" y="826.85" width="4.7" height="4.7" fill="#56aae6"/>
<rect x="1475.31" y="826.78" width="4.7" height="4.7" fill="#56aae6"/>
<rect x="1477.54" y="826.7" width="4.7" height="4.7" fill="#56aae6"/>
<rect x="1200.15" y="698.55" width="4.7" height="4.7" fill="#8cc8f0"/>
<rect x="1202.38" y="697.94" width="4.7" height="4.7" fill="#8cc8f0"/>
<rect x="1204.61" y="697.33" width="4.7" height="4.7" fill="#8cc8f0"/>
<rect x="1206.83" y="696.73" width="4.7" height="4.7" fill="#8cc8f0"/>
<rect x="1209.06" y="696.12" width="4.7" height="4.7" fill="#8cc8f0"/>
<rect x="1211.29" y="695.51" width="4.7" height="4.7" fill="#8cc8f0"/>
<rect x="1213.52" y="694.9" width="4.7" height="4.7" fill="#8cc8f0"/>
<rect x="1215.75" y="694.29" width="4.7" height="4.7" fill="#8cc8f0"/>
<rect x="1217.97" y="693.69" width="4.7" height="4.7" fill="#8cc8f0"/>
<rect x="1220.2" y="693.08" width="4.7" height="4.7" fill="#8cc8f0"/>
<rect x="1222.43" y="692.47" width="4.7" height="4.7" fill="#8cc8f0"/>
<rect x="1224.66" y="691.86" width="4.7" height="4.7" fill="#8cc8f0"/>
<rect x="1226.89" y="691.26" width="4.7" height="4.7" fill="#8cc8f0"/>
<rect x="1229.11" y="690.65" width="4.7" height="4.7" fill="#8cc8f0"/>
<rect x="1231.34" y="690.04" width="4.7" height="4.7" fill="#8cc8f0"/>
<rect x="1233.57" y="689.44" width="4.7" height="4.7" fill="#8cc8f0"/>
<rect x="1235.8" y="688.83" width="4.7" height="4.7" fill="#8cc8f0"/>
<rect x="1238.03" y="688.23" width="4.7" height="4.7" fill="#8cc8f0"/>
<rect x="1240.25" y="687.63" width="4.7" height="4.7" fill="#8cc8f0"/>
<rect x="1242.48" y="687.03" width="4.7" height="4.7" fill="#8cc8f0"/>
<rect x="1244.71" y="686.43" width="4.7" height="4.7" fill="#8cc8f0"/>
<rect x="1246.94" y="685.83" width="4.7" height="4.7" fill="#8cc8f0"/>
<rect x="1249.17" y="685.23" width="4.7" height="4.7" fill="#8cc8f0"/>
<rect x="1251.39" y="684.64" width="4.7" height="4.7" fill="#8cc8f0"/>
<rect x="1253.62" y="684.05" width="4.7" height="4.7" fill="#8cc8f0"/>
<rect x="1255.85" y="683.47" width="4.7" height="4.7" fill="#8cc8f0"/>
<rect x="1258.08" y="682.89" width="4.7" height="4.7" fill="#8cc8f0"/>
<rect x="1260.31" y="682.32" width="4.7" height="4.7" fill="#8cc8f0"/>
<rect x="1262.53" y="681.76" width="4.7" height="4.7" fill="#8cc8f0"/>
<rect x="1264.76" y="681.2" width="4.7" height="4.7" fill="#8cc8f0"/>
<rect x="1266.99" y="680.66" width="4.7" height="4.7" fill="#8cc8f0"/>
<rect x="1269.22" y="680.13" width="4.7" height="4.7" fill="#8cc8f0"/>
<rect x="1271.45" y="679.62" width="4.7" height="4.7" fill="#8cc8f0"/>
<rect x="1273.67" y="679.12" width="4.7" height="4.7" fill="#8cc8f0"/>
<rect x="1275.9" y="678.65" width="4.7" height="4.7" fill="#8cc8f0"/>
<rect x="1278.13" y="678.2" width="4.7" height="4.7" fill="#8cc8f0"/>
<rect x="1280.36" y="677.77" width="4.7" height="4.7" fill="#8cc8f0"/>
<rect x="1282.59" y="677.38" width="4.7" height="4.7" fill="#8cc8f0"/>
<rect x="1284.81" y="677.02" width="4.7" height="4.7" fill="#8cc8f0"/>
<rect x="1287.04" y="676.7" width="4.7" height="4.7" fill="#8cc8f0"/>
<rect x="1289.27" y="676.42" width="4.7" height="4.7" fill="#8cc8f0"/>
<rect x="1291.5" y="676.19" width="4.7" height="4.7" fill="#8cc8f0"/>
<rect x="1293.73" y="676" width="4.7" height="4.7" fill="#8cc8f0"/>
<rect x="1295.95" y="675.86" width="4.7" height="4.7" fill="#8cc8f0"/>
<rect x="1298.18" y="675.77" width="4.7" height="4.7" fill="#8cc8f0"/>
<rect x="1300.41" y="675.74" width="4.7" height="4.7" fill="#8cc8f0"/>
<rect x="1302.64" y="675.77" width="4.7" height="4.7" fill="#8cc8f0"/>
<rect x="1304.87" y="675.87" width="4.7" height="4.7" fill="#8cc8f0"/>
<rect x="1307.09" y="676.05" width="4.7" height="4.7" fill="#8cc8f0"/>
<rect x="1309.32" y="676.32" width="4.7" height="4.7" fill="#8cc8f0"/>
<rect x="1311.55" y="676.7" width="4.7" height="4.7" fill="#8cc8f0"/>
<rect x="1313.78" y="677.21" width="4.7" height="4.7" fill="#8cc8f0"/>
<rect x="1316.01" y="677.88" width="4.7" height="4.7" fill="#8cc8f0"/>
<rect x="1318.23" y="678.75" width="4.7" height="4.7" fill="#8cc8f0"/>
<rect x="1320.46" y="679.86" width="4.7" height="4.7" fill="#8cc8f0"/>
<rect x="1322.69" y="681.26" width="4.7" height="4.7" fill="#8cc8f0"/>
<rect x="1324.92" y="683.04" width="4.7" height="4.7" fill="#8cc8f0"/>
<rect x="1327.15" y="685.28" width="4.7" height="4.7" fill="#8cc8f0"/>
<rect x="1329.37" y="688.1" width="4.7" height="4.7" fill="#8cc8f0"/>
<rect x="1331.6" y="691.65" width="4.7" height="4.7" fill="#8cc8f0"/>
<rect x="1333.83" y="696.11" width="4.7" height="4.7" fill="#8cc8f0"/>
<rect x="1336.06" y="701.72" width="4.7" height="4.7" fill="#8cc8f0"/>
<rect x="1338.29" y="708.76" width="4.7" height="4.7" fill="#8cc8f0"/>
<rect x="1340.51" y="717.6" width="4.7" height="4.7" fill="#8cc8f0"/>
<rect x="1342.74" y="728.69" width="4.7" height="4.7" fill="#8cc8f0"/>
<rect x="1344.97" y="742.63" width="4.7" height="4.7" fill="#8cc8f0"/>
<rect x="1347.2" y="760.11" width="4.7" height="4.7" fill="#8cc8f0"/>
<rect x="1349.43" y="782.07" width="4.7" height="4.7" fill="#8cc8f0"/>
<rect x="1351.65" y="809.55" width="4.7" height="4.7" fill="#8cc8f0"/>
<rect x="1353.88" y="828.02" width="4.7" height="4.7" fill="#8cc8f0"/>
<rect x="1356.11" y="828.06" width="4.7" height="4.7" fill="#8cc8f0"/>
<rect x="1358.34" y="827.99" width="4.7" height="4.7" fill="#8cc8f0"/>
<rect x="1360.57" y="827.92" width="4.7" height="4.7" fill="#8cc8f0"/>
<rect x="1362.79" y="827.84" width="4.7" height="4.7" fill="#8cc8f0"/>
<rect x="1365.02" y="827.77" width="4.7" height="4.7" fill="#8cc8f0"/>
<rect x="1367.25" y="827.69" width="4.7" height="4.7" fill="#8cc8f0"/>
<rect x="1369.48" y="827.62" width="4.7" height="4.7" fill="#8cc8f0"/>
<rect x="1371.71" y="827.54" width="4.7" height="4.7" fill="#8cc8f0"/>
<rect x="1373.93" y="827.47" width="4.7" height="4.7" fill="#8cc8f0"/>
<rect x="1376.16" y="827.4" width="4.7" height="4.7" fill="#8cc8f0"/>
<rect x="1378.39" y="827.32" width="4.7" height="4.7" fill="#8cc8f0"/>
<rect x="1380.62" y="827.25" width="4.7" height="4.7" fill="#8cc8f0"/>
<rect x="1382.85" y="827.17" width="4.7" height="4.7" fill="#8cc8f0"/>
<rect x="1385.07" y="827.1" width="4.7" height="4.7" fill="#8cc8f0"/>
<rect x="1387.3" y="827.02" width="4.7" height="4.7" fill="#8cc8f0"/>
<rect x="1389.53" y="826.95" width="4.7" height="4.7" fill="#8cc8f0"/>
<rect x="1391.76" y="826.88" width="4.7" height="4.7" fill="#8cc8f0"/>
<rect x="1393.99" y="826.8" width="4.7" height="4.7" fill="#8cc8f0"/>
<rect x="1396.21" y="826.73" width="4.7" height="4.7" fill="#8cc8f0"/>
<rect x="1398.44" y="826.65" width="4.7" height="4.7" fill="#8cc8f0"/>
<rect x="1400.67" y="826.58" width="4.7" height="4.7" fill="#8cc8f0"/>
<rect x="1402.9" y="826.51" width="4.7" height="4.7" fill="#8cc8f0"/>
<rect x="1405.13" y="826.43" width="4.7" height="4.7" fill="#8cc8f0"/>
<rect x="1407.35" y="826.36" width="4.7" height="4.7" fill="#8cc8f0"/>
<rect x="1409.58" y="826.28" width="4.7" height="4.7" fill="#8cc8f0"/>
<rect x="1411.81" y="826.21" width="4.7" height="4.7" fill="#8cc8f0"/>
<rect x="1414.04" y="826.13" width="4.7" height="4.7" fill="#8cc8f0"/>
<rect x="1416.27" y="826.06" width="4.7" height="4.7" fill="#8cc8f0"/>
<rect x="1418.49" y="825.99" width="4.7" height="4.7" fill="#8cc8f0"/>
<rect x="1420.72" y="825.91" width="4.7" height="4.7" fill="#8cc8f0"/>
<rect x="1422.95" y="825.84" width="4.7" height="4.7" fill="#8cc8f0"/>
<rect x="1425.18" y="825.76" width="4.7" height="4.7" fill="#8cc8f0"/>
<rect x="1427.41" y="825.69" width="4.7" height="4.7" fill="#8cc8f0"/>
<rect x="1429.63" y="825.61" width="4.7" height="4.7" fill="#8cc8f0"/>
<rect x="1431.86" y="825.54" width="4.7" height="4.7" fill="#8cc8f0"/>
<rect x="1434.09" y="825.47" width="4.7" height="4.7" fill="#8cc8f0"/>
<rect x="1436.32" y="825.39" width="4.7" height="4.7" fill="#8cc8f0"/>
<rect x="1438.55" y="825.32" width="4.7" height="4.7" fill="#8cc8f0"/>
<rect x="1440.77" y="825.24" width="4.7" height="4.7" fill="#8cc8f0"/>
<rect x="1443" y="825.17" width="4.7" height="4.7" fill="#8cc8f0"/>
<rect x="1445.23" y="825.09" width="4.7" height="4.7" fill="#8cc8f0"/>
<rect x="1447.46" y="825.02" width="4.7" height="4.7" fill="#8cc8f0"/>
<rect x="1449.69" y="824.95" width="4.7" height="4.7" fill="#8cc8f0"/>
<rect x="1451.91" y="824.87" width="4.7" height="4.7" fill="#8cc8f0"/>
<rect x="1454.14" y="824.8" width="4.7" height="4.7" fill="#8cc8f0"/>
<rect x="1456.37" y="824.72" width="4.7" height="4.7" fill="#8cc8f0"/>
<rect x="1458.6" y="824.65" width="4.7" height="4.7" fill="#8cc8f0"/>
<rect x="1460.83" y="824.58" width="4.7" height="4.7" fill="#8cc8f0"/>
<rect x="1463.05" y="824.5" width="4.7" height="4.7" fill="#8cc8f0"/>
<rect x="1465.28" y="824.43" width="4.7" height="4.7" fill="#8cc8f0"/>
<rect x="1467.51" y="824.35" width="4.7" height="4.7" fill="#8cc8f0"/>
<rect x="1469.74" y="824.28" width="4.7" height="4.7" fill="#8cc8f0"/>
<rect x="1471.97" y="824.2" width="4.7" height="4.7" fill="#8cc8f0"/>
<rect x="1474.19" y="824.13" width="4.7" height="4.7" fill="#8cc8f0"/>
<rect x="1476.42" y="824.06" width="4.7" height="4.7" fill="#8cc8f0"/>
<rect x="1201.26" y="699.45" width="4.7" height="4.7" fill="#8cc8f0"/>
<rect x="1203.49" y="698.84" width="4.7" height="4.7" fill="#8cc8f0"/>
<rect x="1205.72" y="698.23" width="4.7" height="4.7" fill="#8cc8f0"/>
<rect x="1207.95" y="697.62" width="4.7" height="4.7" fill="#8cc8f0"/>
<rect x="1210.18" y="697.01" width="4.7" height="4.7" fill="#8cc8f0"/>
<rect x="1212.4" y="696.4" width="4.7" height="4.7" fill="#8cc8f0"/>
<rect x="1214.63" y="695.8" width="4.7" height="4.7" fill="#8cc8f0"/>
<rect x="1216.86" y="695.19" width="4.7" height="4.7" fill="#8cc8f0"/>
<rect x="1219.09" y="694.58" width="4.7" height="4.7" fill="#8cc8f0"/>
<rect x="1221.32" y="693.97" width="4.7" height="4.7" fill="#8cc8f0"/>
<rect x="1223.54" y="693.37" width="4.7" height="4.7" fill="#8cc8f0"/>
<rect x="1225.77" y="692.76" width="4.7" height="4.7" fill="#8cc8f0"/>
<rect x="1228" y="692.15" width="4.7" height="4.7" fill="#8cc8f0"/>
<rect x="1230.23" y="691.55" width="4.7" height="4.7" fill="#8cc8f0"/>
<rect x="1232.46" y="690.94" width="4.7" height="4.7" fill="#8cc8f0"/>
<rect x="1234.68" y="690.34" width="4.7" height="4.7" fill="#8cc8f0"/>
<rect x="1236.91" y="689.73" width="4.7" height="4.7" fill="#8cc8f0"/>
<rect x="1239.14" y="689.13" width="4.7" height="4.7" fill="#8cc8f0"/>
<rect x="1241.37" y="688.53" width="4.7" height="4.7" fill="#8cc8f0"/>
<rect x="1243.6" y="687.93" width="4.7" height="4.7" fill="#8cc8f0"/>
<rect x="1245.82" y="687.33" width="4.7" height="4.7" fill="#8cc8f0"/>
<rect x="1248.05" y="686.73" width="4.7" height="4.7" fill="#8cc8f0"/>
<rect x="1250.28" y="686.14" width="4.7" height="4.7" fill="#8cc8f0"/>
<rect x="1252.51" y="685.55" width="4.7" height="4.7" fill="#8cc8f0"/>
<rect x="1254.74" y="684.96" width="4.7" height="4.7" fill="#8cc8f0"/>
<rect x="1256.96" y="684.38" width="4.7" height="4.7" fill="#8cc8f0"/>
<rect x="1259.19" y="683.8" width="4.7" height="4.7" fill="#8cc8f0"/>
<rect x="1261.42" y="683.24" width="4.7" height="4.7" fill="#8cc8f0"/>
<rect x="1263.65" y="682.68" width="4.7" height="4.7" fill="#8cc8f0"/>
<rect x="1265.88" y="682.13" width="4.7" height="4.7" fill="#8cc8f0"/>
<rect x="1268.1" y="681.59" width="4.7" height="4.7" fill="#8cc8f0"/>
<rect x="1270.33" y="681.07" width="4.7" height="4.7" fill="#8cc8f0"/>
<rect x="1272.56" y="680.56" width="4.7" height="4.7" fill="#8cc8f0"/>
<rect x="1274.79" y="680.08" width="4.7" height="4.7" fill="#8cc8f0"/>
<rect x="1277.02" y="679.62" width="4.7" height="4.7" fill="#8cc8f0"/>
<rect x="1279.24" y="679.18" width="4.7" height="4.7" fill="#8cc8f0"/>
<rect x="1281.47" y="678.77" width="4.7" height="4.7" fill="#8cc8f0"/>
<rect x="1283.7" y="678.4" width="4.7" height="4.7" fill="#8cc8f0"/>
<rect x="1285.93" y="678.06" width="4.7" height="4.7" fill="#8cc8f0"/>
<rect x="1288.16" y="677.76" width="4.7" height="4.7" fill="#8cc8f0"/>
<rect x="1290.38" y="677.5" width="4.7" height="4.7" fill="#8cc8f0"/>
<rect x="1292.61" y="677.29" width="4.7" height="4.7" fill="#8cc8f0"/>
<rect x="1294.84" y="677.12" width="4.7" height="4.7" fill="#8cc8f0"/>
<rect x="1297.07" y="677" width="4.7" height="4.7" fill="#8cc8f0"/>
<rect x="1299.3" y="676.94" width="4.7" height="4.7" fill="#8cc8f0"/>
<rect x="1301.52" y="676.94" width="4.7" height="4.7" fill="#8cc8f0"/>
<rect x="1303.75" y="677.01" width="4.7" height="4.7" fill="#8cc8f0"/>
<rect x="1305.98" y="677.15" width="4.7" height="4.7" fill="#8cc8f0"/>
<rect x="1308.21" y="677.37" width="4.7" height="4.7" fill="#8cc8f0"/>
<rect x="1310.44" y="677.7" width="4.7" height="4.7" fill="#8cc8f0"/>
<rect x="1312.66" y="678.14" width="4.7" height="4.7" fill="#8cc8f0"/>
<rect x="1314.89" y="678.73" width="4.7" height="4.7" fill="#8cc8f0"/>
<rect x="1317.12" y="679.49" width="4.7" height="4.7" fill="#8cc8f0"/>
<rect x="1319.35" y="680.47" width="4.7" height="4.7" fill="#8cc8f0"/>
<rect x="1321.58" y="681.72" width="4.7" height="4.7" fill="#8cc8f0"/>
<rect x="1323.8" y="683.3" width="4.7" height="4.7" fill="#8cc8f0"/>
<rect x="1326.03" y="685.29" width="4.7" height="4.7" fill="#8cc8f0"/>
<rect x="1328.26" y="687.81" width="4.7" height="4.7" fill="#8cc8f0"/>
<rect x="1330.49" y="690.97" width="4.7" height="4.7" fill="#8cc8f0"/>
<rect x="1332.72" y="694.95" width="4.7" height="4.7" fill="#8cc8f0"/>
<rect x="1334.94" y="699.95" width="4.7" height="4.7" fill="#8cc8f0"/>
<rect x="1337.17" y="706.24" width="4.7" height="4.7" fill="#8cc8f0"/>
<rect x="1339.4" y="714.13" width="4.7" height="4.7" fill="#8cc8f0"/>
<rect x="1341.63" y="724.03" width="4.7" height="4.7" fill="#8cc8f0"/>
<rect x="1343.86" y="736.46" width="4.7" height="4.7" fill="#8cc8f0"/>
<rect x="1346.08" y="752.07" width="4.7" height="4.7" fill="#8cc8f0"/>
<rect x="1348.31" y="771.67" width="4.7" height="4.7" fill="#8cc8f0"/>
<rect x="1350.54" y="796.26" width="4.7" height="4.7" fill="#8cc8f0"/>
<rect x="1352.77" y="825.03" width="4.7" height="4.7" fill="#8cc8f0"/>
<rect x="1355" y="829.3" width="4.7" height="4.7" fill="#8cc8f0"/>
<rect x="1357.22" y="829.23" width="4.7" height="4.7" fill="#8cc8f0"/>
<rect x="1359.45" y="829.15" width="4.7" height="4.7" fill="#8cc8f0"/>
<rect x="1361.68" y="829.08" width="4.7" height="4.7" fill="#8cc8f0"/>
<rect x="1363.91" y="829" width="4.7" height="4.7" fill="#8cc8f0"/>
<rect x="1366.14" y="828.93" width="4.7" height="4.7" fill="#8cc8f0"/>
<rect x="1368.36" y="828.86" width="4.7" height="4.7" fill="#8cc8f0"/>
<rect x="1370.59" y="828.78" width="4.7" height="4.7" fill="#8cc8f0"/>
<rect x="1372.82" y="828.71" width="4.7" height="4.7" fill="#8cc8f0"/>
<rect x="1375.05" y="828.63" width="4.7" height="4.7" fill="#8cc8f0"/>
<rect x="1377.28" y="828.56" width="4.7" height="4.7" fill="#8cc8f0"/>
<rect x="1379.5" y="828.48" width="4.7" height="4.7" fill="#8cc8f0"/>
<rect x="1381.73" y="828.41" width="4.7" height="4.7" fill="#8cc8f0"/>
<rect x="1383.96" y="828.34" width="4.7" height="4.7" fill="#8cc8f0"/>
<rect x="1386.19" y="828.26" width="4.7" height="4.7" fill="#8cc8f0"/>
<rect x="1388.42" y="828.19" width="4.7" height="4.7" fill="#8cc8f0"/>
<rect x="1390.64" y="828.11" width="4.7" height="4.7" fill="#8cc8f0"/>
<rect x="1392.87" y="828.04" width="4.7" height="4.7" fill="#8cc8f0"/>
<rect x="1395.1" y="827.96" width="4.7" height="4.7" fill="#8cc8f0"/>
<rect x="1397.33" y="827.89" width="4.7" height="4.7" fill="#8cc8f0"/>
<rect x="1399.56" y="827.82" width="4.7" height="4.7" fill="#8cc8f0"/>
<rect x="1401.78" y="827.74" width="4.7" height="4.7" fill="#8cc8f0"/>
<rect x="1404.01" y="827.67" width="4.7" height="4.7" fill="#8cc8f0"/>
<rect x="1406.24" y="827.59" width="4.7" height="4.7" fill="#8cc8f0"/>
<rect x="1408.47" y="827.52" width="4.7" height="4.7" fill="#8cc8f0"/>
<rect x="1410.7" y="827.45" width="4.7" height="4.7" fill="#8cc8f0"/>
<rect x="1412.92" y="827.37" width="4.7" height="4.7" fill="#8cc8f0"/>
<rect x="1415.15" y="827.3" width="4.7" height="4.7" fill="#8cc8f0"/>
<rect x="1417.38" y="827.22" width="4.7" height="4.7" fill="#8cc8f0"/>
<rect x="1419.61" y="827.15" width="4.7" height="4.7" fill="#8cc8f0"/>
<rect x="1421.84" y="827.07" width="4.7" height="4.7" fill="#8cc8f0"/>
<rect x="1424.06" y="827" width="4.7" height="4.7" fill="#8cc8f0"/>
<rect x="1426.29" y="826.93" width="4.7" height="4.7" fill="#8cc8f0"/>
<rect x="1428.52" y="826.85" width="4.7" height="4.7" fill="#8cc8f0"/>
<rect x="1430.75" y="826.78" width="4.7" height="4.7" fill="#8cc8f0"/>
<rect x="1432.98" y="826.7" width="4.7" height="4.7" fill="#8cc8f0"/>
<rect x="1435.2" y="826.63" width="4.7" height="4.7" fill="#8cc8f0"/>
<rect x="1437.43" y="826.55" width="4.7" height="4.7" fill="#8cc8f0"/>
<rect x="1439.66" y="826.48" width="4.7" height="4.7" fill="#8cc8f0"/>
<rect x="1441.89" y="826.41" width="4.7" height="4.7" fill="#8cc8f0"/>
<rect x="1444.12" y="826.33" width="4.7" height="4.7" fill="#8cc8f0"/>
<rect x="1446.34" y="826.26" width="4.7" height="4.7" fill="#8cc8f0"/>
<rect x="1448.57" y="826.18" width="4.7" height="4.7" fill="#8cc8f0"/>
<rect x="1450.8" y="826.11" width="4.7" height="4.7" fill="#8cc8f0"/>
<rect x="1453.03" y="826.04" width="4.7" height="4.7" fill="#8cc8f0"/>
<rect x="1455.26" y="825.96" width="4.7" height="4.7" fill="#8cc8f0"/>
<rect x="1457.48" y="825.89" width="4.7" height="4.7" fill="#8cc8f0"/>
<rect x="1459.71" y="825.81" width="4.7" height="4.7" fill="#8cc8f0"/>
<rect x="1461.94" y="825.74" width="4.7" height="4.7" fill="#8cc8f0"/>
<rect x="1464.17" y="825.66" width="4.7" height="4.7" fill="#8cc8f0"/>
<rect x="1466.4" y="825.59" width="4.7" height="4.7" fill="#8cc8f0"/>
<rect x="1468.62" y="825.52" width="4.7" height="4.7" fill="#8cc8f0"/>
<rect x="1470.85" y="825.44" width="4.7" height="4.7" fill="#8cc8f0"/>
<rect x="1473.08" y="825.37" width="4.7" height="4.7" fill="#8cc8f0"/>
<rect x="1475.31" y="825.29" width="4.7" height="4.7" fill="#8cc8f0"/>
<rect x="1477.54" y="825.22" width="4.7" height="4.7" fill="#8cc8f0"/>
<line x1="1202.5" y1="602" x2="1481" y2="602" stroke="#000" stroke-width="2.9"/>
<line x1="1481" y1="602" x2="1481" y2="935.4" stroke="#000" stroke-width="2.8"/>
<line x1="1202.5" y1="935.4" x2="1481" y2="935.4" stroke="#000" stroke-width="2.9"/>
<line x1="1202.5" y1="600.6" x2="1202.5" y2="936.8" stroke="#000" stroke-width="2.8"/>
<line x1="1202.5" y1="916.88" x2="1198" y2="916.88" stroke="#000" stroke-width="2.2"/>
<line x1="1202.5" y1="879.77" x2="1200" y2="879.77" stroke="#000" stroke-width="2.2"/>
<line x1="1202.5" y1="842.66" x2="1198" y2="842.66" stroke="#000" stroke-width="2.2"/>
<line x1="1202.5" y1="805.55" x2="1200" y2="805.55" stroke="#000" stroke-width="2.2"/>
<line x1="1202.5" y1="768.44" x2="1198" y2="768.44" stroke="#000" stroke-width="2.2"/>
<line x1="1202.5" y1="731.33" x2="1200" y2="731.33" stroke="#000" stroke-width="2.2"/>
<line x1="1202.5" y1="694.22" x2="1198" y2="694.22" stroke="#000" stroke-width="2.2"/>
<line x1="1202.5" y1="657.11" x2="1200" y2="657.11" stroke="#000" stroke-width="2.2"/>
<line x1="1202.5" y1="620" x2="1198" y2="620" stroke="#000" stroke-width="2.2"/>
<line x1="1202.5" y1="935.4" x2="1202.5" y2="937.9" stroke="#000" stroke-width="2.2"/>
<line x1="1258.2" y1="935.4" x2="1258.2" y2="940.4" stroke="#000" stroke-width="2.2"/>
<line x1="1313.9" y1="935.4" x2="1313.9" y2="937.9" stroke="#000" stroke-width="2.2"/>
<line x1="1369.6" y1="935.4" x2="1369.6" y2="940.4" stroke="#000" stroke-width="2.2"/>
<line x1="1425.3" y1="935.4" x2="1425.3" y2="937.9" stroke="#000" stroke-width="2.2"/>
<line x1="1481" y1="935.4" x2="1481" y2="940.4" stroke="#000" stroke-width="2.2"/>
<text x="1195.07" y="630.2" font-size="35.8" text-anchor="end" fill="#000">0</text>
<text x="1195.04" y="704.42" font-size="35.8" text-anchor="end" fill="#000">-20</text>
<text x="1195.04" y="778.64" font-size="35.8" text-anchor="end" fill="#000">-40</text>
<text x="1195.04" y="852.86" font-size="35.8" text-anchor="end" fill="#000">-60</text>
<text x="1195.04" y="927.08" font-size="35.8" text-anchor="end" fill="#000">-80</text>
<text x="1232.85" y="970" font-size="35.8" text-anchor="start" fill="#000">-60</text>
<text x="1344.24" y="970" font-size="35.8" text-anchor="start" fill="#000">-50</text>
<text x="1455.64" y="970" font-size="35.8" text-anchor="start" fill="#000">-40</text>
<g transform="translate(1298 1004.8)">
<text x="-3.06" y="0" font-size="36" text-anchor="start" fill="#000" font-style="italic">V</text>
<text x="19.44" y="9.1" font-size="24" text-anchor="start" fill="#000">in</text>
<text x="43.94" y="0" font-size="36" text-anchor="start" fill="#000">(V)</text>
</g>
<g transform="translate(1128.3 815.8) rotate(-90)">
<text x="-3.06" y="0" font-size="36" text-anchor="start" fill="#000" font-style="italic">V</text>
<text x="16.51" y="8.4" font-size="24.8" text-anchor="start" fill="#000">out</text>
<text x="57.84" y="0" font-size="36" text-anchor="start" fill="#000">(v)</text>
</g>
<text x="1206.39" y="628.5" font-size="22" text-anchor="start" fill="#000">VDD=-70V</text>
<text x="1365.84" y="627" font-size="22" text-anchor="start" fill="#000">strain</text>
<rect x="1387.6" y="643.1" width="4.8" height="4.8" fill="#0d3f62"/>
<text x="1420.5" y="653.5" font-size="22.3" text-anchor="start" fill="#000">0%</text>
<rect x="1387.6" y="670" width="4.8" height="4.8" fill="#1b6ea8"/>
<text x="1420.5" y="680.4" font-size="22.3" text-anchor="start" fill="#000">25%</text>
<rect x="1387.6" y="696.9" width="4.8" height="4.8" fill="#2a8fd8"/>
<text x="1420.5" y="707.3" font-size="22.3" text-anchor="start" fill="#000">50%</text>
<rect x="1387.6" y="723.8" width="4.8" height="4.8" fill="#56aae6"/>
<text x="1420.5" y="734.2" font-size="22.3" text-anchor="start" fill="#000">75%</text>
<rect x="1387.6" y="750.7" width="4.8" height="4.8" fill="#8cc8f0"/>
<text x="1420.5" y="761.1" font-size="22.3" text-anchor="start" fill="#000">100%</text>
<polygon points="1205,885.1 1223.6,878.1 1223.6,892.1" fill="#000"/>
<rect x="1222" y="883.5" width="10.4" height="3.2" fill="#000"/>
<rect x="1239.1" y="872.3" width="10.3" height="25.4" fill="#808080"/>
<rect x="1252.3" y="872.3" width="10.3" height="25.4" fill="#808080"/>
<rect x="1266.2" y="883.5" width="10.4" height="3.2" fill="#000"/>
<polygon points="1294.2,885.1 1275.5,878.1 1275.5,892.1" fill="#000"/>
<defs>
<radialGradient id="bsph" cx="0.38" cy="0.32" r="0.7"><stop offset="0" stop-color="#d0d0d0"/><stop offset="0.3" stop-color="#333"/><stop offset="1" stop-color="#000"/></radialGradient>
<radialGradient id="lsph" cx="0.38" cy="0.32" r="0.7"><stop offset="0" stop-color="#e8f2fb"/><stop offset="0.35" stop-color="#8cbbe4"/><stop offset="1" stop-color="#5f9ccf"/></radialGradient>
</defs>
<polyline points="1635.5,837.78 1698.87,818.82 1762.24,786.44 1825.61,826.33 1888.98,847.26" fill="none" stroke="#000" stroke-width="2.4" stroke-linejoin="round" stroke-linecap="round"/>
<polyline points="1635.5,753.95 1698.87,745.51 1762.24,738.75 1825.61,734.1 1888.98,731.57" fill="none" stroke="#6fa6d6" stroke-width="2.8" stroke-linejoin="round" stroke-linecap="round"/>
<circle cx="1635.5" cy="837.78" r="5.4" fill="url(#bsph)"/>
<circle cx="1698.87" cy="818.82" r="5.4" fill="url(#bsph)"/>
<circle cx="1762.24" cy="786.44" r="5.4" fill="url(#bsph)"/>
<circle cx="1825.61" cy="826.33" r="5.4" fill="url(#bsph)"/>
<circle cx="1888.98" cy="847.26" r="5.4" fill="url(#bsph)"/>
<circle cx="1635.5" cy="753.95" r="5.6" fill="url(#lsph)"/>
<circle cx="1698.87" cy="745.51" r="5.6" fill="url(#lsph)"/>
<circle cx="1762.24" cy="738.75" r="5.6" fill="url(#lsph)"/>
<circle cx="1825.61" cy="734.1" r="5.6" fill="url(#lsph)"/>
<circle cx="1888.98" cy="731.57" r="5.6" fill="url(#lsph)"/>
<line x1="1623.4" y1="602.6" x2="1900.6" y2="602.6" stroke="#000" stroke-width="2.6"/>
<line x1="1623.4" y1="937.7" x2="1900.6" y2="937.7" stroke="#000" stroke-width="2.6"/>
<line x1="1623.4" y1="601.3" x2="1623.4" y2="939" stroke="#000" stroke-width="2.6"/>
<line x1="1901.3" y1="601.3" x2="1901.3" y2="939" stroke="#6fa6d6" stroke-width="3.2"/>
<line x1="1623.4" y1="937.7" x2="1617.4" y2="937.7" stroke="#000" stroke-width="2.2"/>
<line x1="1623.4" y1="898.21" x2="1620.4" y2="898.21" stroke="#000" stroke-width="2.2"/>
<line x1="1623.4" y1="858.71" x2="1617.4" y2="858.71" stroke="#000" stroke-width="2.2"/>
<line x1="1623.4" y1="819.22" x2="1620.4" y2="819.22" stroke="#000" stroke-width="2.2"/>
<line x1="1623.4" y1="779.72" x2="1617.4" y2="779.72" stroke="#000" stroke-width="2.2"/>
<line x1="1623.4" y1="740.23" x2="1620.4" y2="740.23" stroke="#000" stroke-width="2.2"/>
<line x1="1623.4" y1="700.74" x2="1617.4" y2="700.74" stroke="#000" stroke-width="2.2"/>
<line x1="1623.4" y1="661.24" x2="1620.4" y2="661.24" stroke="#000" stroke-width="2.2"/>
<line x1="1623.4" y1="621.75" x2="1617.4" y2="621.75" stroke="#000" stroke-width="2.2"/>
<line x1="1897.6" y1="939.8" x2="1900.6" y2="939.8" stroke="#6fa6d6" stroke-width="2"/>
<line x1="1898.8" y1="897.56" x2="1900.6" y2="897.56" stroke="#6fa6d6" stroke-width="2"/>
<line x1="1897.6" y1="855.32" x2="1900.6" y2="855.32" stroke="#6fa6d6" stroke-width="2"/>
<line x1="1898.8" y1="813.09" x2="1900.6" y2="813.09" stroke="#6fa6d6" stroke-width="2"/>
<line x1="1897.6" y1="770.85" x2="1900.6" y2="770.85" stroke="#6fa6d6" stroke-width="2"/>
<line x1="1898.8" y1="728.61" x2="1900.6" y2="728.61" stroke="#6fa6d6" stroke-width="2"/>
<line x1="1897.6" y1="686.38" x2="1900.6" y2="686.38" stroke="#6fa6d6" stroke-width="2"/>
<line x1="1898.8" y1="644.14" x2="1900.6" y2="644.14" stroke="#6fa6d6" stroke-width="2"/>
<line x1="1897.6" y1="601.9" x2="1900.6" y2="601.9" stroke="#6fa6d6" stroke-width="2"/>
<line x1="1635.5" y1="937.7" x2="1635.5" y2="943.7" stroke="#000" stroke-width="2.2"/>
<line x1="1667.18" y1="937.7" x2="1667.18" y2="940.7" stroke="#000" stroke-width="2.2"/>
<line x1="1698.87" y1="937.7" x2="1698.87" y2="943.7" stroke="#000" stroke-width="2.2"/>
<line x1="1730.56" y1="937.7" x2="1730.56" y2="940.7" stroke="#000" stroke-width="2.2"/>
<line x1="1762.24" y1="937.7" x2="1762.24" y2="943.7" stroke="#000" stroke-width="2.2"/>
<line x1="1793.92" y1="937.7" x2="1793.92" y2="940.7" stroke="#000" stroke-width="2.2"/>
<line x1="1825.61" y1="937.7" x2="1825.61" y2="943.7" stroke="#000" stroke-width="2.2"/>
<line x1="1857.3" y1="937.7" x2="1857.3" y2="940.7" stroke="#000" stroke-width="2.2"/>
<line x1="1888.98" y1="937.7" x2="1888.98" y2="943.7" stroke="#000" stroke-width="2.2"/>
<text x="1614.67" y="947.9" font-size="35.8" text-anchor="end" fill="#000">0</text>
<text x="1614.71" y="868.91" font-size="35.8" text-anchor="end" fill="#000">20</text>
<text x="1614.71" y="789.92" font-size="35.8" text-anchor="end" fill="#000">40</text>
<text x="1614.71" y="710.94" font-size="35.8" text-anchor="end" fill="#000">60</text>
<text x="1614.71" y="631.95" font-size="35.8" text-anchor="end" fill="#000">80</text>
<text x="1625.57" y="973" font-size="35.8" text-anchor="start" fill="#000">0</text>
<text x="1678.82" y="973" font-size="35.8" text-anchor="start" fill="#000">25</text>
<text x="1742.37" y="973" font-size="35.8" text-anchor="start" fill="#000">50</text>
<text x="1805.56" y="973" font-size="35.8" text-anchor="start" fill="#000">75</text>
<text x="1858.55" y="973" font-size="35.8" text-anchor="start" fill="#000">100</text>
<text x="1906.49" y="613.1" font-size="35.8" text-anchor="start" fill="#6fa6d6">-40</text>
<text x="1906.49" y="697.58" font-size="35.8" text-anchor="start" fill="#6fa6d6">-50</text>
<text x="1906.49" y="782.05" font-size="35.8" text-anchor="start" fill="#6fa6d6">-60</text>
<text x="1906.49" y="866.52" font-size="35.8" text-anchor="start" fill="#6fa6d6">-70</text>
<text x="1906.49" y="951" font-size="35.8" text-anchor="start" fill="#6fa6d6">-80</text>
<text x="1688.86" y="1010.9" font-size="34.8" text-anchor="start" fill="#000">strain (%)</text>
<g transform="translate(1569 835.9) rotate(-90)">
<text x="-1.43" y="0" font-size="28.6" text-anchor="start" fill="#000">Gain (V/V)</text>
</g>
<g transform="translate(1984.8 810.3) rotate(-90)">
<text x="-0.14" y="0" font-size="28.5" text-anchor="start" fill="#6fa6d6">V</text>
<text x="18.33" y="8.7" font-size="19.5" text-anchor="start" fill="#6fa6d6">m</text>
<text x="42.99" y="0" font-size="28.5" text-anchor="start" fill="#6fa6d6">(V)</text>
</g>
<polygon points="1766.9,887.9 1788.1,880.9 1788.1,894.9" fill="#000"/>
<rect x="1786.28" y="886.3" width="11.86" height="3.2" fill="#000"/>
<rect x="1805.77" y="875.1" width="11.74" height="25.4" fill="#808080"/>
<rect x="1820.82" y="875.1" width="11.74" height="25.4" fill="#808080"/>
<rect x="1836.67" y="886.3" width="11.86" height="3.2" fill="#000"/>
<polygon points="1868.59,887.9 1847.27,880.9 1847.27,894.9" fill="#000"/>
</svg>
</body></html>
